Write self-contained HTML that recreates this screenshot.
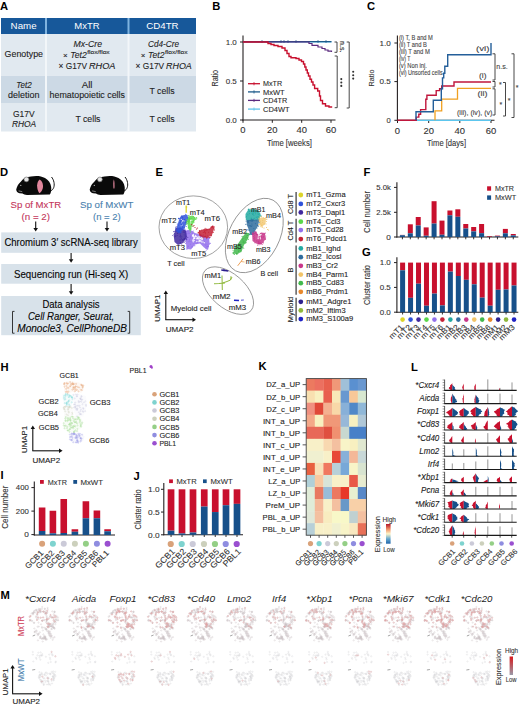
<!DOCTYPE html>
<html><head><meta charset="utf-8"><style>
html,body{margin:0;padding:0;background:#fff;}
body{width:520px;height:707px;overflow:hidden;}
svg{display:block;font-family:"Liberation Sans",sans-serif;}
</style></head><body>
<svg width="520" height="707" viewBox="0 0 520 707">
<text x="0.10" y="9.50" font-size="11.2" fill="#000" font-weight="bold">A</text>
<rect x="1.00" y="18.00" width="195.00" height="16.00" fill="#17589a"/>
<rect x="1.00" y="34.00" width="195.00" height="41.50" fill="#e1e9f0"/>
<rect x="1.00" y="75.60" width="195.00" height="28.00" fill="#ccd9e5"/>
<rect x="1.00" y="103.50" width="195.00" height="28.00" fill="#e1e9f0"/>
<rect x="45.00" y="18.00" width="2.00" height="16.00" fill="#7fb3df"/>
<rect x="127.50" y="18.00" width="2.00" height="16.00" fill="#7fb3df"/>
<rect x="45.00" y="34.00" width="2.00" height="97.50" fill="#f2f6f9"/>
<rect x="127.50" y="34.00" width="2.00" height="97.50" fill="#f2f6f9"/>
<text x="10.60" y="29.33" font-size="9.3" fill="#fff" textLength="26.00" lengthAdjust="spacingAndGlyphs">Name</text>
<text x="74.30" y="29.33" font-size="9.3" fill="#fff" textLength="25.30" lengthAdjust="spacingAndGlyphs">MxTR</text>
<text x="146.30" y="29.33" font-size="9.3" fill="#fff" textLength="32.30" lengthAdjust="spacingAndGlyphs">CD4TR</text>
<text x="4.60" y="57.37" font-size="8.3" fill="#222" textLength="38.40" lengthAdjust="spacingAndGlyphs" stroke="#222" stroke-width="0.1">Genotype</text>
<text x="73.50" y="46.77" font-size="8.3" fill="#222" font-style="italic" textLength="28.50" lengthAdjust="spacingAndGlyphs" stroke="#222" stroke-width="0.1">Mx-Cre</text>
<text x="63.00" y="57.86" font-size="8.0" fill="#222" stroke="#222" stroke-width="0.1">×</text>
<text x="70.20" y="57.97" font-size="8.3" fill="#222" font-style="italic" textLength="16.50" lengthAdjust="spacingAndGlyphs" stroke="#222" stroke-width="0.1">Tet2</text>
<text x="87.20" y="53.73" font-size="5.4" fill="#222" textLength="22.50" lengthAdjust="spacingAndGlyphs" stroke="#222" stroke-width="0.1">flox/flox</text>
<text x="140.80" y="57.86" font-size="8.0" fill="#222" stroke="#222" stroke-width="0.1">×</text>
<text x="148.00" y="57.97" font-size="8.3" fill="#222" font-style="italic" textLength="16.50" lengthAdjust="spacingAndGlyphs" stroke="#222" stroke-width="0.1">Tet2</text>
<text x="165.00" y="53.73" font-size="5.4" fill="#222" textLength="22.50" lengthAdjust="spacingAndGlyphs" stroke="#222" stroke-width="0.1">flox/flox</text>
<text x="58.50" y="68.77" font-size="8.3" fill="#222" textLength="28.50" lengthAdjust="spacingAndGlyphs" stroke="#222" stroke-width="0.1">× G17V</text>
<text x="89.00" y="68.77" font-size="8.3" fill="#222" font-style="italic" textLength="26.50" lengthAdjust="spacingAndGlyphs" stroke="#222" stroke-width="0.1">RHOA</text>
<text x="135.60" y="68.77" font-size="8.3" fill="#222" textLength="28.50" lengthAdjust="spacingAndGlyphs" stroke="#222" stroke-width="0.1">× G17V</text>
<text x="166.10" y="68.77" font-size="8.3" fill="#222" font-style="italic" textLength="25.70" lengthAdjust="spacingAndGlyphs" stroke="#222" stroke-width="0.1">RHOA</text>
<text x="148.00" y="46.77" font-size="8.3" fill="#222" font-style="italic" textLength="31.00" lengthAdjust="spacingAndGlyphs" stroke="#222" stroke-width="0.1">Cd4-Cre</text>
<text x="16.30" y="87.57" font-size="8.3" fill="#222" font-style="italic" textLength="15.40" lengthAdjust="spacingAndGlyphs" stroke="#222" stroke-width="0.1">Tet2</text>
<text x="8.00" y="98.17" font-size="8.3" fill="#222" textLength="31.40" lengthAdjust="spacingAndGlyphs" stroke="#222" stroke-width="0.1">deletion</text>
<text x="81.70" y="87.57" font-size="8.3" fill="#222" textLength="10.80" lengthAdjust="spacingAndGlyphs" stroke="#222" stroke-width="0.1">All</text>
<text x="49.60" y="98.17" font-size="8.3" fill="#222" textLength="75.40" lengthAdjust="spacingAndGlyphs" stroke="#222" stroke-width="0.1">hematopoietic cells</text>
<text x="149.50" y="93.57" font-size="8.3" fill="#222" textLength="25.10" lengthAdjust="spacingAndGlyphs" stroke="#222" stroke-width="0.1">T cells</text>
<text x="13.00" y="116.57" font-size="8.3" fill="#222" textLength="21.60" lengthAdjust="spacingAndGlyphs" stroke="#222" stroke-width="0.1">G17V</text>
<text x="12.00" y="126.77" font-size="8.3" fill="#222" font-style="italic" textLength="24.20" lengthAdjust="spacingAndGlyphs" stroke="#222" stroke-width="0.1">RHOA</text>
<text x="75.40" y="121.97" font-size="8.3" fill="#222" textLength="25.10" lengthAdjust="spacingAndGlyphs" stroke="#222" stroke-width="0.1">T cells</text>
<text x="149.50" y="121.97" font-size="8.3" fill="#222" textLength="25.10" lengthAdjust="spacingAndGlyphs" stroke="#222" stroke-width="0.1">T cells</text>
<text x="212.30" y="9.60" font-size="11.2" fill="#000" font-weight="bold">B</text>
<line x1="243.00" y1="35.50" x2="243.00" y2="120.50" stroke="#231f20" stroke-width="1.1"/>
<line x1="242.50" y1="120.00" x2="335.50" y2="120.00" stroke="#231f20" stroke-width="1.1"/>
<line x1="240.00" y1="42.00" x2="243.00" y2="42.00" stroke="#231f20" stroke-width="1"/>
<line x1="240.00" y1="81.00" x2="243.00" y2="81.00" stroke="#231f20" stroke-width="1"/>
<line x1="240.00" y1="120.00" x2="243.00" y2="120.00" stroke="#231f20" stroke-width="1"/>
<line x1="243.00" y1="120.00" x2="243.00" y2="122.80" stroke="#231f20" stroke-width="1"/>
<line x1="272.30" y1="120.00" x2="272.30" y2="122.80" stroke="#231f20" stroke-width="1"/>
<line x1="301.70" y1="120.00" x2="301.70" y2="122.80" stroke="#231f20" stroke-width="1"/>
<line x1="331.00" y1="120.00" x2="331.00" y2="122.80" stroke="#231f20" stroke-width="1"/>
<text x="236.80" y="44.86" font-size="8.0" text-anchor="end" fill="#333" textLength="11.10" lengthAdjust="spacingAndGlyphs" stroke="#333" stroke-width="0.1">1.0</text>
<text x="236.80" y="83.86" font-size="8.0" text-anchor="end" fill="#333" textLength="11.10" lengthAdjust="spacingAndGlyphs" stroke="#333" stroke-width="0.1">0.5</text>
<text x="236.80" y="122.86" font-size="8.0" text-anchor="end" fill="#333" textLength="11.10" lengthAdjust="spacingAndGlyphs" stroke="#333" stroke-width="0.1">0.0</text>
<text x="243.00" y="133.34" font-size="8.2" text-anchor="middle" fill="#333" textLength="5.24" lengthAdjust="spacingAndGlyphs" stroke="#333" stroke-width="0.1">0</text>
<text x="272.30" y="133.34" font-size="8.2" text-anchor="middle" fill="#333" textLength="10.49" lengthAdjust="spacingAndGlyphs" stroke="#333" stroke-width="0.1">20</text>
<text x="301.70" y="133.34" font-size="8.2" text-anchor="middle" fill="#333" textLength="10.49" lengthAdjust="spacingAndGlyphs" stroke="#333" stroke-width="0.1">40</text>
<text x="331.00" y="133.34" font-size="8.2" text-anchor="middle" fill="#333" textLength="10.49" lengthAdjust="spacingAndGlyphs" stroke="#333" stroke-width="0.1">60</text>
<text x="218.30" y="78.20" font-size="8.6" text-anchor="middle" fill="#333" textLength="16.50" lengthAdjust="spacingAndGlyphs" stroke="#333" stroke-width="0.1" transform="rotate(-90 218.30 78.20)">Ratio</text>
<text x="289.40" y="145.75" font-size="8.8" text-anchor="middle" fill="#333" textLength="45.00" lengthAdjust="spacingAndGlyphs" stroke="#333" stroke-width="0.1">Time [weeks]</text>
<line x1="243.00" y1="42.00" x2="331.50" y2="42.00" stroke="#5fc3ea" stroke-width="1.2"/>
<line x1="243.00" y1="41.60" x2="331.50" y2="41.60" stroke="#1d5a8a" stroke-width="1.1"/>
<line x1="262.00" y1="40.00" x2="262.00" y2="43.00" stroke="#1d5a8a" stroke-width="0.7"/>
<line x1="281.00" y1="40.00" x2="281.00" y2="43.00" stroke="#1d5a8a" stroke-width="0.7"/>
<line x1="284.00" y1="40.00" x2="284.00" y2="43.00" stroke="#1d5a8a" stroke-width="0.7"/>
<line x1="288.00" y1="40.00" x2="288.00" y2="43.00" stroke="#1d5a8a" stroke-width="0.7"/>
<line x1="296.00" y1="40.00" x2="296.00" y2="43.00" stroke="#1d5a8a" stroke-width="0.7"/>
<line x1="318.00" y1="40.00" x2="318.00" y2="43.00" stroke="#1d5a8a" stroke-width="0.7"/>
<line x1="326.00" y1="40.00" x2="326.00" y2="43.00" stroke="#1d5a8a" stroke-width="0.7"/>
<polyline points="243.00,42.00 309.00,42.00 309.00,43.50 312.00,43.50 312.00,45.40 318.00,45.40 318.00,47.00 322.00,47.00 322.00,48.50 325.00,48.50 325.00,50.00 328.00,50.00 328.00,51.20 331.50,51.20 331.50,52.00" fill="none" stroke="#5b2a7e" stroke-width="1.2"/>
<polyline points="243.00,42.00 268.00,42.00 268.00,43.50 271.00,43.50 271.00,44.50 274.00,44.50 274.00,45.50 278.00,45.50 278.00,46.50 282.00,46.50 282.00,48.00 285.00,48.00 285.00,50.50 287.00,50.50 287.00,53.50 289.00,53.50 289.00,56.50 291.00,56.50 291.00,57.70 296.00,57.70 296.00,58.50 299.00,58.50 299.00,60.00 301.50,60.00 301.50,61.50 303.50,61.50 303.50,64.00 304.80,64.00 304.80,67.00 306.00,67.00 306.00,70.00 307.30,70.00 307.30,73.00 308.50,73.00 308.50,76.00 310.00,76.00 310.00,79.20 311.50,79.20 311.50,82.00 313.00,82.00 313.00,85.00 314.60,85.00 314.60,88.50 317.70,88.50 317.70,91.00 319.50,91.00 319.50,96.00 320.50,96.00 320.50,100.50 322.50,100.50 322.50,103.80 325.50,103.80 325.50,106.00 329.00,106.00 329.00,107.00 331.50,107.00 331.50,107.80" fill="none" stroke="#c8102e" stroke-width="1.4"/>
<line x1="248.00" y1="83.70" x2="260.00" y2="83.70" stroke="#c8102e" stroke-width="1.3"/>
<line x1="254.00" y1="82.10" x2="254.00" y2="85.30" stroke="#c8102e" stroke-width="0.8"/>
<text x="263.00" y="86.35" font-size="7.4" fill="#2a2a2a" textLength="19.10" lengthAdjust="spacingAndGlyphs" stroke="#2a2a2a" stroke-width="0.1">MxTR</text>
<line x1="248.00" y1="91.90" x2="260.00" y2="91.90" stroke="#1d5a8a" stroke-width="1.3"/>
<line x1="254.00" y1="90.30" x2="254.00" y2="93.50" stroke="#1d5a8a" stroke-width="0.8"/>
<text x="263.00" y="94.55" font-size="7.4" fill="#2a2a2a" textLength="21.60" lengthAdjust="spacingAndGlyphs" stroke="#2a2a2a" stroke-width="0.1">MxWT</text>
<line x1="248.00" y1="100.40" x2="260.00" y2="100.40" stroke="#5b2a7e" stroke-width="1.3"/>
<line x1="254.00" y1="98.80" x2="254.00" y2="102.00" stroke="#5b2a7e" stroke-width="0.8"/>
<text x="263.00" y="103.05" font-size="7.4" fill="#2a2a2a" textLength="24.20" lengthAdjust="spacingAndGlyphs" stroke="#2a2a2a" stroke-width="0.1">CD4TR</text>
<line x1="248.00" y1="109.10" x2="260.00" y2="109.10" stroke="#5fc3ea" stroke-width="1.3"/>
<line x1="254.00" y1="107.50" x2="254.00" y2="110.70" stroke="#5fc3ea" stroke-width="0.8"/>
<text x="263.00" y="111.75" font-size="7.4" fill="#2a2a2a" textLength="26.50" lengthAdjust="spacingAndGlyphs" stroke="#2a2a2a" stroke-width="0.1">CD4WT</text>
<polyline points="334.50,42.00 337.00,42.00 337.00,52.30 334.50,52.30" fill="none" stroke="#333" stroke-width="0.9"/>
<polyline points="334.70,56.00 337.20,56.00 337.20,107.70 334.70,107.70" fill="none" stroke="#333" stroke-width="0.9"/>
<polyline points="346.70,42.00 349.20,42.00 349.20,108.00 346.70,108.00" fill="none" stroke="#333" stroke-width="0.9"/>
<text x="339.60" y="46.80" font-size="7.2" text-anchor="middle" fill="#222" textLength="11.50" lengthAdjust="spacingAndGlyphs" stroke="#222" stroke-width="0.1" transform="rotate(90 339.60 46.80)">n.s.</text>
<circle cx="341.30" cy="79.10" r="1.05" fill="#333"/>
<circle cx="341.30" cy="82.50" r="1.05" fill="#333"/>
<circle cx="341.30" cy="85.90" r="1.05" fill="#333"/>
<circle cx="353.20" cy="71.80" r="1.05" fill="#333"/>
<circle cx="353.20" cy="75.20" r="1.05" fill="#333"/>
<circle cx="353.20" cy="78.60" r="1.05" fill="#333"/>
<text x="367.00" y="9.80" font-size="11.2" fill="#000" font-weight="bold">C</text>
<line x1="397.40" y1="35.50" x2="397.40" y2="120.50" stroke="#231f20" stroke-width="1.1"/>
<line x1="396.90" y1="120.30" x2="494.50" y2="120.30" stroke="#231f20" stroke-width="1.1"/>
<line x1="394.40" y1="43.00" x2="397.40" y2="43.00" stroke="#231f20" stroke-width="1"/>
<line x1="394.40" y1="81.60" x2="397.40" y2="81.60" stroke="#231f20" stroke-width="1"/>
<line x1="394.40" y1="120.30" x2="397.40" y2="120.30" stroke="#231f20" stroke-width="1"/>
<line x1="397.50" y1="120.30" x2="397.50" y2="123.00" stroke="#231f20" stroke-width="1"/>
<line x1="428.70" y1="120.30" x2="428.70" y2="123.00" stroke="#231f20" stroke-width="1"/>
<line x1="459.80" y1="120.30" x2="459.80" y2="123.00" stroke="#231f20" stroke-width="1"/>
<line x1="491.00" y1="120.30" x2="491.00" y2="123.00" stroke="#231f20" stroke-width="1"/>
<text x="390.80" y="45.72" font-size="7.6" text-anchor="end" fill="#333" textLength="11.30" lengthAdjust="spacingAndGlyphs" stroke="#333" stroke-width="0.1">1.0</text>
<text x="390.80" y="84.32" font-size="7.6" text-anchor="end" fill="#333" textLength="11.30" lengthAdjust="spacingAndGlyphs" stroke="#333" stroke-width="0.1">0.5</text>
<text x="390.80" y="123.02" font-size="7.6" text-anchor="end" fill="#333" stroke="#333" stroke-width="0.1">0</text>
<text x="397.50" y="133.54" font-size="8.2" text-anchor="middle" fill="#333" textLength="5.24" lengthAdjust="spacingAndGlyphs" stroke="#333" stroke-width="0.1">0</text>
<text x="428.70" y="133.54" font-size="8.2" text-anchor="middle" fill="#333" textLength="10.49" lengthAdjust="spacingAndGlyphs" stroke="#333" stroke-width="0.1">20</text>
<text x="459.80" y="133.54" font-size="8.2" text-anchor="middle" fill="#333" textLength="10.49" lengthAdjust="spacingAndGlyphs" stroke="#333" stroke-width="0.1">40</text>
<text x="491.00" y="133.54" font-size="8.2" text-anchor="middle" fill="#333" textLength="10.49" lengthAdjust="spacingAndGlyphs" stroke="#333" stroke-width="0.1">60</text>
<text x="373.50" y="78.00" font-size="7.8" text-anchor="middle" fill="#333" textLength="17.00" lengthAdjust="spacingAndGlyphs" stroke="#333" stroke-width="0.1" transform="rotate(-90 373.50 78.00)">Ratio</text>
<text x="446.50" y="146.15" font-size="8.8" text-anchor="middle" fill="#333" textLength="39.00" lengthAdjust="spacingAndGlyphs" stroke="#333" stroke-width="0.1">Time [days]</text>
<text x="398.90" y="39.73" font-size="6.8" fill="#444" textLength="34.00" lengthAdjust="spacingAndGlyphs" stroke="#444" stroke-width="0.1">(i) T, B and M</text>
<text x="398.90" y="46.73" font-size="6.8" fill="#444" textLength="28.00" lengthAdjust="spacingAndGlyphs" stroke="#444" stroke-width="0.1">(ii) T and B</text>
<text x="398.90" y="54.03" font-size="6.8" fill="#444" textLength="31.00" lengthAdjust="spacingAndGlyphs" stroke="#444" stroke-width="0.1">(iii) T and M</text>
<text x="398.90" y="60.63" font-size="6.8" fill="#444" textLength="11.50" lengthAdjust="spacingAndGlyphs" stroke="#444" stroke-width="0.1">(iv) T</text>
<text x="398.90" y="68.03" font-size="6.8" fill="#444" textLength="28.00" lengthAdjust="spacingAndGlyphs" stroke="#444" stroke-width="0.1">(v) Non inj.</text>
<text x="398.90" y="75.33" font-size="6.8" fill="#444" textLength="43.80" lengthAdjust="spacingAndGlyphs" stroke="#444" stroke-width="0.1">(vi) Unsorted cells</text>
<line x1="416.50" y1="120.30" x2="491.00" y2="120.30" stroke="#5cc6ee" stroke-width="1.3"/>
<polyline points="435.00,120.30 435.00,110.80 441.70,110.80 441.70,99.20 457.50,99.20 457.50,88.30 491.00,88.30" fill="none" stroke="#f0a020" stroke-width="1.3"/>
<polyline points="397.50,120.30 416.30,120.30 416.30,117.10 418.80,117.10 418.80,114.20 420.60,114.20 420.60,109.60 425.80,109.60 425.80,99.20 426.90,99.20 426.90,95.20 436.20,95.20 436.20,90.60 439.60,90.60 439.60,88.80 441.70,88.80 441.70,86.00 454.00,86.00 454.00,82.00 491.00,82.00" fill="none" stroke="#c0163c" stroke-width="1.4"/>
<polyline points="416.00,120.30 416.00,111.70 433.30,111.70 433.30,100.20 441.30,100.20 441.30,88.80 442.50,88.80 442.50,77.90 443.70,77.90 443.70,73.30 444.80,73.30 444.80,66.30 447.70,66.30 447.70,54.80 491.00,54.80 491.00,43.00" fill="none" stroke="#245f9a" stroke-width="1.4"/>
<text x="476.00" y="51.31" font-size="7.0" fill="#444" textLength="13.50" lengthAdjust="spacingAndGlyphs" stroke="#444" stroke-width="0.1">(vi)</text>
<text x="479.00" y="77.71" font-size="7.0" fill="#444" textLength="7.50" lengthAdjust="spacingAndGlyphs" stroke="#444" stroke-width="0.1">(i)</text>
<text x="477.50" y="96.31" font-size="7.0" fill="#444" textLength="10.00" lengthAdjust="spacingAndGlyphs" stroke="#444" stroke-width="0.1">(ii)</text>
<text x="457.00" y="115.01" font-size="7.0" fill="#444" textLength="35.50" lengthAdjust="spacingAndGlyphs" stroke="#444" stroke-width="0.1">(iii), (iv), (v)</text>
<polyline points="492.50,53.80 495.00,53.80 495.00,80.00 492.50,80.00" fill="none" stroke="#333" stroke-width="0.9"/>
<text x="496.20" y="68.51" font-size="7.0" fill="#444" textLength="11.50" lengthAdjust="spacingAndGlyphs" stroke="#444" stroke-width="0.1">n.s.</text>
<polyline points="492.50,81.50 495.00,81.50 495.00,87.00 492.50,87.00" fill="none" stroke="#333" stroke-width="0.9"/>
<text x="499.00" y="87.31" font-size="7" fill="#444" stroke="#444" stroke-width="0.1">*</text>
<polyline points="492.50,88.80 495.00,88.80 495.00,115.00 492.50,115.00" fill="none" stroke="#333" stroke-width="0.9"/>
<text x="499.50" y="107.01" font-size="7" fill="#444" stroke="#444" stroke-width="0.1">*</text>
<polyline points="503.00,82.50 505.50,82.50 505.50,116.00 503.00,116.00" fill="none" stroke="#333" stroke-width="0.9"/>
<text x="507.80" y="103.31" font-size="7" fill="#444" stroke="#444" stroke-width="0.1">*</text>
<polyline points="511.50,53.80 514.00,53.80 514.00,117.50 511.50,117.50" fill="none" stroke="#333" stroke-width="0.9"/>
<text x="515.80" y="89.51" font-size="7" fill="#444" stroke="#444" stroke-width="0.1">*</text>
<text x="0.00" y="175.80" font-size="11.2" fill="#000" font-weight="bold">D</text>
<g transform="translate(0,0)">
<path d="M16.2,189.4 C17,186.5 18.5,183.5 21,181.5 C22.5,180 23.5,178.5 25,177.8 C27,177 29,177.2 31,176.6 C35,175.4 41,175.6 45,178 C48.5,180 50.8,183 51.2,187 C51.5,190.5 51,193 49.8,194.6 L27,194.9 C25,194.9 23.5,194.3 22.5,193.6 L19.5,193.3 C17.6,192.8 16.4,191.4 16.2,189.4 Z" fill="#0a0a0a"/>
<path d="M50.6,191 C53.8,189.5 54.6,186 54,182.5 C53.6,180.2 52.6,178.3 51.5,177" fill="none" stroke="#111" stroke-width="1.0"/>
<circle cx="26.4" cy="179.4" r="2.4" fill="#e6e6e6" stroke="#777" stroke-width="0.6"/>
<circle cx="20.8" cy="185.4" r="0.6" fill="#bbb"/>
<path d="M18.6,190.9 L22.2,191.6" stroke="#eee" stroke-width="0.5"/>
<path d="M39.7,179.4 C42.5,181 43.2,184.5 43,187 C42.7,190 41.3,192.2 39.3,193.2 C37.6,191 37,187.5 37.1,185.3 C37.3,182.6 38.2,180.5 39.7,179.4 Z" fill="#e2879d"/>
</g>
<g transform="translate(73.5,0)">
<path d="M16.2,189.4 C17,186.5 18.5,183.5 21,181.5 C22.5,180 23.5,178.5 25,177.8 C27,177 29,177.2 31,176.6 C35,175.4 41,175.6 45,178 C48.5,180 50.8,183 51.2,187 C51.5,190.5 51,193 49.8,194.6 L27,194.9 C25,194.9 23.5,194.3 22.5,193.6 L19.5,193.3 C17.6,192.8 16.4,191.4 16.2,189.4 Z" fill="#0a0a0a"/>
<path d="M50.6,191 C53.8,189.5 54.6,186 54,182.5 C53.6,180.2 52.6,178.3 51.5,177" fill="none" stroke="#111" stroke-width="1.0"/>
<circle cx="26.4" cy="179.4" r="2.4" fill="#e6e6e6" stroke="#777" stroke-width="0.6"/>
<circle cx="20.8" cy="185.4" r="0.6" fill="#bbb"/>
<path d="M18.6,190.9 L22.2,191.6" stroke="#eee" stroke-width="0.5"/>
<path d="M40.3,179.2 C41.1,181 41.2,185 40.9,188.6 L40.0,188.6 C39.6,185 39.7,181.5 40.3,179.2 Z" fill="#e2879d"/>
</g>
<text x="10.50" y="207.89" font-size="9.2" fill="#c4365a" textLength="50.70" lengthAdjust="spacingAndGlyphs" stroke="#c4365a" stroke-width="0.1">Sp of MxTR</text>
<text x="21.50" y="219.89" font-size="9.2" fill="#c4365a" textLength="28.50" lengthAdjust="spacingAndGlyphs" stroke="#c4365a" stroke-width="0.1">(n = 2)</text>
<text x="80.00" y="207.89" font-size="9.2" fill="#4a7fae" textLength="53.40" lengthAdjust="spacingAndGlyphs" stroke="#4a7fae" stroke-width="0.1">Sp of MxWT</text>
<text x="93.00" y="219.89" font-size="9.2" fill="#4a7fae" textLength="27.80" lengthAdjust="spacingAndGlyphs" stroke="#4a7fae" stroke-width="0.1">(n = 2)</text>
<line x1="35.70" y1="221.60" x2="35.70" y2="228.60" stroke="#111" stroke-width="1.1"/>
<polygon points="33.40,228.10 38.00,228.10 35.70,231.60" fill="#111"/>
<line x1="107.00" y1="221.60" x2="107.00" y2="228.60" stroke="#111" stroke-width="1.1"/>
<polygon points="104.70,228.10 109.30,228.10 107.00,231.60" fill="#111"/>
<rect x="1.20" y="232.40" width="139.60" height="20.40" fill="#d8e2ea"/>
<text x="4.40" y="246.35" font-size="10.2" textLength="133.40" lengthAdjust="spacingAndGlyphs" stroke="#231f20" stroke-width="0.1">Chromium 3′ scRNA-seq library</text>
<line x1="71.10" y1="253.00" x2="71.10" y2="259.80" stroke="#111" stroke-width="1.1"/>
<polygon points="68.80,259.30 73.40,259.30 71.10,262.80" fill="#111"/>
<rect x="1.20" y="264.00" width="139.60" height="19.70" fill="#d8e2ea"/>
<text x="14.00" y="277.55" font-size="10.2" textLength="114.30" lengthAdjust="spacingAndGlyphs" stroke="#231f20" stroke-width="0.1">Sequencing run (Hi-seq X)</text>
<line x1="71.10" y1="284.00" x2="71.10" y2="291.80" stroke="#111" stroke-width="1.1"/>
<polygon points="68.80,291.30 73.40,291.30 71.10,294.80" fill="#111"/>
<rect x="1.20" y="296.00" width="139.60" height="39.20" fill="#d8e2ea"/>
<text x="42.40" y="308.25" font-size="10.2" textLength="57.20" lengthAdjust="spacingAndGlyphs" stroke="#231f20" stroke-width="0.1">Data analysis</text>
<text x="27.90" y="320.25" font-size="10.2" font-style="italic" textLength="86.40" lengthAdjust="spacingAndGlyphs" stroke="#231f20" stroke-width="0.1">Cell Ranger, Seurat,</text>
<text x="17.30" y="331.95" font-size="10.2" font-style="italic" textLength="109.60" lengthAdjust="spacingAndGlyphs" stroke="#231f20" stroke-width="0.1">Monocle3, CellPhoneDB</text>
<polyline points="14.50,311.40 12.50,311.40 12.50,333.20 14.50,333.20" fill="none" stroke="#222" stroke-width="0.9"/>
<polyline points="127.70,311.40 129.70,311.40 129.70,333.20 127.70,333.20" fill="none" stroke="#222" stroke-width="0.9"/>
<text x="155.60" y="175.70" font-size="11.2" fill="#000" font-weight="bold">E</text>
<ellipse cx="193.3" cy="227.2" rx="34.3" ry="31.3" fill="none" stroke="#8a8a8a" stroke-width="0.8"/>
<ellipse cx="0" cy="0" rx="25" ry="40" transform="translate(254.3 235.5) rotate(28)" fill="none" stroke="#8a8a8a" stroke-width="0.8"/>
<ellipse cx="0" cy="0" rx="30.5" ry="17" transform="translate(228 290.6) rotate(41)" fill="none" stroke="#8a8a8a" stroke-width="0.8"/>
<polygon points="185.00,231.00 190.00,229.50 195.00,233.00 200.00,234.50 205.00,236.00 209.00,237.00 209.50,243.00 208.00,250.00 204.00,247.50 200.00,243.50 195.00,244.50 191.00,249.50 186.50,249.00 186.00,242.00 184.50,236.00" fill="#9370ec" fill-opacity="0.85"/>
<circle cx="192.17" cy="231.75" r="0.55" fill="#9370ec" fill-opacity="0.9"/>
<circle cx="197.98" cy="236.67" r="0.55" fill="#9370ec" fill-opacity="0.9"/>
<circle cx="184.89" cy="239.92" r="0.55" fill="#9370ec" fill-opacity="0.9"/>
<circle cx="184.33" cy="238.23" r="0.55" fill="#9370ec" fill-opacity="0.9"/>
<circle cx="185.21" cy="230.38" r="0.55" fill="#9370ec" fill-opacity="0.9"/>
<circle cx="186.69" cy="233.41" r="0.55" fill="#9370ec" fill-opacity="0.9"/>
<circle cx="199.11" cy="237.38" r="0.55" fill="#9370ec" fill-opacity="0.9"/>
<circle cx="187.25" cy="231.00" r="0.55" fill="#9370ec" fill-opacity="0.9"/>
<circle cx="191.75" cy="246.99" r="0.55" fill="#9370ec" fill-opacity="0.9"/>
<circle cx="188.25" cy="241.62" r="0.55" fill="#9370ec" fill-opacity="0.9"/>
<circle cx="200.81" cy="236.83" r="0.55" fill="#9370ec" fill-opacity="0.9"/>
<circle cx="184.93" cy="233.02" r="0.55" fill="#9370ec" fill-opacity="0.9"/>
<circle cx="201.94" cy="238.09" r="0.55" fill="#9370ec" fill-opacity="0.9"/>
<circle cx="191.91" cy="241.71" r="0.55" fill="#9370ec" fill-opacity="0.9"/>
<circle cx="195.72" cy="235.16" r="0.55" fill="#9370ec" fill-opacity="0.9"/>
<circle cx="205.07" cy="244.31" r="0.55" fill="#9370ec" fill-opacity="0.9"/>
<circle cx="189.99" cy="241.45" r="0.55" fill="#9370ec" fill-opacity="0.9"/>
<circle cx="203.29" cy="234.89" r="0.55" fill="#9370ec" fill-opacity="0.9"/>
<circle cx="194.76" cy="245.64" r="0.55" fill="#9370ec" fill-opacity="0.9"/>
<circle cx="187.46" cy="239.50" r="0.55" fill="#9370ec" fill-opacity="0.9"/>
<circle cx="204.25" cy="241.42" r="0.55" fill="#9370ec" fill-opacity="0.9"/>
<circle cx="207.29" cy="235.48" r="0.55" fill="#9370ec" fill-opacity="0.9"/>
<circle cx="202.35" cy="241.91" r="0.55" fill="#9370ec" fill-opacity="0.9"/>
<circle cx="199.19" cy="238.75" r="0.55" fill="#9370ec" fill-opacity="0.9"/>
<circle cx="206.32" cy="249.93" r="0.55" fill="#9370ec" fill-opacity="0.9"/>
<circle cx="196.29" cy="243.51" r="0.55" fill="#9370ec" fill-opacity="0.9"/>
<circle cx="193.87" cy="243.61" r="0.55" fill="#9370ec" fill-opacity="0.9"/>
<circle cx="187.90" cy="230.98" r="0.55" fill="#9370ec" fill-opacity="0.9"/>
<circle cx="186.84" cy="233.97" r="0.55" fill="#9370ec" fill-opacity="0.9"/>
<circle cx="185.51" cy="238.59" r="0.55" fill="#9370ec" fill-opacity="0.9"/>
<circle cx="205.75" cy="248.09" r="0.55" fill="#9370ec" fill-opacity="0.9"/>
<circle cx="190.93" cy="237.81" r="0.55" fill="#9370ec" fill-opacity="0.9"/>
<circle cx="188.13" cy="233.61" r="0.55" fill="#9370ec" fill-opacity="0.9"/>
<circle cx="189.69" cy="239.41" r="0.55" fill="#9370ec" fill-opacity="0.9"/>
<circle cx="199.44" cy="234.32" r="0.55" fill="#9370ec" fill-opacity="0.9"/>
<circle cx="193.42" cy="241.27" r="0.55" fill="#9370ec" fill-opacity="0.9"/>
<circle cx="209.41" cy="244.11" r="0.55" fill="#9370ec" fill-opacity="0.9"/>
<circle cx="197.42" cy="242.44" r="0.55" fill="#9370ec" fill-opacity="0.9"/>
<circle cx="207.95" cy="246.16" r="0.55" fill="#9370ec" fill-opacity="0.9"/>
<circle cx="207.26" cy="246.57" r="0.55" fill="#9370ec" fill-opacity="0.9"/>
<circle cx="194.05" cy="237.44" r="0.55" fill="#9370ec" fill-opacity="0.9"/>
<circle cx="186.14" cy="242.83" r="0.55" fill="#9370ec" fill-opacity="0.9"/>
<circle cx="185.01" cy="229.84" r="0.55" fill="#9370ec" fill-opacity="0.9"/>
<circle cx="189.02" cy="232.02" r="0.55" fill="#9370ec" fill-opacity="0.9"/>
<circle cx="186.08" cy="236.63" r="0.55" fill="#9370ec" fill-opacity="0.9"/>
<circle cx="190.21" cy="236.26" r="0.55" fill="#9370ec" fill-opacity="0.9"/>
<circle cx="193.28" cy="231.11" r="0.55" fill="#9370ec" fill-opacity="0.9"/>
<circle cx="196.07" cy="239.38" r="0.55" fill="#9370ec" fill-opacity="0.9"/>
<circle cx="185.65" cy="230.64" r="0.55" fill="#9370ec" fill-opacity="0.9"/>
<circle cx="192.69" cy="234.36" r="0.55" fill="#9370ec" fill-opacity="0.9"/>
<circle cx="206.96" cy="244.24" r="0.55" fill="#9370ec" fill-opacity="0.9"/>
<circle cx="190.45" cy="236.70" r="0.55" fill="#9370ec" fill-opacity="0.9"/>
<circle cx="187.88" cy="245.98" r="0.55" fill="#9370ec" fill-opacity="0.9"/>
<circle cx="192.33" cy="233.41" r="0.55" fill="#9370ec" fill-opacity="0.9"/>
<circle cx="206.66" cy="246.76" r="0.55" fill="#9370ec" fill-opacity="0.9"/>
<circle cx="205.72" cy="245.24" r="0.55" fill="#9370ec" fill-opacity="0.9"/>
<circle cx="189.51" cy="240.15" r="0.55" fill="#9370ec" fill-opacity="0.9"/>
<circle cx="184.07" cy="234.70" r="0.55" fill="#9370ec" fill-opacity="0.9"/>
<circle cx="190.40" cy="244.16" r="0.55" fill="#9370ec" fill-opacity="0.9"/>
<circle cx="209.51" cy="238.54" r="0.55" fill="#9370ec" fill-opacity="0.9"/>
<circle cx="189.34" cy="233.49" r="0.55" fill="#9370ec" fill-opacity="0.9"/>
<circle cx="188.69" cy="232.98" r="0.55" fill="#9370ec" fill-opacity="0.9"/>
<circle cx="206.33" cy="239.28" r="0.55" fill="#9370ec" fill-opacity="0.9"/>
<circle cx="185.62" cy="243.43" r="0.55" fill="#9370ec" fill-opacity="0.9"/>
<circle cx="208.23" cy="246.21" r="0.55" fill="#9370ec" fill-opacity="0.9"/>
<circle cx="203.85" cy="239.25" r="0.55" fill="#9370ec" fill-opacity="0.9"/>
<circle cx="188.19" cy="246.37" r="0.55" fill="#9370ec" fill-opacity="0.9"/>
<circle cx="192.41" cy="246.64" r="0.55" fill="#9370ec" fill-opacity="0.9"/>
<circle cx="209.92" cy="237.36" r="0.55" fill="#9370ec" fill-opacity="0.9"/>
<circle cx="186.78" cy="231.76" r="0.55" fill="#9370ec" fill-opacity="0.9"/>
<circle cx="208.09" cy="246.77" r="0.55" fill="#9370ec" fill-opacity="0.9"/>
<circle cx="187.31" cy="247.23" r="0.55" fill="#9370ec" fill-opacity="0.9"/>
<circle cx="210.16" cy="243.35" r="0.55" fill="#9370ec" fill-opacity="0.9"/>
<circle cx="192.90" cy="240.86" r="0.55" fill="#9370ec" fill-opacity="0.9"/>
<circle cx="209.90" cy="243.18" r="0.55" fill="#9370ec" fill-opacity="0.9"/>
<circle cx="190.20" cy="235.01" r="0.55" fill="#9370ec" fill-opacity="0.9"/>
<circle cx="189.89" cy="241.73" r="0.55" fill="#9370ec" fill-opacity="0.9"/>
<circle cx="190.41" cy="237.90" r="0.55" fill="#9370ec" fill-opacity="0.9"/>
<circle cx="186.89" cy="249.14" r="0.55" fill="#9370ec" fill-opacity="0.9"/>
<circle cx="192.99" cy="238.79" r="0.55" fill="#9370ec" fill-opacity="0.9"/>
<circle cx="199.02" cy="238.79" r="0.75" fill="#fff" fill-opacity="0.8"/>
<circle cx="194.41" cy="238.26" r="0.75" fill="#fff" fill-opacity="0.8"/>
<circle cx="202.15" cy="239.01" r="0.75" fill="#fff" fill-opacity="0.8"/>
<circle cx="196.56" cy="238.67" r="0.75" fill="#fff" fill-opacity="0.8"/>
<circle cx="199.78" cy="241.06" r="0.75" fill="#fff" fill-opacity="0.8"/>
<circle cx="193.49" cy="239.04" r="0.75" fill="#fff" fill-opacity="0.8"/>
<circle cx="195.48" cy="236.49" r="0.75" fill="#fff" fill-opacity="0.8"/>
<circle cx="202.81" cy="238.57" r="0.75" fill="#fff" fill-opacity="0.8"/>
<circle cx="199.86" cy="240.84" r="0.75" fill="#fff" fill-opacity="0.8"/>
<circle cx="200.58" cy="238.55" r="0.75" fill="#fff" fill-opacity="0.8"/>
<circle cx="199.17" cy="240.23" r="0.75" fill="#fff" fill-opacity="0.8"/>
<circle cx="198.33" cy="238.80" r="0.75" fill="#fff" fill-opacity="0.8"/>
<circle cx="201.79" cy="241.89" r="0.75" fill="#fff" fill-opacity="0.8"/>
<circle cx="193.70" cy="237.98" r="0.75" fill="#fff" fill-opacity="0.8"/>
<circle cx="193.02" cy="236.17" r="0.75" fill="#fff" fill-opacity="0.8"/>
<circle cx="193.02" cy="240.03" r="0.75" fill="#fff" fill-opacity="0.8"/>
<circle cx="202.98" cy="242.07" r="0.75" fill="#fff" fill-opacity="0.8"/>
<circle cx="194.16" cy="240.45" r="0.75" fill="#fff" fill-opacity="0.8"/>
<circle cx="204.36" cy="242.71" r="0.75" fill="#fff" fill-opacity="0.8"/>
<circle cx="197.58" cy="238.39" r="0.75" fill="#fff" fill-opacity="0.8"/>
<circle cx="194.26" cy="237.88" r="0.75" fill="#fff" fill-opacity="0.8"/>
<circle cx="199.22" cy="237.05" r="0.75" fill="#fff" fill-opacity="0.8"/>
<circle cx="194.74" cy="236.87" r="0.75" fill="#fff" fill-opacity="0.8"/>
<circle cx="199.76" cy="237.96" r="0.75" fill="#fff" fill-opacity="0.8"/>
<circle cx="200.73" cy="238.61" r="0.75" fill="#fff" fill-opacity="0.8"/>
<circle cx="193.47" cy="236.39" r="0.75" fill="#fff" fill-opacity="0.8"/>
<circle cx="199.99" cy="240.30" r="0.75" fill="#fff" fill-opacity="0.8"/>
<circle cx="193.25" cy="234.52" r="0.75" fill="#fff" fill-opacity="0.8"/>
<circle cx="201.63" cy="237.83" r="0.75" fill="#fff" fill-opacity="0.8"/>
<circle cx="200.88" cy="241.21" r="0.75" fill="#fff" fill-opacity="0.8"/>
<circle cx="193.17" cy="241.71" r="0.75" fill="#fff" fill-opacity="0.8"/>
<circle cx="198.35" cy="237.05" r="0.75" fill="#fff" fill-opacity="0.8"/>
<circle cx="193.53" cy="235.45" r="0.75" fill="#fff" fill-opacity="0.8"/>
<circle cx="192.71" cy="235.82" r="0.75" fill="#fff" fill-opacity="0.8"/>
<circle cx="196.37" cy="236.75" r="0.75" fill="#fff" fill-opacity="0.8"/>
<circle cx="202.26" cy="238.96" r="0.75" fill="#fff" fill-opacity="0.8"/>
<circle cx="194.65" cy="238.27" r="0.75" fill="#fff" fill-opacity="0.8"/>
<circle cx="198.93" cy="241.51" r="0.75" fill="#fff" fill-opacity="0.8"/>
<circle cx="197.50" cy="238.56" r="0.75" fill="#fff" fill-opacity="0.8"/>
<circle cx="196.80" cy="241.49" r="0.75" fill="#fff" fill-opacity="0.8"/>
<circle cx="201.89" cy="239.72" r="0.75" fill="#fff" fill-opacity="0.8"/>
<circle cx="197.67" cy="237.13" r="0.75" fill="#fff" fill-opacity="0.8"/>
<circle cx="192.76" cy="235.17" r="0.75" fill="#fff" fill-opacity="0.8"/>
<circle cx="192.99" cy="240.67" r="0.75" fill="#fff" fill-opacity="0.8"/>
<circle cx="195.58" cy="235.47" r="0.75" fill="#fff" fill-opacity="0.8"/>
<polygon points="175.50,228.00 181.00,227.50 186.00,231.00 187.00,237.00 183.00,243.00 178.00,245.00 174.50,242.00 173.80,236.50" fill="#40289e" fill-opacity="0.85"/>
<circle cx="186.18" cy="239.64" r="0.55" fill="#40289e" fill-opacity="0.9"/>
<circle cx="177.00" cy="231.12" r="0.55" fill="#40289e" fill-opacity="0.9"/>
<circle cx="177.17" cy="235.44" r="0.55" fill="#40289e" fill-opacity="0.9"/>
<circle cx="175.06" cy="235.17" r="0.55" fill="#40289e" fill-opacity="0.9"/>
<circle cx="187.77" cy="237.19" r="0.55" fill="#40289e" fill-opacity="0.9"/>
<circle cx="177.43" cy="233.40" r="0.55" fill="#40289e" fill-opacity="0.9"/>
<circle cx="180.00" cy="236.31" r="0.55" fill="#40289e" fill-opacity="0.9"/>
<circle cx="175.74" cy="236.34" r="0.55" fill="#40289e" fill-opacity="0.9"/>
<circle cx="174.00" cy="234.25" r="0.55" fill="#40289e" fill-opacity="0.9"/>
<circle cx="177.35" cy="230.93" r="0.55" fill="#40289e" fill-opacity="0.9"/>
<circle cx="181.74" cy="236.83" r="0.55" fill="#40289e" fill-opacity="0.9"/>
<circle cx="184.31" cy="239.39" r="0.55" fill="#40289e" fill-opacity="0.9"/>
<circle cx="178.68" cy="232.79" r="0.55" fill="#40289e" fill-opacity="0.9"/>
<circle cx="183.90" cy="239.10" r="0.55" fill="#40289e" fill-opacity="0.9"/>
<circle cx="186.51" cy="238.78" r="0.55" fill="#40289e" fill-opacity="0.9"/>
<circle cx="184.05" cy="242.46" r="0.55" fill="#40289e" fill-opacity="0.9"/>
<circle cx="174.77" cy="236.72" r="0.55" fill="#40289e" fill-opacity="0.9"/>
<circle cx="180.47" cy="242.92" r="0.55" fill="#40289e" fill-opacity="0.9"/>
<circle cx="181.71" cy="244.07" r="0.55" fill="#40289e" fill-opacity="0.9"/>
<circle cx="183.25" cy="240.10" r="0.55" fill="#40289e" fill-opacity="0.9"/>
<circle cx="176.19" cy="226.92" r="0.55" fill="#40289e" fill-opacity="0.9"/>
<circle cx="174.68" cy="233.48" r="0.55" fill="#40289e" fill-opacity="0.9"/>
<circle cx="181.31" cy="238.79" r="0.55" fill="#40289e" fill-opacity="0.9"/>
<circle cx="182.37" cy="239.85" r="0.55" fill="#40289e" fill-opacity="0.9"/>
<circle cx="185.04" cy="241.19" r="0.55" fill="#40289e" fill-opacity="0.9"/>
<circle cx="180.45" cy="236.95" r="0.55" fill="#40289e" fill-opacity="0.9"/>
<circle cx="184.09" cy="231.32" r="0.55" fill="#40289e" fill-opacity="0.9"/>
<circle cx="173.76" cy="231.58" r="0.55" fill="#40289e" fill-opacity="0.9"/>
<circle cx="183.98" cy="230.38" r="0.55" fill="#40289e" fill-opacity="0.9"/>
<circle cx="180.31" cy="233.91" r="0.55" fill="#40289e" fill-opacity="0.9"/>
<circle cx="180.07" cy="239.91" r="0.55" fill="#40289e" fill-opacity="0.9"/>
<circle cx="184.56" cy="238.58" r="0.55" fill="#40289e" fill-opacity="0.9"/>
<circle cx="182.63" cy="227.84" r="0.55" fill="#40289e" fill-opacity="0.9"/>
<circle cx="174.90" cy="231.35" r="0.55" fill="#40289e" fill-opacity="0.9"/>
<circle cx="184.19" cy="232.36" r="0.55" fill="#40289e" fill-opacity="0.9"/>
<circle cx="183.08" cy="240.07" r="0.55" fill="#40289e" fill-opacity="0.9"/>
<circle cx="183.14" cy="232.09" r="0.55" fill="#40289e" fill-opacity="0.9"/>
<circle cx="180.66" cy="235.55" r="0.55" fill="#40289e" fill-opacity="0.9"/>
<circle cx="179.87" cy="228.66" r="0.55" fill="#40289e" fill-opacity="0.9"/>
<circle cx="172.87" cy="235.43" r="0.55" fill="#40289e" fill-opacity="0.9"/>
<polygon points="181.00,215.80 186.50,214.50 188.50,218.00 186.50,223.50 184.00,229.00 180.00,232.50 176.50,232.00 177.00,226.50 179.00,220.00" fill="#2f52da" fill-opacity="0.85"/>
<circle cx="181.77" cy="218.78" r="0.55" fill="#2f52da" fill-opacity="0.9"/>
<circle cx="178.32" cy="232.59" r="0.55" fill="#2f52da" fill-opacity="0.9"/>
<circle cx="178.33" cy="225.16" r="0.55" fill="#2f52da" fill-opacity="0.9"/>
<circle cx="177.34" cy="223.99" r="0.55" fill="#2f52da" fill-opacity="0.9"/>
<circle cx="187.11" cy="223.68" r="0.55" fill="#2f52da" fill-opacity="0.9"/>
<circle cx="178.63" cy="231.61" r="0.55" fill="#2f52da" fill-opacity="0.9"/>
<circle cx="181.79" cy="219.46" r="0.55" fill="#2f52da" fill-opacity="0.9"/>
<circle cx="179.85" cy="230.44" r="0.55" fill="#2f52da" fill-opacity="0.9"/>
<circle cx="187.38" cy="215.75" r="0.55" fill="#2f52da" fill-opacity="0.9"/>
<circle cx="188.28" cy="219.21" r="0.55" fill="#2f52da" fill-opacity="0.9"/>
<circle cx="180.66" cy="221.32" r="0.55" fill="#2f52da" fill-opacity="0.9"/>
<circle cx="180.49" cy="222.03" r="0.55" fill="#2f52da" fill-opacity="0.9"/>
<circle cx="176.76" cy="230.33" r="0.55" fill="#2f52da" fill-opacity="0.9"/>
<circle cx="179.41" cy="232.39" r="0.55" fill="#2f52da" fill-opacity="0.9"/>
<circle cx="178.89" cy="218.72" r="0.55" fill="#2f52da" fill-opacity="0.9"/>
<circle cx="182.66" cy="217.17" r="0.55" fill="#2f52da" fill-opacity="0.9"/>
<circle cx="180.68" cy="232.81" r="0.55" fill="#2f52da" fill-opacity="0.9"/>
<circle cx="185.66" cy="214.31" r="0.55" fill="#2f52da" fill-opacity="0.9"/>
<circle cx="185.85" cy="222.50" r="0.55" fill="#2f52da" fill-opacity="0.9"/>
<circle cx="186.14" cy="226.45" r="0.55" fill="#2f52da" fill-opacity="0.9"/>
<circle cx="182.10" cy="220.31" r="0.55" fill="#2f52da" fill-opacity="0.9"/>
<circle cx="179.59" cy="228.38" r="0.55" fill="#2f52da" fill-opacity="0.9"/>
<circle cx="189.36" cy="218.61" r="0.55" fill="#2f52da" fill-opacity="0.9"/>
<circle cx="184.75" cy="219.44" r="0.55" fill="#2f52da" fill-opacity="0.9"/>
<circle cx="183.33" cy="221.35" r="0.55" fill="#2f52da" fill-opacity="0.9"/>
<circle cx="178.29" cy="231.78" r="0.55" fill="#2f52da" fill-opacity="0.9"/>
<circle cx="182.46" cy="217.79" r="0.55" fill="#2f52da" fill-opacity="0.9"/>
<circle cx="181.78" cy="216.15" r="0.55" fill="#2f52da" fill-opacity="0.9"/>
<circle cx="178.74" cy="218.57" r="0.55" fill="#2f52da" fill-opacity="0.9"/>
<circle cx="186.10" cy="221.72" r="0.55" fill="#2f52da" fill-opacity="0.9"/>
<circle cx="181.26" cy="223.99" r="0.55" fill="#2f52da" fill-opacity="0.9"/>
<circle cx="180.73" cy="220.20" r="0.55" fill="#2f52da" fill-opacity="0.9"/>
<circle cx="182.55" cy="226.14" r="0.55" fill="#2f52da" fill-opacity="0.9"/>
<circle cx="187.73" cy="217.71" r="0.55" fill="#2f52da" fill-opacity="0.9"/>
<circle cx="179.20" cy="218.37" r="0.55" fill="#2f52da" fill-opacity="0.9"/>
<circle cx="181.06" cy="222.40" r="0.55" fill="#2f52da" fill-opacity="0.9"/>
<circle cx="175.76" cy="227.77" r="0.55" fill="#2f52da" fill-opacity="0.9"/>
<circle cx="180.94" cy="232.21" r="0.55" fill="#2f52da" fill-opacity="0.9"/>
<circle cx="189.30" cy="218.37" r="0.55" fill="#2f52da" fill-opacity="0.9"/>
<circle cx="182.82" cy="227.21" r="0.55" fill="#2f52da" fill-opacity="0.9"/>
<circle cx="184.62" cy="228.90" r="0.55" fill="#2f52da" fill-opacity="0.9"/>
<circle cx="181.89" cy="224.55" r="0.55" fill="#2f52da" fill-opacity="0.9"/>
<circle cx="175.87" cy="229.26" r="0.55" fill="#2f52da" fill-opacity="0.9"/>
<circle cx="178.65" cy="232.07" r="0.55" fill="#2f52da" fill-opacity="0.9"/>
<circle cx="184.60" cy="219.50" r="0.55" fill="#2f52da" fill-opacity="0.9"/>
<circle cx="184.46" cy="227.55" r="0.55" fill="#2f52da" fill-opacity="0.9"/>
<circle cx="182.85" cy="225.19" r="0.55" fill="#2f52da" fill-opacity="0.9"/>
<circle cx="180.89" cy="217.86" r="0.55" fill="#2f52da" fill-opacity="0.9"/>
<circle cx="179.64" cy="222.70" r="0.55" fill="#2f52da" fill-opacity="0.9"/>
<circle cx="178.68" cy="218.34" r="0.55" fill="#2f52da" fill-opacity="0.9"/>
<circle cx="181.54" cy="219.20" r="0.50" fill="#fff" fill-opacity="0.8"/>
<circle cx="182.49" cy="225.07" r="0.50" fill="#fff" fill-opacity="0.8"/>
<circle cx="182.10" cy="221.32" r="0.50" fill="#fff" fill-opacity="0.8"/>
<circle cx="181.13" cy="219.31" r="0.50" fill="#fff" fill-opacity="0.8"/>
<circle cx="181.69" cy="222.79" r="0.50" fill="#fff" fill-opacity="0.8"/>
<circle cx="183.41" cy="220.78" r="0.50" fill="#fff" fill-opacity="0.8"/>
<circle cx="182.52" cy="220.85" r="0.50" fill="#fff" fill-opacity="0.8"/>
<circle cx="184.10" cy="221.08" r="0.50" fill="#fff" fill-opacity="0.8"/>
<circle cx="181.11" cy="225.84" r="0.50" fill="#fff" fill-opacity="0.8"/>
<circle cx="182.48" cy="220.69" r="0.50" fill="#fff" fill-opacity="0.8"/>
<polygon points="188.00,216.50 192.50,215.50 196.00,218.00 194.00,222.00 192.00,226.00 190.50,231.00 188.30,229.00 187.20,222.00" fill="#5ad84a" fill-opacity="0.85"/>
<circle cx="188.50" cy="221.76" r="0.55" fill="#5ad84a" fill-opacity="0.9"/>
<circle cx="187.64" cy="221.34" r="0.55" fill="#5ad84a" fill-opacity="0.9"/>
<circle cx="186.67" cy="221.34" r="0.55" fill="#5ad84a" fill-opacity="0.9"/>
<circle cx="193.44" cy="221.08" r="0.55" fill="#5ad84a" fill-opacity="0.9"/>
<circle cx="190.19" cy="220.24" r="0.55" fill="#5ad84a" fill-opacity="0.9"/>
<circle cx="189.13" cy="220.59" r="0.55" fill="#5ad84a" fill-opacity="0.9"/>
<circle cx="196.80" cy="218.01" r="0.55" fill="#5ad84a" fill-opacity="0.9"/>
<circle cx="189.99" cy="229.01" r="0.55" fill="#5ad84a" fill-opacity="0.9"/>
<circle cx="186.55" cy="222.78" r="0.55" fill="#5ad84a" fill-opacity="0.9"/>
<circle cx="190.17" cy="230.76" r="0.55" fill="#5ad84a" fill-opacity="0.9"/>
<circle cx="188.16" cy="220.82" r="0.55" fill="#5ad84a" fill-opacity="0.9"/>
<circle cx="190.60" cy="228.83" r="0.55" fill="#5ad84a" fill-opacity="0.9"/>
<circle cx="196.30" cy="218.90" r="0.55" fill="#5ad84a" fill-opacity="0.9"/>
<circle cx="189.80" cy="219.17" r="0.55" fill="#5ad84a" fill-opacity="0.9"/>
<circle cx="188.94" cy="227.13" r="0.55" fill="#5ad84a" fill-opacity="0.9"/>
<circle cx="189.54" cy="219.23" r="0.55" fill="#5ad84a" fill-opacity="0.9"/>
<circle cx="188.62" cy="222.81" r="0.55" fill="#5ad84a" fill-opacity="0.9"/>
<circle cx="190.33" cy="218.79" r="0.55" fill="#5ad84a" fill-opacity="0.9"/>
<circle cx="190.82" cy="223.13" r="0.55" fill="#5ad84a" fill-opacity="0.9"/>
<circle cx="196.39" cy="217.57" r="0.55" fill="#5ad84a" fill-opacity="0.9"/>
<circle cx="192.80" cy="220.17" r="0.55" fill="#5ad84a" fill-opacity="0.9"/>
<circle cx="189.58" cy="220.78" r="0.55" fill="#5ad84a" fill-opacity="0.9"/>
<circle cx="188.21" cy="227.78" r="0.55" fill="#5ad84a" fill-opacity="0.9"/>
<circle cx="188.77" cy="215.46" r="0.55" fill="#5ad84a" fill-opacity="0.9"/>
<circle cx="186.38" cy="224.19" r="0.55" fill="#5ad84a" fill-opacity="0.9"/>
<circle cx="188.97" cy="215.81" r="0.55" fill="#5ad84a" fill-opacity="0.9"/>
<circle cx="187.08" cy="223.22" r="0.55" fill="#5ad84a" fill-opacity="0.9"/>
<circle cx="193.95" cy="222.30" r="0.55" fill="#5ad84a" fill-opacity="0.9"/>
<circle cx="188.62" cy="221.76" r="0.55" fill="#5ad84a" fill-opacity="0.9"/>
<circle cx="192.95" cy="226.37" r="0.55" fill="#5ad84a" fill-opacity="0.9"/>
<circle cx="193.44" cy="216.47" r="0.55" fill="#5ad84a" fill-opacity="0.9"/>
<circle cx="195.42" cy="219.56" r="0.55" fill="#5ad84a" fill-opacity="0.9"/>
<circle cx="192.35" cy="220.98" r="0.55" fill="#5ad84a" fill-opacity="0.9"/>
<circle cx="194.27" cy="217.87" r="0.55" fill="#5ad84a" fill-opacity="0.9"/>
<circle cx="188.77" cy="218.69" r="0.55" fill="#5ad84a" fill-opacity="0.9"/>
<circle cx="192.48" cy="220.14" r="0.55" fill="#5ad84a" fill-opacity="0.9"/>
<circle cx="190.44" cy="232.06" r="0.55" fill="#5ad84a" fill-opacity="0.9"/>
<circle cx="191.68" cy="218.44" r="0.55" fill="#5ad84a" fill-opacity="0.9"/>
<circle cx="191.32" cy="228.96" r="0.55" fill="#5ad84a" fill-opacity="0.9"/>
<circle cx="186.45" cy="219.56" r="0.55" fill="#5ad84a" fill-opacity="0.9"/>
<circle cx="190.36" cy="220.14" r="0.50" fill="#fff" fill-opacity="0.8"/>
<circle cx="190.78" cy="223.67" r="0.50" fill="#fff" fill-opacity="0.8"/>
<circle cx="190.65" cy="221.21" r="0.50" fill="#fff" fill-opacity="0.8"/>
<circle cx="190.42" cy="220.22" r="0.50" fill="#fff" fill-opacity="0.8"/>
<circle cx="190.76" cy="222.60" r="0.50" fill="#fff" fill-opacity="0.8"/>
<circle cx="191.95" cy="220.22" r="0.50" fill="#fff" fill-opacity="0.8"/>
<circle cx="192.03" cy="220.11" r="0.50" fill="#fff" fill-opacity="0.8"/>
<circle cx="190.94" cy="220.22" r="0.50" fill="#fff" fill-opacity="0.8"/>
<polygon points="199.00,231.00 204.00,229.00 209.00,229.00 213.00,225.50 214.50,227.50 212.00,235.00 208.00,237.30 203.00,237.50 199.00,235.50" fill="#c42236" fill-opacity="0.85"/>
<circle cx="212.04" cy="232.19" r="0.55" fill="#c42236" fill-opacity="0.9"/>
<circle cx="204.88" cy="232.22" r="0.55" fill="#c42236" fill-opacity="0.9"/>
<circle cx="200.73" cy="234.31" r="0.55" fill="#c42236" fill-opacity="0.9"/>
<circle cx="205.14" cy="228.38" r="0.55" fill="#c42236" fill-opacity="0.9"/>
<circle cx="203.31" cy="238.03" r="0.55" fill="#c42236" fill-opacity="0.9"/>
<circle cx="203.39" cy="232.46" r="0.55" fill="#c42236" fill-opacity="0.9"/>
<circle cx="204.19" cy="230.30" r="0.55" fill="#c42236" fill-opacity="0.9"/>
<circle cx="210.83" cy="227.23" r="0.55" fill="#c42236" fill-opacity="0.9"/>
<circle cx="205.39" cy="236.11" r="0.55" fill="#c42236" fill-opacity="0.9"/>
<circle cx="205.07" cy="237.01" r="0.55" fill="#c42236" fill-opacity="0.9"/>
<circle cx="198.07" cy="232.24" r="0.55" fill="#c42236" fill-opacity="0.9"/>
<circle cx="209.27" cy="237.40" r="0.55" fill="#c42236" fill-opacity="0.9"/>
<circle cx="199.39" cy="233.26" r="0.55" fill="#c42236" fill-opacity="0.9"/>
<circle cx="204.44" cy="231.56" r="0.55" fill="#c42236" fill-opacity="0.9"/>
<circle cx="207.13" cy="237.63" r="0.55" fill="#c42236" fill-opacity="0.9"/>
<circle cx="199.75" cy="231.36" r="0.55" fill="#c42236" fill-opacity="0.9"/>
<circle cx="214.38" cy="229.89" r="0.55" fill="#c42236" fill-opacity="0.9"/>
<circle cx="212.56" cy="226.61" r="0.55" fill="#c42236" fill-opacity="0.9"/>
<circle cx="211.87" cy="227.50" r="0.55" fill="#c42236" fill-opacity="0.9"/>
<circle cx="205.04" cy="236.49" r="0.55" fill="#c42236" fill-opacity="0.9"/>
<circle cx="212.64" cy="226.93" r="0.55" fill="#c42236" fill-opacity="0.9"/>
<circle cx="201.70" cy="230.06" r="0.55" fill="#c42236" fill-opacity="0.9"/>
<circle cx="207.07" cy="229.82" r="0.55" fill="#c42236" fill-opacity="0.9"/>
<circle cx="198.54" cy="232.40" r="0.55" fill="#c42236" fill-opacity="0.9"/>
<circle cx="212.80" cy="226.00" r="0.55" fill="#c42236" fill-opacity="0.9"/>
<circle cx="208.53" cy="232.22" r="0.55" fill="#c42236" fill-opacity="0.9"/>
<circle cx="209.02" cy="228.71" r="0.55" fill="#c42236" fill-opacity="0.9"/>
<circle cx="205.32" cy="232.69" r="0.55" fill="#c42236" fill-opacity="0.9"/>
<circle cx="205.42" cy="233.79" r="0.55" fill="#c42236" fill-opacity="0.9"/>
<circle cx="205.80" cy="230.61" r="0.55" fill="#c42236" fill-opacity="0.9"/>
<circle cx="198.22" cy="233.21" r="0.55" fill="#c42236" fill-opacity="0.9"/>
<circle cx="211.47" cy="235.53" r="0.55" fill="#c42236" fill-opacity="0.9"/>
<circle cx="200.10" cy="230.50" r="0.55" fill="#c42236" fill-opacity="0.9"/>
<circle cx="199.44" cy="230.66" r="0.55" fill="#c42236" fill-opacity="0.9"/>
<circle cx="210.93" cy="235.50" r="0.55" fill="#c42236" fill-opacity="0.9"/>
<circle cx="206.82" cy="229.74" r="0.55" fill="#c42236" fill-opacity="0.9"/>
<circle cx="210.90" cy="236.04" r="0.55" fill="#c42236" fill-opacity="0.9"/>
<circle cx="206.60" cy="238.08" r="0.55" fill="#c42236" fill-opacity="0.9"/>
<circle cx="214.20" cy="226.68" r="0.55" fill="#c42236" fill-opacity="0.9"/>
<circle cx="211.34" cy="226.59" r="0.55" fill="#c42236" fill-opacity="0.9"/>
<circle cx="213.85" cy="228.26" r="0.55" fill="#c42236" fill-opacity="0.9"/>
<circle cx="212.40" cy="226.37" r="0.55" fill="#c42236" fill-opacity="0.9"/>
<circle cx="206.79" cy="237.55" r="0.55" fill="#c42236" fill-opacity="0.9"/>
<circle cx="206.86" cy="228.89" r="0.55" fill="#c42236" fill-opacity="0.9"/>
<circle cx="209.97" cy="237.19" r="0.55" fill="#c42236" fill-opacity="0.9"/>
<circle cx="200.82" cy="235.60" r="0.55" fill="#c42236" fill-opacity="0.9"/>
<circle cx="199.86" cy="231.94" r="0.55" fill="#c42236" fill-opacity="0.9"/>
<circle cx="209.19" cy="229.48" r="0.55" fill="#c42236" fill-opacity="0.9"/>
<circle cx="213.43" cy="232.29" r="0.55" fill="#c42236" fill-opacity="0.9"/>
<circle cx="208.18" cy="237.01" r="0.55" fill="#c42236" fill-opacity="0.9"/>
<circle cx="191.50" cy="224.60" r="0.60" fill="#c42236"/>
<circle cx="193.00" cy="226.00" r="0.60" fill="#c42236"/>
<circle cx="195.00" cy="227.50" r="0.60" fill="#c42236"/>
<circle cx="196.50" cy="229.00" r="0.60" fill="#c42236"/>
<circle cx="194.00" cy="225.50" r="0.60" fill="#c42236"/>
<circle cx="197.50" cy="228.00" r="0.60" fill="#c42236"/>
<line x1="186.20" y1="205.40" x2="186.20" y2="212.80" stroke="#dcd42a" stroke-width="1.3"/>
<circle cx="186.50" cy="207.00" r="0.80" fill="#dcd42a"/>
<polygon points="246.00,232.50 249.50,233.50 248.00,239.00 244.00,245.00 241.50,251.50 237.00,254.50 233.20,253.00 234.50,248.00 238.50,243.00 242.50,237.00" fill="#42b84c" fill-opacity="0.85"/>
<circle cx="243.78" cy="240.92" r="0.55" fill="#42b84c" fill-opacity="0.9"/>
<circle cx="246.92" cy="237.76" r="0.55" fill="#42b84c" fill-opacity="0.9"/>
<circle cx="238.74" cy="249.96" r="0.55" fill="#42b84c" fill-opacity="0.9"/>
<circle cx="245.91" cy="232.48" r="0.55" fill="#42b84c" fill-opacity="0.9"/>
<circle cx="247.33" cy="237.49" r="0.55" fill="#42b84c" fill-opacity="0.9"/>
<circle cx="242.96" cy="247.49" r="0.55" fill="#42b84c" fill-opacity="0.9"/>
<circle cx="243.52" cy="241.85" r="0.55" fill="#42b84c" fill-opacity="0.9"/>
<circle cx="236.19" cy="245.54" r="0.55" fill="#42b84c" fill-opacity="0.9"/>
<circle cx="243.02" cy="236.28" r="0.55" fill="#42b84c" fill-opacity="0.9"/>
<circle cx="243.67" cy="242.89" r="0.55" fill="#42b84c" fill-opacity="0.9"/>
<circle cx="234.52" cy="254.15" r="0.55" fill="#42b84c" fill-opacity="0.9"/>
<circle cx="242.52" cy="239.85" r="0.55" fill="#42b84c" fill-opacity="0.9"/>
<circle cx="244.07" cy="242.13" r="0.55" fill="#42b84c" fill-opacity="0.9"/>
<circle cx="236.65" cy="253.35" r="0.55" fill="#42b84c" fill-opacity="0.9"/>
<circle cx="233.09" cy="250.30" r="0.55" fill="#42b84c" fill-opacity="0.9"/>
<circle cx="249.60" cy="234.77" r="0.55" fill="#42b84c" fill-opacity="0.9"/>
<circle cx="235.73" cy="246.14" r="0.55" fill="#42b84c" fill-opacity="0.9"/>
<circle cx="241.48" cy="246.95" r="0.55" fill="#42b84c" fill-opacity="0.9"/>
<circle cx="247.21" cy="235.56" r="0.55" fill="#42b84c" fill-opacity="0.9"/>
<circle cx="232.91" cy="253.00" r="0.55" fill="#42b84c" fill-opacity="0.9"/>
<circle cx="245.94" cy="242.65" r="0.55" fill="#42b84c" fill-opacity="0.9"/>
<circle cx="245.87" cy="242.34" r="0.55" fill="#42b84c" fill-opacity="0.9"/>
<circle cx="238.27" cy="249.59" r="0.55" fill="#42b84c" fill-opacity="0.9"/>
<circle cx="245.31" cy="237.79" r="0.55" fill="#42b84c" fill-opacity="0.9"/>
<circle cx="242.36" cy="241.94" r="0.55" fill="#42b84c" fill-opacity="0.9"/>
<circle cx="236.96" cy="246.96" r="0.55" fill="#42b84c" fill-opacity="0.9"/>
<circle cx="245.95" cy="239.28" r="0.55" fill="#42b84c" fill-opacity="0.9"/>
<circle cx="248.46" cy="239.32" r="0.55" fill="#42b84c" fill-opacity="0.9"/>
<circle cx="236.47" cy="253.44" r="0.55" fill="#42b84c" fill-opacity="0.9"/>
<circle cx="243.79" cy="248.21" r="0.55" fill="#42b84c" fill-opacity="0.9"/>
<circle cx="240.78" cy="251.79" r="0.55" fill="#42b84c" fill-opacity="0.9"/>
<circle cx="240.18" cy="248.98" r="0.55" fill="#42b84c" fill-opacity="0.9"/>
<circle cx="242.67" cy="238.81" r="0.55" fill="#42b84c" fill-opacity="0.9"/>
<circle cx="235.96" cy="246.49" r="0.55" fill="#42b84c" fill-opacity="0.9"/>
<circle cx="233.45" cy="253.52" r="0.55" fill="#42b84c" fill-opacity="0.9"/>
<circle cx="233.99" cy="253.97" r="0.55" fill="#42b84c" fill-opacity="0.9"/>
<circle cx="238.80" cy="251.25" r="0.55" fill="#42b84c" fill-opacity="0.9"/>
<circle cx="233.23" cy="252.47" r="0.55" fill="#42b84c" fill-opacity="0.9"/>
<circle cx="243.81" cy="238.31" r="0.55" fill="#42b84c" fill-opacity="0.9"/>
<circle cx="246.16" cy="236.30" r="0.55" fill="#42b84c" fill-opacity="0.9"/>
<circle cx="237.28" cy="248.76" r="0.55" fill="#42b84c" fill-opacity="0.9"/>
<circle cx="240.16" cy="250.16" r="0.55" fill="#42b84c" fill-opacity="0.9"/>
<circle cx="238.48" cy="248.49" r="0.55" fill="#42b84c" fill-opacity="0.9"/>
<circle cx="242.06" cy="236.58" r="0.55" fill="#42b84c" fill-opacity="0.9"/>
<circle cx="248.12" cy="233.52" r="0.55" fill="#42b84c" fill-opacity="0.9"/>
<circle cx="247.33" cy="235.46" r="0.55" fill="#42b84c" fill-opacity="0.9"/>
<circle cx="241.19" cy="250.74" r="0.55" fill="#42b84c" fill-opacity="0.9"/>
<circle cx="238.49" cy="251.60" r="0.55" fill="#42b84c" fill-opacity="0.9"/>
<circle cx="236.87" cy="254.33" r="0.55" fill="#42b84c" fill-opacity="0.9"/>
<circle cx="245.08" cy="243.46" r="0.55" fill="#42b84c" fill-opacity="0.9"/>
<polygon points="245.50,214.00 248.00,210.00 253.50,208.80 258.50,210.50 260.50,214.50 259.50,220.00 247.50,221.50 245.50,218.00" fill="#23aaa2" fill-opacity="0.85"/>
<circle cx="252.72" cy="214.40" r="0.55" fill="#23aaa2" fill-opacity="0.9"/>
<circle cx="258.92" cy="216.96" r="0.55" fill="#23aaa2" fill-opacity="0.9"/>
<circle cx="253.87" cy="215.37" r="0.55" fill="#23aaa2" fill-opacity="0.9"/>
<circle cx="259.80" cy="212.93" r="0.55" fill="#23aaa2" fill-opacity="0.9"/>
<circle cx="248.54" cy="209.05" r="0.55" fill="#23aaa2" fill-opacity="0.9"/>
<circle cx="261.29" cy="215.98" r="0.55" fill="#23aaa2" fill-opacity="0.9"/>
<circle cx="258.18" cy="214.46" r="0.55" fill="#23aaa2" fill-opacity="0.9"/>
<circle cx="253.37" cy="211.00" r="0.55" fill="#23aaa2" fill-opacity="0.9"/>
<circle cx="259.80" cy="213.95" r="0.55" fill="#23aaa2" fill-opacity="0.9"/>
<circle cx="251.36" cy="218.81" r="0.55" fill="#23aaa2" fill-opacity="0.9"/>
<circle cx="252.67" cy="214.00" r="0.55" fill="#23aaa2" fill-opacity="0.9"/>
<circle cx="258.67" cy="214.02" r="0.55" fill="#23aaa2" fill-opacity="0.9"/>
<circle cx="247.82" cy="214.82" r="0.55" fill="#23aaa2" fill-opacity="0.9"/>
<circle cx="249.62" cy="211.49" r="0.55" fill="#23aaa2" fill-opacity="0.9"/>
<circle cx="257.74" cy="212.87" r="0.55" fill="#23aaa2" fill-opacity="0.9"/>
<circle cx="255.18" cy="212.17" r="0.55" fill="#23aaa2" fill-opacity="0.9"/>
<circle cx="246.29" cy="219.39" r="0.55" fill="#23aaa2" fill-opacity="0.9"/>
<circle cx="257.78" cy="218.24" r="0.55" fill="#23aaa2" fill-opacity="0.9"/>
<circle cx="254.91" cy="210.23" r="0.55" fill="#23aaa2" fill-opacity="0.9"/>
<circle cx="253.03" cy="220.18" r="0.55" fill="#23aaa2" fill-opacity="0.9"/>
<circle cx="257.95" cy="216.52" r="0.55" fill="#23aaa2" fill-opacity="0.9"/>
<circle cx="255.28" cy="210.18" r="0.55" fill="#23aaa2" fill-opacity="0.9"/>
<circle cx="251.26" cy="218.17" r="0.55" fill="#23aaa2" fill-opacity="0.9"/>
<circle cx="256.43" cy="220.69" r="0.55" fill="#23aaa2" fill-opacity="0.9"/>
<circle cx="248.63" cy="209.45" r="0.55" fill="#23aaa2" fill-opacity="0.9"/>
<circle cx="250.04" cy="209.15" r="0.55" fill="#23aaa2" fill-opacity="0.9"/>
<circle cx="261.02" cy="216.28" r="0.55" fill="#23aaa2" fill-opacity="0.9"/>
<circle cx="252.84" cy="208.47" r="0.55" fill="#23aaa2" fill-opacity="0.9"/>
<circle cx="257.69" cy="210.69" r="0.55" fill="#23aaa2" fill-opacity="0.9"/>
<circle cx="249.01" cy="209.67" r="0.55" fill="#23aaa2" fill-opacity="0.9"/>
<circle cx="253.61" cy="211.89" r="0.55" fill="#23aaa2" fill-opacity="0.9"/>
<circle cx="254.25" cy="218.40" r="0.55" fill="#23aaa2" fill-opacity="0.9"/>
<circle cx="248.23" cy="209.59" r="0.55" fill="#23aaa2" fill-opacity="0.9"/>
<circle cx="253.27" cy="213.64" r="0.55" fill="#23aaa2" fill-opacity="0.9"/>
<circle cx="252.07" cy="213.16" r="0.55" fill="#23aaa2" fill-opacity="0.9"/>
<circle cx="256.95" cy="217.18" r="0.55" fill="#23aaa2" fill-opacity="0.9"/>
<circle cx="256.27" cy="217.24" r="0.55" fill="#23aaa2" fill-opacity="0.9"/>
<circle cx="253.23" cy="210.57" r="0.55" fill="#23aaa2" fill-opacity="0.9"/>
<circle cx="260.20" cy="215.64" r="0.55" fill="#23aaa2" fill-opacity="0.9"/>
<circle cx="252.27" cy="211.54" r="0.55" fill="#23aaa2" fill-opacity="0.9"/>
<circle cx="251.37" cy="219.74" r="0.55" fill="#23aaa2" fill-opacity="0.9"/>
<circle cx="246.46" cy="216.65" r="0.55" fill="#23aaa2" fill-opacity="0.9"/>
<circle cx="249.03" cy="211.13" r="0.55" fill="#23aaa2" fill-opacity="0.9"/>
<circle cx="249.58" cy="213.59" r="0.55" fill="#23aaa2" fill-opacity="0.9"/>
<circle cx="255.50" cy="213.75" r="0.55" fill="#23aaa2" fill-opacity="0.9"/>
<polygon points="246.50,220.00 259.50,219.50 258.00,226.00 255.00,231.00 253.50,235.00 250.40,235.00 248.50,229.00 246.80,225.00" fill="#2f6c9e" fill-opacity="0.85"/>
<circle cx="258.56" cy="221.07" r="0.55" fill="#2f6c9e" fill-opacity="0.9"/>
<circle cx="258.47" cy="226.12" r="0.55" fill="#2f6c9e" fill-opacity="0.9"/>
<circle cx="257.50" cy="225.37" r="0.55" fill="#2f6c9e" fill-opacity="0.9"/>
<circle cx="249.26" cy="234.31" r="0.55" fill="#2f6c9e" fill-opacity="0.9"/>
<circle cx="255.10" cy="231.23" r="0.55" fill="#2f6c9e" fill-opacity="0.9"/>
<circle cx="253.35" cy="231.02" r="0.55" fill="#2f6c9e" fill-opacity="0.9"/>
<circle cx="249.89" cy="234.11" r="0.55" fill="#2f6c9e" fill-opacity="0.9"/>
<circle cx="252.01" cy="225.70" r="0.55" fill="#2f6c9e" fill-opacity="0.9"/>
<circle cx="259.89" cy="221.93" r="0.55" fill="#2f6c9e" fill-opacity="0.9"/>
<circle cx="247.86" cy="221.38" r="0.55" fill="#2f6c9e" fill-opacity="0.9"/>
<circle cx="249.96" cy="225.78" r="0.55" fill="#2f6c9e" fill-opacity="0.9"/>
<circle cx="251.20" cy="226.54" r="0.55" fill="#2f6c9e" fill-opacity="0.9"/>
<circle cx="245.84" cy="224.42" r="0.55" fill="#2f6c9e" fill-opacity="0.9"/>
<circle cx="253.13" cy="219.27" r="0.55" fill="#2f6c9e" fill-opacity="0.9"/>
<circle cx="252.71" cy="234.50" r="0.55" fill="#2f6c9e" fill-opacity="0.9"/>
<circle cx="254.17" cy="233.38" r="0.55" fill="#2f6c9e" fill-opacity="0.9"/>
<circle cx="250.41" cy="220.66" r="0.55" fill="#2f6c9e" fill-opacity="0.9"/>
<circle cx="256.99" cy="227.95" r="0.55" fill="#2f6c9e" fill-opacity="0.9"/>
<circle cx="252.51" cy="220.59" r="0.55" fill="#2f6c9e" fill-opacity="0.9"/>
<circle cx="253.83" cy="228.57" r="0.55" fill="#2f6c9e" fill-opacity="0.9"/>
<circle cx="250.25" cy="225.74" r="0.55" fill="#2f6c9e" fill-opacity="0.9"/>
<circle cx="250.60" cy="232.75" r="0.55" fill="#2f6c9e" fill-opacity="0.9"/>
<circle cx="252.09" cy="219.58" r="0.55" fill="#2f6c9e" fill-opacity="0.9"/>
<circle cx="252.60" cy="220.95" r="0.55" fill="#2f6c9e" fill-opacity="0.9"/>
<circle cx="251.16" cy="226.37" r="0.55" fill="#2f6c9e" fill-opacity="0.9"/>
<circle cx="251.26" cy="219.20" r="0.55" fill="#2f6c9e" fill-opacity="0.9"/>
<circle cx="255.50" cy="223.62" r="0.55" fill="#2f6c9e" fill-opacity="0.9"/>
<circle cx="247.81" cy="229.76" r="0.55" fill="#2f6c9e" fill-opacity="0.9"/>
<circle cx="259.62" cy="222.75" r="0.55" fill="#2f6c9e" fill-opacity="0.9"/>
<circle cx="248.50" cy="221.56" r="0.55" fill="#2f6c9e" fill-opacity="0.9"/>
<circle cx="248.43" cy="222.56" r="0.55" fill="#2f6c9e" fill-opacity="0.9"/>
<circle cx="247.50" cy="222.03" r="0.55" fill="#2f6c9e" fill-opacity="0.9"/>
<circle cx="248.77" cy="225.77" r="0.55" fill="#2f6c9e" fill-opacity="0.9"/>
<circle cx="248.96" cy="230.17" r="0.55" fill="#2f6c9e" fill-opacity="0.9"/>
<circle cx="248.99" cy="223.07" r="0.55" fill="#2f6c9e" fill-opacity="0.9"/>
<circle cx="251.75" cy="221.33" r="0.55" fill="#2f6c9e" fill-opacity="0.9"/>
<circle cx="250.02" cy="225.50" r="0.55" fill="#2f6c9e" fill-opacity="0.9"/>
<circle cx="251.88" cy="224.05" r="0.55" fill="#2f6c9e" fill-opacity="0.9"/>
<circle cx="246.13" cy="221.10" r="0.55" fill="#2f6c9e" fill-opacity="0.9"/>
<circle cx="247.50" cy="222.02" r="0.55" fill="#2f6c9e" fill-opacity="0.9"/>
<polygon points="252.00,233.00 256.00,232.00 258.50,235.00 261.00,232.50 265.00,233.00 265.40,239.00 263.00,243.00 260.00,244.50 256.00,243.50 252.50,241.00" fill="#c8368a" fill-opacity="0.85"/>
<circle cx="256.03" cy="232.33" r="0.55" fill="#c8368a" fill-opacity="0.9"/>
<circle cx="260.53" cy="233.78" r="0.55" fill="#c8368a" fill-opacity="0.9"/>
<circle cx="258.86" cy="241.13" r="0.55" fill="#c8368a" fill-opacity="0.9"/>
<circle cx="258.66" cy="241.84" r="0.55" fill="#c8368a" fill-opacity="0.9"/>
<circle cx="263.13" cy="237.47" r="0.55" fill="#c8368a" fill-opacity="0.9"/>
<circle cx="254.15" cy="231.43" r="0.55" fill="#c8368a" fill-opacity="0.9"/>
<circle cx="261.75" cy="236.28" r="0.55" fill="#c8368a" fill-opacity="0.9"/>
<circle cx="255.40" cy="232.05" r="0.55" fill="#c8368a" fill-opacity="0.9"/>
<circle cx="258.26" cy="243.42" r="0.55" fill="#c8368a" fill-opacity="0.9"/>
<circle cx="264.14" cy="234.50" r="0.55" fill="#c8368a" fill-opacity="0.9"/>
<circle cx="254.54" cy="239.72" r="0.55" fill="#c8368a" fill-opacity="0.9"/>
<circle cx="265.60" cy="237.74" r="0.55" fill="#c8368a" fill-opacity="0.9"/>
<circle cx="257.51" cy="245.07" r="0.55" fill="#c8368a" fill-opacity="0.9"/>
<circle cx="261.97" cy="234.14" r="0.55" fill="#c8368a" fill-opacity="0.9"/>
<circle cx="265.39" cy="238.89" r="0.55" fill="#c8368a" fill-opacity="0.9"/>
<circle cx="255.13" cy="233.47" r="0.55" fill="#c8368a" fill-opacity="0.9"/>
<circle cx="265.65" cy="236.05" r="0.55" fill="#c8368a" fill-opacity="0.9"/>
<circle cx="258.42" cy="243.07" r="0.55" fill="#c8368a" fill-opacity="0.9"/>
<circle cx="256.52" cy="234.26" r="0.55" fill="#c8368a" fill-opacity="0.9"/>
<circle cx="258.90" cy="244.72" r="0.55" fill="#c8368a" fill-opacity="0.9"/>
<circle cx="260.49" cy="243.79" r="0.55" fill="#c8368a" fill-opacity="0.9"/>
<circle cx="253.90" cy="238.36" r="0.55" fill="#c8368a" fill-opacity="0.9"/>
<circle cx="265.29" cy="239.30" r="0.55" fill="#c8368a" fill-opacity="0.9"/>
<circle cx="263.34" cy="242.83" r="0.55" fill="#c8368a" fill-opacity="0.9"/>
<circle cx="257.79" cy="241.07" r="0.55" fill="#c8368a" fill-opacity="0.9"/>
<circle cx="261.73" cy="237.35" r="0.55" fill="#c8368a" fill-opacity="0.9"/>
<circle cx="259.02" cy="242.87" r="0.55" fill="#c8368a" fill-opacity="0.9"/>
<circle cx="256.61" cy="240.87" r="0.55" fill="#c8368a" fill-opacity="0.9"/>
<circle cx="259.50" cy="243.49" r="0.55" fill="#c8368a" fill-opacity="0.9"/>
<circle cx="254.60" cy="237.76" r="0.55" fill="#c8368a" fill-opacity="0.9"/>
<circle cx="254.85" cy="242.77" r="0.55" fill="#c8368a" fill-opacity="0.9"/>
<circle cx="252.51" cy="232.91" r="0.55" fill="#c8368a" fill-opacity="0.9"/>
<circle cx="260.14" cy="242.35" r="0.55" fill="#c8368a" fill-opacity="0.9"/>
<circle cx="256.23" cy="231.98" r="0.55" fill="#c8368a" fill-opacity="0.9"/>
<circle cx="260.05" cy="239.95" r="0.55" fill="#c8368a" fill-opacity="0.9"/>
<circle cx="257.60" cy="234.83" r="0.55" fill="#c8368a" fill-opacity="0.9"/>
<circle cx="256.28" cy="234.26" r="0.55" fill="#c8368a" fill-opacity="0.9"/>
<circle cx="263.64" cy="236.49" r="0.55" fill="#c8368a" fill-opacity="0.9"/>
<circle cx="262.07" cy="238.98" r="0.55" fill="#c8368a" fill-opacity="0.9"/>
<circle cx="254.42" cy="234.97" r="0.55" fill="#c8368a" fill-opacity="0.9"/>
<circle cx="261.39" cy="243.66" r="0.55" fill="#c8368a" fill-opacity="0.9"/>
<circle cx="265.30" cy="233.09" r="0.55" fill="#c8368a" fill-opacity="0.9"/>
<circle cx="254.90" cy="232.28" r="0.55" fill="#c8368a" fill-opacity="0.9"/>
<circle cx="253.79" cy="236.56" r="0.55" fill="#c8368a" fill-opacity="0.9"/>
<circle cx="262.15" cy="244.45" r="0.55" fill="#c8368a" fill-opacity="0.9"/>
<circle cx="260.04" cy="235.15" r="0.70" fill="#fff" fill-opacity="0.8"/>
<circle cx="258.76" cy="235.15" r="0.70" fill="#fff" fill-opacity="0.8"/>
<circle cx="258.18" cy="237.09" r="0.70" fill="#fff" fill-opacity="0.8"/>
<circle cx="259.51" cy="235.27" r="0.70" fill="#fff" fill-opacity="0.8"/>
<circle cx="258.16" cy="238.53" r="0.70" fill="#fff" fill-opacity="0.8"/>
<circle cx="260.28" cy="237.21" r="0.70" fill="#fff" fill-opacity="0.8"/>
<circle cx="258.43" cy="235.85" r="0.70" fill="#fff" fill-opacity="0.8"/>
<circle cx="261.07" cy="234.57" r="0.70" fill="#fff" fill-opacity="0.8"/>
<circle cx="260.42" cy="238.80" r="0.70" fill="#fff" fill-opacity="0.8"/>
<circle cx="260.31" cy="234.72" r="0.70" fill="#fff" fill-opacity="0.8"/>
<polygon points="259.60,218.00 263.50,217.20 266.00,219.00 265.50,224.00 262.00,226.50 259.80,225.00" fill="#f2c468" fill-opacity="0.75"/>
<circle cx="260.03" cy="220.94" r="0.55" fill="#f2c468" fill-opacity="0.9"/>
<circle cx="264.13" cy="223.90" r="0.55" fill="#f2c468" fill-opacity="0.9"/>
<circle cx="260.93" cy="223.98" r="0.55" fill="#f2c468" fill-opacity="0.9"/>
<circle cx="266.44" cy="221.48" r="0.55" fill="#f2c468" fill-opacity="0.9"/>
<circle cx="261.89" cy="224.02" r="0.55" fill="#f2c468" fill-opacity="0.9"/>
<circle cx="266.08" cy="224.04" r="0.55" fill="#f2c468" fill-opacity="0.9"/>
<circle cx="266.82" cy="218.93" r="0.55" fill="#f2c468" fill-opacity="0.9"/>
<circle cx="264.32" cy="218.45" r="0.55" fill="#f2c468" fill-opacity="0.9"/>
<circle cx="259.43" cy="220.00" r="0.55" fill="#f2c468" fill-opacity="0.9"/>
<circle cx="266.72" cy="219.45" r="0.55" fill="#f2c468" fill-opacity="0.9"/>
<circle cx="261.12" cy="226.84" r="0.55" fill="#f2c468" fill-opacity="0.9"/>
<circle cx="261.50" cy="225.63" r="0.55" fill="#f2c468" fill-opacity="0.9"/>
<circle cx="258.96" cy="219.92" r="0.55" fill="#f2c468" fill-opacity="0.9"/>
<circle cx="260.52" cy="226.05" r="0.55" fill="#f2c468" fill-opacity="0.9"/>
<circle cx="262.33" cy="225.96" r="0.55" fill="#f2c468" fill-opacity="0.9"/>
<circle cx="262.69" cy="220.36" r="0.55" fill="#f2c468" fill-opacity="0.9"/>
<circle cx="261.39" cy="216.56" r="0.55" fill="#f2c468" fill-opacity="0.9"/>
<circle cx="262.40" cy="227.13" r="0.55" fill="#f2c468" fill-opacity="0.9"/>
<circle cx="259.26" cy="221.17" r="0.55" fill="#f2c468" fill-opacity="0.9"/>
<circle cx="265.74" cy="217.80" r="0.55" fill="#f2c468" fill-opacity="0.9"/>
<circle cx="258.97" cy="218.41" r="0.55" fill="#f2c468" fill-opacity="0.9"/>
<circle cx="259.14" cy="224.66" r="0.55" fill="#f2c468" fill-opacity="0.9"/>
<circle cx="258.84" cy="224.22" r="0.55" fill="#f2c468" fill-opacity="0.9"/>
<circle cx="265.38" cy="218.09" r="0.55" fill="#f2c468" fill-opacity="0.9"/>
<circle cx="260.05" cy="223.71" r="0.55" fill="#f2c468" fill-opacity="0.9"/>
<circle cx="259.90" cy="221.10" r="0.55" fill="#f2c468" fill-opacity="0.9"/>
<circle cx="259.72" cy="217.07" r="0.55" fill="#f2c468" fill-opacity="0.9"/>
<circle cx="262.66" cy="222.35" r="0.55" fill="#f2c468" fill-opacity="0.9"/>
<circle cx="261.52" cy="216.84" r="0.55" fill="#f2c468" fill-opacity="0.9"/>
<circle cx="263.26" cy="217.93" r="0.55" fill="#f2c468" fill-opacity="0.9"/>
<circle cx="266.50" cy="227.50" r="0.55" fill="#f2c468"/>
<circle cx="267.50" cy="229.50" r="0.55" fill="#f2c468"/>
<circle cx="268.50" cy="230.00" r="0.55" fill="#f2c468"/>
<circle cx="264.00" cy="228.00" r="0.55" fill="#f2c468"/>
<polyline points="243.00,258.80 241.00,261.50 237.70,265.80" fill="none" stroke="#e8882c" stroke-width="0.8"/>
<line x1="241.00" y1="261.50" x2="244.50" y2="262.00" stroke="#e8882c" stroke-width="0.6"/>
<line x1="221.30" y1="270.00" x2="228.30" y2="271.00" stroke="#2c1f8e" stroke-width="1.4"/>
<circle cx="224.00" cy="270.20" r="1.00" fill="#2c1f8e"/>
<polyline points="214.00,283.80 219.00,283.50 225.00,283.00" fill="none" stroke="#8fb83a" stroke-width="1.1"/>
<line x1="222.00" y1="275.50" x2="222.30" y2="290.00" stroke="#8fb83a" stroke-width="1.0"/>
<polyline points="222.50,283.00 227.00,281.50 230.50,280.00 232.00,277.00" fill="none" stroke="#8fb83a" stroke-width="1.0"/>
<line x1="230.50" y1="280.00" x2="231.00" y2="276.00" stroke="#8fb83a" stroke-width="0.8"/>
<line x1="234.00" y1="300.20" x2="239.00" y2="300.60" stroke="#1f22c4" stroke-width="1.5"/>
<line x1="241.00" y1="300.20" x2="243.80" y2="300.00" stroke="#1f22c4" stroke-width="0.8"/>
<text x="176.00" y="204.88" font-size="7.2" fill="#222" textLength="14.30" lengthAdjust="spacingAndGlyphs" stroke="#222" stroke-width="0.1">mT1</text>
<text x="189.70" y="215.18" font-size="7.2" fill="#222" textLength="14.90" lengthAdjust="spacingAndGlyphs" stroke="#222" stroke-width="0.1">mT4</text>
<text x="204.60" y="221.08" font-size="7.2" fill="#222" textLength="15.40" lengthAdjust="spacingAndGlyphs" stroke="#222" stroke-width="0.1">mT6</text>
<text x="161.50" y="223.38" font-size="7.2" fill="#222" textLength="15.00" lengthAdjust="spacingAndGlyphs" stroke="#222" stroke-width="0.1">mT2</text>
<text x="169.70" y="249.58" font-size="7.2" fill="#222" textLength="15.30" lengthAdjust="spacingAndGlyphs" stroke="#222" stroke-width="0.1">mT3</text>
<text x="191.20" y="256.38" font-size="7.2" fill="#222" textLength="15.00" lengthAdjust="spacingAndGlyphs" stroke="#222" stroke-width="0.1">mT5</text>
<text x="251.00" y="212.38" font-size="7.2" fill="#222" textLength="14.40" lengthAdjust="spacingAndGlyphs" stroke="#222" stroke-width="0.1">mB1</text>
<text x="266.00" y="217.58" font-size="7.2" fill="#222" textLength="15.00" lengthAdjust="spacingAndGlyphs" stroke="#222" stroke-width="0.1">mB4</text>
<text x="232.20" y="233.58" font-size="7.2" fill="#222" textLength="14.80" lengthAdjust="spacingAndGlyphs" stroke="#222" stroke-width="0.1">mB2</text>
<text x="227.00" y="248.78" font-size="7.2" fill="#222" textLength="14.70" lengthAdjust="spacingAndGlyphs" stroke="#222" stroke-width="0.1">mB5</text>
<text x="255.90" y="251.58" font-size="7.2" fill="#222" textLength="14.70" lengthAdjust="spacingAndGlyphs" stroke="#222" stroke-width="0.1">mB3</text>
<text x="245.80" y="264.28" font-size="7.2" fill="#222" textLength="14.70" lengthAdjust="spacingAndGlyphs" stroke="#222" stroke-width="0.1">mB6</text>
<text x="204.60" y="278.38" font-size="7.2" fill="#222" textLength="16.70" lengthAdjust="spacingAndGlyphs" stroke="#222" stroke-width="0.1">mM1</text>
<text x="212.70" y="298.58" font-size="7.2" fill="#222" textLength="17.90" lengthAdjust="spacingAndGlyphs" stroke="#222" stroke-width="0.1">mM2</text>
<text x="228.80" y="310.18" font-size="7.2" fill="#222" textLength="17.40" lengthAdjust="spacingAndGlyphs" stroke="#222" stroke-width="0.1">mM3</text>
<text x="167.20" y="266.08" font-size="7.2" fill="#222" textLength="17.40" lengthAdjust="spacingAndGlyphs" stroke="#222" stroke-width="0.1">T cell</text>
<text x="260.50" y="275.78" font-size="7.2" fill="#222" textLength="17.50" lengthAdjust="spacingAndGlyphs" stroke="#222" stroke-width="0.1">B cell</text>
<text x="170.80" y="311.08" font-size="7.2" fill="#222" textLength="40.70" lengthAdjust="spacingAndGlyphs" stroke="#222" stroke-width="0.1">Myeloid cell</text>
<line x1="165.80" y1="293.50" x2="165.80" y2="319.70" stroke="#111" stroke-width="1.1"/>
<line x1="165.30" y1="319.70" x2="193.00" y2="319.70" stroke="#111" stroke-width="1.1"/>
<polygon points="163.60,294.00 168.00,294.00 165.80,290.60" fill="#111"/>
<polygon points="192.50,317.50 192.50,321.90 196.00,319.70" fill="#111"/>
<text x="160.40" y="308.20" font-size="7.8" text-anchor="middle" fill="#222" textLength="27.20" lengthAdjust="spacingAndGlyphs" stroke="#222" stroke-width="0.1" transform="rotate(-90 160.40 308.20)">UMAP1</text>
<text x="165.80" y="331.58" font-size="7.2" fill="#222" textLength="27.70" lengthAdjust="spacingAndGlyphs" stroke="#222" stroke-width="0.1">UMAP2</text>
<circle cx="300.80" cy="195.00" r="2.40" fill="#dcd42a"/>
<text x="306.20" y="197.25" font-size="7.4" fill="#222" textLength="39.42" lengthAdjust="spacingAndGlyphs" stroke="#222" stroke-width="0.1">mT1_Gzma</text>
<circle cx="300.80" cy="203.90" r="2.40" fill="#2f52da"/>
<text x="306.20" y="206.15" font-size="7.4" fill="#222" textLength="39.00" lengthAdjust="spacingAndGlyphs" stroke="#222" stroke-width="0.1">mT2_Cxcr3</text>
<circle cx="300.80" cy="212.40" r="2.40" fill="#40289e"/>
<text x="306.20" y="214.65" font-size="7.4" fill="#222" textLength="39.01" lengthAdjust="spacingAndGlyphs" stroke="#222" stroke-width="0.1">mT3_Dapl1</text>
<circle cx="300.80" cy="221.70" r="2.40" fill="#5ad84a"/>
<text x="306.20" y="223.95" font-size="7.4" fill="#222" textLength="34.39" lengthAdjust="spacingAndGlyphs" stroke="#222" stroke-width="0.1">mT4_Ccl3</text>
<circle cx="300.80" cy="230.10" r="2.40" fill="#9370ec"/>
<text x="306.20" y="232.35" font-size="7.4" fill="#222" textLength="37.34" lengthAdjust="spacingAndGlyphs" stroke="#222" stroke-width="0.1">mT5_Cd28</text>
<circle cx="300.80" cy="239.10" r="2.40" fill="#c42236"/>
<text x="306.20" y="241.35" font-size="7.4" fill="#222" textLength="40.69" lengthAdjust="spacingAndGlyphs" stroke="#222" stroke-width="0.1">mT6_Pdcd1</text>
<circle cx="300.80" cy="248.40" r="2.40" fill="#23aaa2"/>
<text x="306.20" y="250.65" font-size="7.4" fill="#222" textLength="34.41" lengthAdjust="spacingAndGlyphs" stroke="#222" stroke-width="0.1">mB1_Ighd</text>
<circle cx="300.80" cy="257.20" r="2.40" fill="#2f6c9e"/>
<text x="306.20" y="259.45" font-size="7.4" fill="#222" textLength="35.24" lengthAdjust="spacingAndGlyphs" stroke="#222" stroke-width="0.1">mB2_Icosl</text>
<circle cx="300.80" cy="265.80" r="2.40" fill="#c8368a"/>
<text x="306.20" y="268.05" font-size="7.4" fill="#222" textLength="31.88" lengthAdjust="spacingAndGlyphs" stroke="#222" stroke-width="0.1">mB3_Cr2</text>
<circle cx="300.80" cy="274.60" r="2.40" fill="#f2c468"/>
<text x="306.20" y="276.85" font-size="7.4" fill="#222" textLength="41.95" lengthAdjust="spacingAndGlyphs" stroke="#222" stroke-width="0.1">mB4_Parm1</text>
<circle cx="300.80" cy="283.20" r="2.40" fill="#42b84c"/>
<text x="306.20" y="285.45" font-size="7.4" fill="#222" textLength="37.76" lengthAdjust="spacingAndGlyphs" stroke="#222" stroke-width="0.1">mB5_Cd83</text>
<circle cx="300.80" cy="291.80" r="2.40" fill="#e8882c"/>
<text x="306.20" y="294.05" font-size="7.4" fill="#222" textLength="41.95" lengthAdjust="spacingAndGlyphs" stroke="#222" stroke-width="0.1">mB6_Prdm1</text>
<circle cx="300.80" cy="301.80" r="2.40" fill="#2c1f8e"/>
<text x="306.20" y="304.05" font-size="7.4" fill="#222" textLength="45.31" lengthAdjust="spacingAndGlyphs" stroke="#222" stroke-width="0.1">mM1_Adgre1</text>
<circle cx="300.80" cy="310.40" r="2.40" fill="#8fb83a"/>
<text x="306.20" y="312.65" font-size="7.4" fill="#222" textLength="39.42" lengthAdjust="spacingAndGlyphs" stroke="#222" stroke-width="0.1">mM2_Iftim3</text>
<circle cx="300.80" cy="319.10" r="2.40" fill="#1f22c4"/>
<text x="306.20" y="321.35" font-size="7.4" fill="#222" textLength="46.99" lengthAdjust="spacingAndGlyphs" stroke="#222" stroke-width="0.1">mM3_S100a9</text>
<line x1="296.10" y1="192.00" x2="296.10" y2="215.70" stroke="#444" stroke-width="1.3"/>
<text x="293.40" y="204.00" font-size="7.4" text-anchor="middle" fill="#222" stroke="#222" stroke-width="0.1" transform="rotate(-90 293.40 204.00)">Cd8 T</text>
<line x1="296.10" y1="218.80" x2="296.10" y2="242.40" stroke="#444" stroke-width="1.3"/>
<text x="293.40" y="230.60" font-size="7.4" text-anchor="middle" fill="#222" stroke="#222" stroke-width="0.1" transform="rotate(-90 293.40 230.60)">Cd4 T</text>
<line x1="296.10" y1="245.50" x2="296.10" y2="294.70" stroke="#444" stroke-width="1.3"/>
<text x="293.40" y="270.00" font-size="7.4" text-anchor="middle" fill="#222" stroke="#222" stroke-width="0.1" transform="rotate(-90 293.40 270.00)">B</text>
<line x1="296.10" y1="297.70" x2="296.10" y2="321.30" stroke="#444" stroke-width="1.3"/>
<text x="293.40" y="309.50" font-size="7.4" text-anchor="middle" fill="#222" stroke="#222" stroke-width="0.1" transform="rotate(-90 293.40 309.50)">Myeloid</text>
<text x="363.40" y="176.20" font-size="11.2" fill="#000" font-weight="bold">F</text>
<line x1="396.90" y1="182.30" x2="396.90" y2="237.50" stroke="#231f20" stroke-width="1.1"/>
<line x1="396.40" y1="237.00" x2="518.30" y2="237.00" stroke="#231f20" stroke-width="1.1"/>
<line x1="394.00" y1="187.40" x2="396.90" y2="187.40" stroke="#231f20" stroke-width="1"/>
<text x="390.80" y="190.12" font-size="7.6" text-anchor="end" fill="#333" textLength="14.60" lengthAdjust="spacingAndGlyphs" stroke="#333" stroke-width="0.1">5.0k</text>
<line x1="394.00" y1="212.30" x2="396.90" y2="212.30" stroke="#231f20" stroke-width="1"/>
<text x="390.80" y="215.02" font-size="7.6" text-anchor="end" fill="#333" textLength="14.60" lengthAdjust="spacingAndGlyphs" stroke="#333" stroke-width="0.1">2.5k</text>
<line x1="394.00" y1="237.00" x2="396.90" y2="237.00" stroke="#231f20" stroke-width="1"/>
<text x="390.80" y="239.72" font-size="7.6" text-anchor="end" fill="#333" textLength="4.60" lengthAdjust="spacingAndGlyphs" stroke="#333" stroke-width="0.1">0</text>
<text x="369.50" y="212.00" font-size="9.4" text-anchor="middle" fill="#333" textLength="42.00" lengthAdjust="spacingAndGlyphs" stroke="#333" stroke-width="0.1" transform="rotate(-90 369.50 212.00)">Cell number</text>
<rect x="399.90" y="234.90" width="5.00" height="0.33" fill="#c8102e"/>
<rect x="399.90" y="235.23" width="5.00" height="1.77" fill="#17508a"/>
<line x1="402.40" y1="237.00" x2="402.40" y2="239.30" stroke="#231f20" stroke-width="0.9"/>
<rect x="407.82" y="224.30" width="5.00" height="9.02" fill="#c8102e"/>
<rect x="407.82" y="233.32" width="5.00" height="3.68" fill="#17508a"/>
<line x1="410.32" y1="237.00" x2="410.32" y2="239.30" stroke="#231f20" stroke-width="0.9"/>
<rect x="415.74" y="217.00" width="5.00" height="8.50" fill="#c8102e"/>
<rect x="415.74" y="225.50" width="5.00" height="11.50" fill="#17508a"/>
<line x1="418.24" y1="237.00" x2="418.24" y2="239.30" stroke="#231f20" stroke-width="0.9"/>
<rect x="423.66" y="227.40" width="5.00" height="8.35" fill="#c8102e"/>
<rect x="423.66" y="235.75" width="5.00" height="1.25" fill="#17508a"/>
<line x1="426.16" y1="237.00" x2="426.16" y2="239.30" stroke="#231f20" stroke-width="0.9"/>
<rect x="431.58" y="201.20" width="5.00" height="22.38" fill="#c8102e"/>
<rect x="431.58" y="223.57" width="5.00" height="13.42" fill="#17508a"/>
<line x1="434.08" y1="237.00" x2="434.08" y2="239.30" stroke="#231f20" stroke-width="0.9"/>
<rect x="439.50" y="220.60" width="5.00" height="14.15" fill="#c8102e"/>
<rect x="439.50" y="234.75" width="5.00" height="2.25" fill="#17508a"/>
<line x1="442.00" y1="237.00" x2="442.00" y2="239.30" stroke="#231f20" stroke-width="0.9"/>
<rect x="447.42" y="210.50" width="5.00" height="4.82" fill="#c8102e"/>
<rect x="447.42" y="215.32" width="5.00" height="21.68" fill="#17508a"/>
<line x1="449.92" y1="237.00" x2="449.92" y2="239.30" stroke="#231f20" stroke-width="0.9"/>
<rect x="455.34" y="209.30" width="5.00" height="7.48" fill="#c8102e"/>
<rect x="455.34" y="216.78" width="5.00" height="20.22" fill="#17508a"/>
<line x1="457.84" y1="237.00" x2="457.84" y2="239.30" stroke="#231f20" stroke-width="0.9"/>
<rect x="463.26" y="224.00" width="5.00" height="4.51" fill="#c8102e"/>
<rect x="463.26" y="228.51" width="5.00" height="8.49" fill="#17508a"/>
<line x1="465.76" y1="237.00" x2="465.76" y2="239.30" stroke="#231f20" stroke-width="0.9"/>
<rect x="471.18" y="227.00" width="5.00" height="4.38" fill="#c8102e"/>
<rect x="471.18" y="231.38" width="5.00" height="5.62" fill="#17508a"/>
<line x1="473.68" y1="237.00" x2="473.68" y2="239.30" stroke="#231f20" stroke-width="0.9"/>
<rect x="479.10" y="224.00" width="5.00" height="9.18" fill="#c8102e"/>
<rect x="479.10" y="233.18" width="5.00" height="3.82" fill="#17508a"/>
<line x1="481.60" y1="237.00" x2="481.60" y2="239.30" stroke="#231f20" stroke-width="0.9"/>
<rect x="487.02" y="236.20" width="5.00" height="0.70" fill="#c8102e"/>
<rect x="487.02" y="236.90" width="5.00" height="0.10" fill="#17508a"/>
<line x1="489.52" y1="237.00" x2="489.52" y2="239.30" stroke="#231f20" stroke-width="0.9"/>
<rect x="494.94" y="235.60" width="5.00" height="0.77" fill="#c8102e"/>
<rect x="494.94" y="236.37" width="5.00" height="0.63" fill="#17508a"/>
<line x1="497.44" y1="237.00" x2="497.44" y2="239.30" stroke="#231f20" stroke-width="0.9"/>
<rect x="502.86" y="228.90" width="5.00" height="4.39" fill="#c8102e"/>
<rect x="502.86" y="233.29" width="5.00" height="3.71" fill="#17508a"/>
<line x1="505.36" y1="237.00" x2="505.36" y2="239.30" stroke="#231f20" stroke-width="0.9"/>
<rect x="510.78" y="234.00" width="5.00" height="1.39" fill="#c8102e"/>
<rect x="510.78" y="235.39" width="5.00" height="1.61" fill="#17508a"/>
<line x1="513.28" y1="237.00" x2="513.28" y2="239.30" stroke="#231f20" stroke-width="0.9"/>
<rect x="487.10" y="186.30" width="4.00" height="4.40" fill="#c8102e"/>
<rect x="487.10" y="195.40" width="4.00" height="4.40" fill="#17508a"/>
<text x="495.00" y="191.22" font-size="7.6" fill="#333" textLength="19.00" lengthAdjust="spacingAndGlyphs" stroke="#333" stroke-width="0.1">MxTR</text>
<text x="495.00" y="200.12" font-size="7.6" fill="#333" textLength="21.20" lengthAdjust="spacingAndGlyphs" stroke="#333" stroke-width="0.1">MxWT</text>
<text x="362.00" y="256.30" font-size="11.2" fill="#000" font-weight="bold">G</text>
<line x1="396.90" y1="257.30" x2="396.90" y2="312.70" stroke="#231f20" stroke-width="1.1"/>
<line x1="396.40" y1="312.20" x2="518.30" y2="312.20" stroke="#231f20" stroke-width="1.1"/>
<line x1="394.00" y1="262.60" x2="396.90" y2="262.60" stroke="#231f20" stroke-width="1"/>
<text x="390.80" y="265.32" font-size="7.6" text-anchor="end" fill="#333" textLength="11.10" lengthAdjust="spacingAndGlyphs" stroke="#333" stroke-width="0.1">1.0</text>
<line x1="394.00" y1="287.40" x2="396.90" y2="287.40" stroke="#231f20" stroke-width="1"/>
<text x="390.80" y="290.12" font-size="7.6" text-anchor="end" fill="#333" textLength="11.10" lengthAdjust="spacingAndGlyphs" stroke="#333" stroke-width="0.1">0.5</text>
<line x1="394.00" y1="312.20" x2="396.90" y2="312.20" stroke="#231f20" stroke-width="1"/>
<text x="390.80" y="314.92" font-size="7.6" text-anchor="end" fill="#333" textLength="11.10" lengthAdjust="spacingAndGlyphs" stroke="#333" stroke-width="0.1">0.0</text>
<text x="370.30" y="285.00" font-size="9.4" text-anchor="middle" fill="#333" textLength="40.00" lengthAdjust="spacingAndGlyphs" stroke="#333" stroke-width="0.1" transform="rotate(-90 370.30 285.00)">Cluster ratio</text>
<rect x="400.10" y="262.60" width="5.00" height="7.69" fill="#c8102e"/>
<rect x="400.10" y="270.29" width="5.00" height="41.91" fill="#17508a"/>
<line x1="402.60" y1="312.20" x2="402.60" y2="314.50" stroke="#231f20" stroke-width="0.9"/>
<circle cx="402.60" cy="319.60" r="2.30" fill="#dcd42a"/>
<text x="403.80" y="327.60" font-size="7.6" text-anchor="end" fill="#333" textLength="16.72" lengthAdjust="spacingAndGlyphs" stroke="#333" stroke-width="0.1" transform="rotate(-45 403.80 327.60)">mT1</text>
<rect x="408.06" y="262.60" width="5.00" height="35.22" fill="#c8102e"/>
<rect x="408.06" y="297.82" width="5.00" height="14.38" fill="#17508a"/>
<line x1="410.56" y1="312.20" x2="410.56" y2="314.50" stroke="#231f20" stroke-width="0.9"/>
<circle cx="410.56" cy="319.60" r="2.30" fill="#2f52da"/>
<text x="411.76" y="327.60" font-size="7.6" text-anchor="end" fill="#333" textLength="16.72" lengthAdjust="spacingAndGlyphs" stroke="#333" stroke-width="0.1" transform="rotate(-45 411.76 327.60)">mT2</text>
<rect x="416.02" y="262.60" width="5.00" height="21.08" fill="#c8102e"/>
<rect x="416.02" y="283.68" width="5.00" height="28.52" fill="#17508a"/>
<line x1="418.52" y1="312.20" x2="418.52" y2="314.50" stroke="#231f20" stroke-width="0.9"/>
<circle cx="418.52" cy="319.60" r="2.30" fill="#40289e"/>
<text x="419.72" y="327.60" font-size="7.6" text-anchor="end" fill="#333" textLength="16.72" lengthAdjust="spacingAndGlyphs" stroke="#333" stroke-width="0.1" transform="rotate(-45 419.72 327.60)">mT3</text>
<rect x="423.98" y="262.60" width="5.00" height="43.15" fill="#c8102e"/>
<rect x="423.98" y="305.75" width="5.00" height="6.45" fill="#17508a"/>
<line x1="426.48" y1="312.20" x2="426.48" y2="314.50" stroke="#231f20" stroke-width="0.9"/>
<circle cx="426.48" cy="319.60" r="2.30" fill="#5ad84a"/>
<text x="427.68" y="327.60" font-size="7.6" text-anchor="end" fill="#333" textLength="16.72" lengthAdjust="spacingAndGlyphs" stroke="#333" stroke-width="0.1" transform="rotate(-45 427.68 327.60)">mT4</text>
<rect x="431.94" y="262.60" width="5.00" height="31.00" fill="#c8102e"/>
<rect x="431.94" y="293.60" width="5.00" height="18.60" fill="#17508a"/>
<line x1="434.44" y1="312.20" x2="434.44" y2="314.50" stroke="#231f20" stroke-width="0.9"/>
<circle cx="434.44" cy="319.60" r="2.30" fill="#9370ec"/>
<text x="435.64" y="327.60" font-size="7.6" text-anchor="end" fill="#333" textLength="16.72" lengthAdjust="spacingAndGlyphs" stroke="#333" stroke-width="0.1" transform="rotate(-45 435.64 327.60)">mT5</text>
<rect x="439.90" y="262.60" width="5.00" height="42.80" fill="#c8102e"/>
<rect x="439.90" y="305.40" width="5.00" height="6.80" fill="#17508a"/>
<line x1="442.40" y1="312.20" x2="442.40" y2="314.50" stroke="#231f20" stroke-width="0.9"/>
<circle cx="442.40" cy="319.60" r="2.30" fill="#c42236"/>
<text x="443.60" y="327.60" font-size="7.6" text-anchor="end" fill="#333" textLength="16.72" lengthAdjust="spacingAndGlyphs" stroke="#333" stroke-width="0.1" transform="rotate(-45 443.60 327.60)">mT6</text>
<rect x="447.86" y="262.60" width="5.00" height="9.03" fill="#c8102e"/>
<rect x="447.86" y="271.63" width="5.00" height="40.57" fill="#17508a"/>
<line x1="450.36" y1="312.20" x2="450.36" y2="314.50" stroke="#231f20" stroke-width="0.9"/>
<circle cx="450.36" cy="319.60" r="2.30" fill="#23aaa2"/>
<text x="451.56" y="327.60" font-size="7.6" text-anchor="end" fill="#333" textLength="17.19" lengthAdjust="spacingAndGlyphs" stroke="#333" stroke-width="0.1" transform="rotate(-45 451.56 327.60)">mB1</text>
<rect x="455.82" y="262.60" width="5.00" height="13.39" fill="#c8102e"/>
<rect x="455.82" y="275.99" width="5.00" height="36.21" fill="#17508a"/>
<line x1="458.32" y1="312.20" x2="458.32" y2="314.50" stroke="#231f20" stroke-width="0.9"/>
<circle cx="458.32" cy="319.60" r="2.30" fill="#2f6c9e"/>
<text x="459.52" y="327.60" font-size="7.6" text-anchor="end" fill="#333" textLength="17.19" lengthAdjust="spacingAndGlyphs" stroke="#333" stroke-width="0.1" transform="rotate(-45 459.52 327.60)">mB2</text>
<rect x="463.78" y="262.60" width="5.00" height="17.21" fill="#c8102e"/>
<rect x="463.78" y="279.81" width="5.00" height="32.39" fill="#17508a"/>
<line x1="466.28" y1="312.20" x2="466.28" y2="314.50" stroke="#231f20" stroke-width="0.9"/>
<circle cx="466.28" cy="319.60" r="2.30" fill="#c8368a"/>
<text x="467.48" y="327.60" font-size="7.6" text-anchor="end" fill="#333" textLength="17.19" lengthAdjust="spacingAndGlyphs" stroke="#333" stroke-width="0.1" transform="rotate(-45 467.48 327.60)">mB3</text>
<rect x="471.74" y="262.60" width="5.00" height="21.72" fill="#c8102e"/>
<rect x="471.74" y="284.32" width="5.00" height="27.88" fill="#17508a"/>
<line x1="474.24" y1="312.20" x2="474.24" y2="314.50" stroke="#231f20" stroke-width="0.9"/>
<circle cx="474.24" cy="319.60" r="2.30" fill="#f2c468"/>
<text x="475.44" y="327.60" font-size="7.6" text-anchor="end" fill="#333" textLength="17.19" lengthAdjust="spacingAndGlyphs" stroke="#333" stroke-width="0.1" transform="rotate(-45 475.44 327.60)">mB4</text>
<rect x="479.70" y="262.60" width="5.00" height="35.02" fill="#c8102e"/>
<rect x="479.70" y="297.62" width="5.00" height="14.58" fill="#17508a"/>
<line x1="482.20" y1="312.20" x2="482.20" y2="314.50" stroke="#231f20" stroke-width="0.9"/>
<circle cx="482.20" cy="319.60" r="2.30" fill="#42b84c"/>
<text x="483.40" y="327.60" font-size="7.6" text-anchor="end" fill="#333" textLength="17.19" lengthAdjust="spacingAndGlyphs" stroke="#333" stroke-width="0.1" transform="rotate(-45 483.40 327.60)">mB5</text>
<rect x="487.66" y="262.60" width="5.00" height="43.15" fill="#c8102e"/>
<rect x="487.66" y="305.75" width="5.00" height="6.45" fill="#17508a"/>
<line x1="490.16" y1="312.20" x2="490.16" y2="314.50" stroke="#231f20" stroke-width="0.9"/>
<circle cx="490.16" cy="319.60" r="2.30" fill="#e8882c"/>
<text x="491.36" y="327.60" font-size="7.6" text-anchor="end" fill="#333" textLength="17.19" lengthAdjust="spacingAndGlyphs" stroke="#333" stroke-width="0.1" transform="rotate(-45 491.36 327.60)">mB6</text>
<rect x="495.62" y="262.60" width="5.00" height="27.18" fill="#c8102e"/>
<rect x="495.62" y="289.78" width="5.00" height="22.42" fill="#17508a"/>
<line x1="498.12" y1="312.20" x2="498.12" y2="314.50" stroke="#231f20" stroke-width="0.9"/>
<circle cx="498.12" cy="319.60" r="2.30" fill="#2c1f8e"/>
<text x="499.32" y="327.60" font-size="7.6" text-anchor="end" fill="#333" textLength="18.58" lengthAdjust="spacingAndGlyphs" stroke="#333" stroke-width="0.1" transform="rotate(-45 499.32 327.60)">mM1</text>
<rect x="503.58" y="262.60" width="5.00" height="26.88" fill="#c8102e"/>
<rect x="503.58" y="289.48" width="5.00" height="22.72" fill="#17508a"/>
<line x1="506.08" y1="312.20" x2="506.08" y2="314.50" stroke="#231f20" stroke-width="0.9"/>
<circle cx="506.08" cy="319.60" r="2.30" fill="#8fb83a"/>
<text x="507.28" y="327.60" font-size="7.6" text-anchor="end" fill="#333" textLength="18.58" lengthAdjust="spacingAndGlyphs" stroke="#333" stroke-width="0.1" transform="rotate(-45 507.28 327.60)">mM2</text>
<rect x="511.54" y="262.60" width="5.00" height="22.92" fill="#c8102e"/>
<rect x="511.54" y="285.52" width="5.00" height="26.68" fill="#17508a"/>
<line x1="514.04" y1="312.20" x2="514.04" y2="314.50" stroke="#231f20" stroke-width="0.9"/>
<circle cx="514.04" cy="319.60" r="2.30" fill="#1f22c4"/>
<text x="515.24" y="327.60" font-size="7.6" text-anchor="end" fill="#333" textLength="18.58" lengthAdjust="spacingAndGlyphs" stroke="#333" stroke-width="0.1" transform="rotate(-45 515.24 327.60)">mM3</text>
<text x="0.40" y="370.60" font-size="11.2" fill="#000" font-weight="bold">H</text>
<polygon points="64.00,383.00 67.00,381.30 72.00,381.50 77.00,382.00 81.00,383.00 84.00,385.50 83.60,390.00 81.00,393.00 77.00,391.00 72.00,392.00 68.00,394.00 64.00,391.50" fill="#e49a66" fill-opacity="0.07"/>
<circle cx="77.0" cy="389.8" r="0.6" fill="none" stroke="#e49a66" stroke-width="0.3"/>
<circle cx="76.1" cy="383.9" r="0.6" fill="none" stroke="#e49a66" stroke-width="0.3"/>
<circle cx="65.8" cy="392.0" r="0.6" fill="none" stroke="#e49a66" stroke-width="0.3"/>
<circle cx="70.9" cy="383.9" r="0.6" fill="none" stroke="#e49a66" stroke-width="0.3"/>
<circle cx="67.3" cy="383.8" r="0.6" fill="none" stroke="#e49a66" stroke-width="0.3"/>
<circle cx="74.0" cy="383.9" r="0.6" fill="none" stroke="#e49a66" stroke-width="0.3"/>
<circle cx="64.5" cy="386.7" r="0.6" fill="none" stroke="#e49a66" stroke-width="0.3"/>
<circle cx="68.0" cy="383.4" r="0.6" fill="none" stroke="#e49a66" stroke-width="0.3"/>
<circle cx="73.4" cy="388.4" r="0.6" fill="none" stroke="#e49a66" stroke-width="0.3"/>
<circle cx="83.3" cy="385.5" r="0.6" fill="none" stroke="#e49a66" stroke-width="0.3"/>
<circle cx="67.5" cy="392.9" r="0.6" fill="none" stroke="#e49a66" stroke-width="0.3"/>
<circle cx="66.9" cy="391.3" r="0.6" fill="none" stroke="#e49a66" stroke-width="0.3"/>
<circle cx="66.4" cy="383.0" r="0.6" fill="none" stroke="#e49a66" stroke-width="0.3"/>
<circle cx="66.4" cy="385.9" r="0.6" fill="none" stroke="#e49a66" stroke-width="0.3"/>
<circle cx="72.3" cy="389.7" r="0.6" fill="none" stroke="#e49a66" stroke-width="0.3"/>
<circle cx="82.8" cy="386.8" r="0.6" fill="none" stroke="#e49a66" stroke-width="0.3"/>
<circle cx="75.6" cy="386.5" r="0.6" fill="none" stroke="#e49a66" stroke-width="0.3"/>
<circle cx="71.7" cy="384.7" r="0.6" fill="none" stroke="#e49a66" stroke-width="0.3"/>
<circle cx="64.1" cy="384.5" r="0.6" fill="none" stroke="#e49a66" stroke-width="0.3"/>
<circle cx="78.5" cy="391.4" r="0.6" fill="none" stroke="#e49a66" stroke-width="0.3"/>
<circle cx="77.7" cy="386.9" r="0.6" fill="none" stroke="#e49a66" stroke-width="0.3"/>
<circle cx="72.2" cy="383.7" r="0.6" fill="none" stroke="#e49a66" stroke-width="0.3"/>
<circle cx="75.8" cy="386.4" r="0.6" fill="none" stroke="#e49a66" stroke-width="0.3"/>
<circle cx="74.7" cy="387.6" r="0.6" fill="none" stroke="#e49a66" stroke-width="0.3"/>
<circle cx="69.9" cy="386.6" r="0.6" fill="none" stroke="#e49a66" stroke-width="0.3"/>
<circle cx="81.8" cy="385.0" r="0.6" fill="none" stroke="#e49a66" stroke-width="0.3"/>
<circle cx="73.1" cy="384.1" r="0.6" fill="none" stroke="#e49a66" stroke-width="0.3"/>
<circle cx="73.2" cy="387.1" r="0.6" fill="none" stroke="#e49a66" stroke-width="0.3"/>
<circle cx="64.3" cy="383.2" r="0.6" fill="none" stroke="#e49a66" stroke-width="0.3"/>
<circle cx="74.0" cy="387.3" r="0.6" fill="none" stroke="#e49a66" stroke-width="0.3"/>
<circle cx="70.1" cy="382.0" r="0.6" fill="none" stroke="#e49a66" stroke-width="0.3"/>
<circle cx="70.5" cy="385.7" r="0.6" fill="none" stroke="#e49a66" stroke-width="0.3"/>
<circle cx="66.1" cy="388.9" r="0.6" fill="none" stroke="#e49a66" stroke-width="0.3"/>
<circle cx="68.4" cy="388.1" r="0.6" fill="none" stroke="#e49a66" stroke-width="0.3"/>
<circle cx="74.0" cy="389.4" r="0.6" fill="none" stroke="#e49a66" stroke-width="0.3"/>
<circle cx="81.9" cy="390.1" r="0.6" fill="none" stroke="#e49a66" stroke-width="0.3"/>
<circle cx="80.8" cy="389.7" r="0.6" fill="none" stroke="#e49a66" stroke-width="0.3"/>
<circle cx="68.5" cy="391.6" r="0.6" fill="none" stroke="#e49a66" stroke-width="0.3"/>
<circle cx="79.1" cy="387.5" r="0.6" fill="none" stroke="#e49a66" stroke-width="0.3"/>
<circle cx="82.2" cy="385.8" r="0.6" fill="none" stroke="#e49a66" stroke-width="0.3"/>
<circle cx="74.8" cy="391.4" r="0.6" fill="none" stroke="#e49a66" stroke-width="0.3"/>
<circle cx="67.3" cy="387.6" r="0.6" fill="none" stroke="#e49a66" stroke-width="0.3"/>
<circle cx="72.5" cy="382.8" r="0.6" fill="none" stroke="#e49a66" stroke-width="0.3"/>
<circle cx="82.6" cy="387.7" r="0.6" fill="none" stroke="#e49a66" stroke-width="0.3"/>
<circle cx="81.1" cy="384.8" r="0.6" fill="none" stroke="#e49a66" stroke-width="0.3"/>
<circle cx="73.3" cy="384.4" r="0.6" fill="none" stroke="#e49a66" stroke-width="0.3"/>
<circle cx="75.8" cy="390.3" r="0.6" fill="none" stroke="#e49a66" stroke-width="0.3"/>
<circle cx="75.5" cy="388.7" r="0.6" fill="none" stroke="#e49a66" stroke-width="0.3"/>
<circle cx="64.4" cy="383.4" r="0.6" fill="none" stroke="#e49a66" stroke-width="0.3"/>
<polygon points="62.40,394.00 67.00,393.50 72.00,395.00 73.00,400.00 71.50,405.80 66.00,405.80 63.00,401.00" fill="#84d8d8" fill-opacity="0.07"/>
<circle cx="69.5" cy="405.5" r="0.6" fill="none" stroke="#84d8d8" stroke-width="0.3"/>
<circle cx="71.4" cy="396.5" r="0.6" fill="none" stroke="#84d8d8" stroke-width="0.3"/>
<circle cx="72.4" cy="399.1" r="0.6" fill="none" stroke="#84d8d8" stroke-width="0.3"/>
<circle cx="68.5" cy="401.5" r="0.6" fill="none" stroke="#84d8d8" stroke-width="0.3"/>
<circle cx="68.9" cy="404.3" r="0.6" fill="none" stroke="#84d8d8" stroke-width="0.3"/>
<circle cx="71.9" cy="397.4" r="0.6" fill="none" stroke="#84d8d8" stroke-width="0.3"/>
<circle cx="71.9" cy="397.4" r="0.6" fill="none" stroke="#84d8d8" stroke-width="0.3"/>
<circle cx="69.6" cy="395.4" r="0.6" fill="none" stroke="#84d8d8" stroke-width="0.3"/>
<circle cx="69.2" cy="397.2" r="0.6" fill="none" stroke="#84d8d8" stroke-width="0.3"/>
<circle cx="66.5" cy="405.3" r="0.6" fill="none" stroke="#84d8d8" stroke-width="0.3"/>
<circle cx="67.3" cy="394.9" r="0.6" fill="none" stroke="#84d8d8" stroke-width="0.3"/>
<circle cx="69.1" cy="400.2" r="0.6" fill="none" stroke="#84d8d8" stroke-width="0.3"/>
<circle cx="68.5" cy="401.1" r="0.6" fill="none" stroke="#84d8d8" stroke-width="0.3"/>
<circle cx="65.2" cy="395.4" r="0.6" fill="none" stroke="#84d8d8" stroke-width="0.3"/>
<circle cx="65.9" cy="393.9" r="0.6" fill="none" stroke="#84d8d8" stroke-width="0.3"/>
<circle cx="64.5" cy="399.6" r="0.6" fill="none" stroke="#84d8d8" stroke-width="0.3"/>
<circle cx="66.5" cy="402.9" r="0.6" fill="none" stroke="#84d8d8" stroke-width="0.3"/>
<circle cx="63.9" cy="396.0" r="0.6" fill="none" stroke="#84d8d8" stroke-width="0.3"/>
<circle cx="67.9" cy="402.0" r="0.6" fill="none" stroke="#84d8d8" stroke-width="0.3"/>
<circle cx="65.7" cy="396.0" r="0.6" fill="none" stroke="#84d8d8" stroke-width="0.3"/>
<circle cx="63.7" cy="398.0" r="0.6" fill="none" stroke="#84d8d8" stroke-width="0.3"/>
<circle cx="66.4" cy="403.3" r="0.6" fill="none" stroke="#84d8d8" stroke-width="0.3"/>
<circle cx="64.9" cy="397.7" r="0.6" fill="none" stroke="#84d8d8" stroke-width="0.3"/>
<circle cx="70.3" cy="396.0" r="0.6" fill="none" stroke="#84d8d8" stroke-width="0.3"/>
<circle cx="72.1" cy="397.4" r="0.6" fill="none" stroke="#84d8d8" stroke-width="0.3"/>
<circle cx="65.4" cy="399.2" r="0.6" fill="none" stroke="#84d8d8" stroke-width="0.3"/>
<circle cx="64.6" cy="403.2" r="0.6" fill="none" stroke="#84d8d8" stroke-width="0.3"/>
<circle cx="71.8" cy="402.3" r="0.6" fill="none" stroke="#84d8d8" stroke-width="0.3"/>
<circle cx="66.6" cy="403.8" r="0.6" fill="none" stroke="#84d8d8" stroke-width="0.3"/>
<circle cx="69.5" cy="395.6" r="0.6" fill="none" stroke="#84d8d8" stroke-width="0.3"/>
<circle cx="66.7" cy="402.6" r="0.6" fill="none" stroke="#84d8d8" stroke-width="0.3"/>
<circle cx="65.5" cy="394.3" r="0.6" fill="none" stroke="#84d8d8" stroke-width="0.3"/>
<circle cx="67.8" cy="394.4" r="0.6" fill="none" stroke="#84d8d8" stroke-width="0.3"/>
<circle cx="67.2" cy="404.0" r="0.6" fill="none" stroke="#84d8d8" stroke-width="0.3"/>
<circle cx="68.5" cy="396.8" r="0.6" fill="none" stroke="#84d8d8" stroke-width="0.3"/>
<polygon points="72.50,394.50 79.00,393.80 86.00,396.00 86.80,404.00 85.50,411.00 83.00,416.40 76.00,416.40 73.00,410.00 73.50,402.00" fill="#c4c4dc" fill-opacity="0.07"/>
<circle cx="75.5" cy="406.4" r="0.6" fill="none" stroke="#c4c4dc" stroke-width="0.3"/>
<circle cx="79.8" cy="414.2" r="0.6" fill="none" stroke="#c4c4dc" stroke-width="0.3"/>
<circle cx="75.0" cy="404.3" r="0.6" fill="none" stroke="#c4c4dc" stroke-width="0.3"/>
<circle cx="78.9" cy="402.3" r="0.6" fill="none" stroke="#c4c4dc" stroke-width="0.3"/>
<circle cx="75.2" cy="402.5" r="0.6" fill="none" stroke="#c4c4dc" stroke-width="0.3"/>
<circle cx="80.3" cy="398.2" r="0.6" fill="none" stroke="#c4c4dc" stroke-width="0.3"/>
<circle cx="77.1" cy="405.7" r="0.6" fill="none" stroke="#c4c4dc" stroke-width="0.3"/>
<circle cx="85.9" cy="404.7" r="0.6" fill="none" stroke="#c4c4dc" stroke-width="0.3"/>
<circle cx="77.5" cy="394.6" r="0.6" fill="none" stroke="#c4c4dc" stroke-width="0.3"/>
<circle cx="79.9" cy="401.6" r="0.6" fill="none" stroke="#c4c4dc" stroke-width="0.3"/>
<circle cx="74.2" cy="404.5" r="0.6" fill="none" stroke="#c4c4dc" stroke-width="0.3"/>
<circle cx="81.3" cy="401.7" r="0.6" fill="none" stroke="#c4c4dc" stroke-width="0.3"/>
<circle cx="83.0" cy="408.1" r="0.6" fill="none" stroke="#c4c4dc" stroke-width="0.3"/>
<circle cx="73.4" cy="394.9" r="0.6" fill="none" stroke="#c4c4dc" stroke-width="0.3"/>
<circle cx="80.0" cy="407.5" r="0.6" fill="none" stroke="#c4c4dc" stroke-width="0.3"/>
<circle cx="80.5" cy="399.0" r="0.6" fill="none" stroke="#c4c4dc" stroke-width="0.3"/>
<circle cx="77.4" cy="410.0" r="0.6" fill="none" stroke="#c4c4dc" stroke-width="0.3"/>
<circle cx="78.2" cy="405.8" r="0.6" fill="none" stroke="#c4c4dc" stroke-width="0.3"/>
<circle cx="75.8" cy="408.0" r="0.6" fill="none" stroke="#c4c4dc" stroke-width="0.3"/>
<circle cx="83.3" cy="411.9" r="0.6" fill="none" stroke="#c4c4dc" stroke-width="0.3"/>
<circle cx="82.5" cy="404.3" r="0.6" fill="none" stroke="#c4c4dc" stroke-width="0.3"/>
<circle cx="76.3" cy="409.7" r="0.6" fill="none" stroke="#c4c4dc" stroke-width="0.3"/>
<circle cx="78.5" cy="401.1" r="0.6" fill="none" stroke="#c4c4dc" stroke-width="0.3"/>
<circle cx="74.2" cy="407.5" r="0.6" fill="none" stroke="#c4c4dc" stroke-width="0.3"/>
<circle cx="82.7" cy="411.2" r="0.6" fill="none" stroke="#c4c4dc" stroke-width="0.3"/>
<circle cx="74.7" cy="398.4" r="0.6" fill="none" stroke="#c4c4dc" stroke-width="0.3"/>
<circle cx="81.6" cy="396.7" r="0.6" fill="none" stroke="#c4c4dc" stroke-width="0.3"/>
<circle cx="81.5" cy="399.7" r="0.6" fill="none" stroke="#c4c4dc" stroke-width="0.3"/>
<circle cx="80.5" cy="411.1" r="0.6" fill="none" stroke="#c4c4dc" stroke-width="0.3"/>
<circle cx="77.4" cy="408.5" r="0.6" fill="none" stroke="#c4c4dc" stroke-width="0.3"/>
<circle cx="81.1" cy="414.3" r="0.6" fill="none" stroke="#c4c4dc" stroke-width="0.3"/>
<circle cx="83.6" cy="408.9" r="0.6" fill="none" stroke="#c4c4dc" stroke-width="0.3"/>
<circle cx="80.3" cy="413.9" r="0.6" fill="none" stroke="#c4c4dc" stroke-width="0.3"/>
<circle cx="81.1" cy="409.4" r="0.6" fill="none" stroke="#c4c4dc" stroke-width="0.3"/>
<circle cx="76.9" cy="396.2" r="0.6" fill="none" stroke="#c4c4dc" stroke-width="0.3"/>
<circle cx="80.5" cy="398.8" r="0.6" fill="none" stroke="#c4c4dc" stroke-width="0.3"/>
<circle cx="85.3" cy="401.3" r="0.6" fill="none" stroke="#c4c4dc" stroke-width="0.3"/>
<circle cx="75.2" cy="406.8" r="0.6" fill="none" stroke="#c4c4dc" stroke-width="0.3"/>
<circle cx="77.1" cy="416.3" r="0.6" fill="none" stroke="#c4c4dc" stroke-width="0.3"/>
<circle cx="81.3" cy="396.1" r="0.6" fill="none" stroke="#c4c4dc" stroke-width="0.3"/>
<circle cx="76.9" cy="396.3" r="0.6" fill="none" stroke="#c4c4dc" stroke-width="0.3"/>
<circle cx="79.6" cy="405.7" r="0.6" fill="none" stroke="#c4c4dc" stroke-width="0.3"/>
<circle cx="77.0" cy="409.0" r="0.6" fill="none" stroke="#c4c4dc" stroke-width="0.3"/>
<circle cx="78.9" cy="412.3" r="0.6" fill="none" stroke="#c4c4dc" stroke-width="0.3"/>
<circle cx="82.2" cy="399.6" r="0.6" fill="none" stroke="#c4c4dc" stroke-width="0.3"/>
<circle cx="75.9" cy="394.4" r="0.6" fill="none" stroke="#c4c4dc" stroke-width="0.3"/>
<circle cx="86.1" cy="405.9" r="0.6" fill="none" stroke="#c4c4dc" stroke-width="0.3"/>
<circle cx="83.8" cy="402.5" r="0.6" fill="none" stroke="#c4c4dc" stroke-width="0.3"/>
<circle cx="85.2" cy="411.1" r="0.6" fill="none" stroke="#c4c4dc" stroke-width="0.3"/>
<polygon points="63.50,406.00 72.00,405.80 73.00,411.00 72.00,416.40 64.00,416.40" fill="#c8ccb8" fill-opacity="0.07"/>
<circle cx="68.2" cy="408.8" r="0.6" fill="none" stroke="#c8ccb8" stroke-width="0.3"/>
<circle cx="65.0" cy="406.6" r="0.6" fill="none" stroke="#c8ccb8" stroke-width="0.3"/>
<circle cx="68.6" cy="411.4" r="0.6" fill="none" stroke="#c8ccb8" stroke-width="0.3"/>
<circle cx="65.3" cy="411.4" r="0.6" fill="none" stroke="#c8ccb8" stroke-width="0.3"/>
<circle cx="64.3" cy="409.0" r="0.6" fill="none" stroke="#c8ccb8" stroke-width="0.3"/>
<circle cx="69.9" cy="407.4" r="0.6" fill="none" stroke="#c8ccb8" stroke-width="0.3"/>
<circle cx="68.5" cy="407.2" r="0.6" fill="none" stroke="#c8ccb8" stroke-width="0.3"/>
<circle cx="71.9" cy="408.0" r="0.6" fill="none" stroke="#c8ccb8" stroke-width="0.3"/>
<circle cx="70.0" cy="406.5" r="0.6" fill="none" stroke="#c8ccb8" stroke-width="0.3"/>
<circle cx="63.9" cy="407.3" r="0.6" fill="none" stroke="#c8ccb8" stroke-width="0.3"/>
<circle cx="64.5" cy="409.5" r="0.6" fill="none" stroke="#c8ccb8" stroke-width="0.3"/>
<circle cx="72.4" cy="414.2" r="0.6" fill="none" stroke="#c8ccb8" stroke-width="0.3"/>
<circle cx="66.6" cy="414.4" r="0.6" fill="none" stroke="#c8ccb8" stroke-width="0.3"/>
<circle cx="67.2" cy="406.6" r="0.6" fill="none" stroke="#c8ccb8" stroke-width="0.3"/>
<circle cx="72.2" cy="412.8" r="0.6" fill="none" stroke="#c8ccb8" stroke-width="0.3"/>
<circle cx="69.4" cy="407.2" r="0.6" fill="none" stroke="#c8ccb8" stroke-width="0.3"/>
<circle cx="68.0" cy="415.3" r="0.6" fill="none" stroke="#c8ccb8" stroke-width="0.3"/>
<circle cx="68.8" cy="412.6" r="0.6" fill="none" stroke="#c8ccb8" stroke-width="0.3"/>
<circle cx="67.9" cy="409.6" r="0.6" fill="none" stroke="#c8ccb8" stroke-width="0.3"/>
<circle cx="63.6" cy="408.1" r="0.6" fill="none" stroke="#c8ccb8" stroke-width="0.3"/>
<circle cx="65.3" cy="406.8" r="0.6" fill="none" stroke="#c8ccb8" stroke-width="0.3"/>
<polygon points="64.50,416.40 72.00,416.00 80.00,416.40 82.60,421.00 81.00,428.00 76.00,432.30 68.00,432.30 63.50,428.00 63.80,421.00" fill="#9cd88c" fill-opacity="0.07"/>
<circle cx="64.5" cy="428.3" r="0.6" fill="none" stroke="#9cd88c" stroke-width="0.3"/>
<circle cx="79.4" cy="419.4" r="0.6" fill="none" stroke="#9cd88c" stroke-width="0.3"/>
<circle cx="79.7" cy="422.2" r="0.6" fill="none" stroke="#9cd88c" stroke-width="0.3"/>
<circle cx="79.8" cy="419.9" r="0.6" fill="none" stroke="#9cd88c" stroke-width="0.3"/>
<circle cx="69.2" cy="424.6" r="0.6" fill="none" stroke="#9cd88c" stroke-width="0.3"/>
<circle cx="67.8" cy="420.2" r="0.6" fill="none" stroke="#9cd88c" stroke-width="0.3"/>
<circle cx="77.4" cy="428.9" r="0.6" fill="none" stroke="#9cd88c" stroke-width="0.3"/>
<circle cx="70.2" cy="423.6" r="0.6" fill="none" stroke="#9cd88c" stroke-width="0.3"/>
<circle cx="74.7" cy="425.7" r="0.6" fill="none" stroke="#9cd88c" stroke-width="0.3"/>
<circle cx="81.0" cy="425.2" r="0.6" fill="none" stroke="#9cd88c" stroke-width="0.3"/>
<circle cx="81.9" cy="423.8" r="0.6" fill="none" stroke="#9cd88c" stroke-width="0.3"/>
<circle cx="72.0" cy="416.5" r="0.6" fill="none" stroke="#9cd88c" stroke-width="0.3"/>
<circle cx="69.7" cy="423.9" r="0.6" fill="none" stroke="#9cd88c" stroke-width="0.3"/>
<circle cx="63.7" cy="423.2" r="0.6" fill="none" stroke="#9cd88c" stroke-width="0.3"/>
<circle cx="65.7" cy="420.4" r="0.6" fill="none" stroke="#9cd88c" stroke-width="0.3"/>
<circle cx="65.7" cy="425.6" r="0.6" fill="none" stroke="#9cd88c" stroke-width="0.3"/>
<circle cx="72.8" cy="416.9" r="0.6" fill="none" stroke="#9cd88c" stroke-width="0.3"/>
<circle cx="69.2" cy="424.7" r="0.6" fill="none" stroke="#9cd88c" stroke-width="0.3"/>
<circle cx="71.6" cy="425.3" r="0.6" fill="none" stroke="#9cd88c" stroke-width="0.3"/>
<circle cx="64.8" cy="426.0" r="0.6" fill="none" stroke="#9cd88c" stroke-width="0.3"/>
<circle cx="75.2" cy="419.1" r="0.6" fill="none" stroke="#9cd88c" stroke-width="0.3"/>
<circle cx="74.3" cy="431.2" r="0.6" fill="none" stroke="#9cd88c" stroke-width="0.3"/>
<circle cx="80.5" cy="426.1" r="0.6" fill="none" stroke="#9cd88c" stroke-width="0.3"/>
<circle cx="73.4" cy="428.2" r="0.6" fill="none" stroke="#9cd88c" stroke-width="0.3"/>
<circle cx="72.2" cy="427.5" r="0.6" fill="none" stroke="#9cd88c" stroke-width="0.3"/>
<circle cx="70.6" cy="425.0" r="0.6" fill="none" stroke="#9cd88c" stroke-width="0.3"/>
<circle cx="77.5" cy="425.5" r="0.6" fill="none" stroke="#9cd88c" stroke-width="0.3"/>
<circle cx="75.0" cy="422.3" r="0.6" fill="none" stroke="#9cd88c" stroke-width="0.3"/>
<circle cx="70.2" cy="426.7" r="0.6" fill="none" stroke="#9cd88c" stroke-width="0.3"/>
<circle cx="72.0" cy="423.2" r="0.6" fill="none" stroke="#9cd88c" stroke-width="0.3"/>
<circle cx="70.7" cy="420.7" r="0.6" fill="none" stroke="#9cd88c" stroke-width="0.3"/>
<circle cx="75.5" cy="430.3" r="0.6" fill="none" stroke="#9cd88c" stroke-width="0.3"/>
<circle cx="67.2" cy="426.6" r="0.6" fill="none" stroke="#9cd88c" stroke-width="0.3"/>
<circle cx="73.6" cy="426.4" r="0.6" fill="none" stroke="#9cd88c" stroke-width="0.3"/>
<circle cx="76.2" cy="422.5" r="0.6" fill="none" stroke="#9cd88c" stroke-width="0.3"/>
<circle cx="73.5" cy="426.3" r="0.6" fill="none" stroke="#9cd88c" stroke-width="0.3"/>
<circle cx="81.2" cy="426.7" r="0.6" fill="none" stroke="#9cd88c" stroke-width="0.3"/>
<circle cx="76.0" cy="421.7" r="0.6" fill="none" stroke="#9cd88c" stroke-width="0.3"/>
<circle cx="78.7" cy="418.1" r="0.6" fill="none" stroke="#9cd88c" stroke-width="0.3"/>
<circle cx="80.4" cy="424.0" r="0.6" fill="none" stroke="#9cd88c" stroke-width="0.3"/>
<circle cx="72.2" cy="427.3" r="0.6" fill="none" stroke="#9cd88c" stroke-width="0.3"/>
<circle cx="73.9" cy="432.2" r="0.6" fill="none" stroke="#9cd88c" stroke-width="0.3"/>
<circle cx="65.8" cy="417.0" r="0.6" fill="none" stroke="#9cd88c" stroke-width="0.3"/>
<circle cx="74.9" cy="419.7" r="0.6" fill="none" stroke="#9cd88c" stroke-width="0.3"/>
<circle cx="73.6" cy="420.8" r="0.6" fill="none" stroke="#9cd88c" stroke-width="0.3"/>
<circle cx="70.5" cy="419.7" r="0.6" fill="none" stroke="#9cd88c" stroke-width="0.3"/>
<circle cx="68.3" cy="418.2" r="0.6" fill="none" stroke="#9cd88c" stroke-width="0.3"/>
<circle cx="70.4" cy="417.8" r="0.6" fill="none" stroke="#9cd88c" stroke-width="0.3"/>
<circle cx="74.0" cy="432.1" r="0.6" fill="none" stroke="#9cd88c" stroke-width="0.3"/>
<circle cx="71.9" cy="423.1" r="0.6" fill="none" stroke="#9cd88c" stroke-width="0.3"/>
<circle cx="63.7" cy="425.4" r="0.6" fill="none" stroke="#9cd88c" stroke-width="0.3"/>
<circle cx="68.1" cy="430.4" r="0.6" fill="none" stroke="#9cd88c" stroke-width="0.3"/>
<circle cx="67.8" cy="430.4" r="0.6" fill="none" stroke="#9cd88c" stroke-width="0.3"/>
<circle cx="69.9" cy="429.1" r="0.6" fill="none" stroke="#9cd88c" stroke-width="0.3"/>
<circle cx="77.1" cy="431.2" r="0.6" fill="none" stroke="#9cd88c" stroke-width="0.3"/>
<circle cx="74.5" cy="421.9" r="0.6" fill="none" stroke="#9cd88c" stroke-width="0.3"/>
<circle cx="68.5" cy="419.8" r="0.6" fill="none" stroke="#9cd88c" stroke-width="0.3"/>
<circle cx="65.5" cy="420.9" r="0.6" fill="none" stroke="#9cd88c" stroke-width="0.3"/>
<circle cx="69.6" cy="429.4" r="0.6" fill="none" stroke="#9cd88c" stroke-width="0.3"/>
<circle cx="73.2" cy="418.6" r="0.6" fill="none" stroke="#9cd88c" stroke-width="0.3"/>
<circle cx="76.7" cy="419.4" r="0.6" fill="none" stroke="#9cd88c" stroke-width="0.3"/>
<circle cx="77.7" cy="418.8" r="0.6" fill="none" stroke="#9cd88c" stroke-width="0.3"/>
<circle cx="80.3" cy="421.1" r="0.6" fill="none" stroke="#9cd88c" stroke-width="0.3"/>
<circle cx="65.3" cy="418.5" r="0.6" fill="none" stroke="#9cd88c" stroke-width="0.3"/>
<circle cx="67.4" cy="418.2" r="0.6" fill="none" stroke="#9cd88c" stroke-width="0.3"/>
<circle cx="69.5" cy="431.8" r="0.6" fill="none" stroke="#9cd88c" stroke-width="0.3"/>
<circle cx="70.7" cy="422.4" r="0.6" fill="none" stroke="#9cd88c" stroke-width="0.3"/>
<circle cx="77.9" cy="417.2" r="0.6" fill="none" stroke="#9cd88c" stroke-width="0.3"/>
<circle cx="69.7" cy="418.8" r="0.6" fill="none" stroke="#9cd88c" stroke-width="0.3"/>
<circle cx="67.0" cy="428.1" r="0.6" fill="none" stroke="#9cd88c" stroke-width="0.3"/>
<circle cx="82.2" cy="422.5" r="0.6" fill="none" stroke="#9cd88c" stroke-width="0.3"/>
<circle cx="77.1" cy="423.5" r="0.6" fill="none" stroke="#9cd88c" stroke-width="0.3"/>
<circle cx="67.4" cy="421.1" r="0.6" fill="none" stroke="#9cd88c" stroke-width="0.3"/>
<circle cx="70.0" cy="420.1" r="0.6" fill="none" stroke="#9cd88c" stroke-width="0.3"/>
<circle cx="78.7" cy="417.5" r="0.6" fill="none" stroke="#9cd88c" stroke-width="0.3"/>
<circle cx="70.9" cy="428.0" r="0.6" fill="none" stroke="#9cd88c" stroke-width="0.3"/>
<circle cx="75.2" cy="426.6" r="0.6" fill="none" stroke="#9cd88c" stroke-width="0.3"/>
<polygon points="70.00,433.50 75.00,432.80 81.00,433.00 84.70,436.50 83.00,441.00 78.00,442.90 73.00,442.50 69.00,439.00" fill="#9494e4" fill-opacity="0.07"/>
<circle cx="72.0" cy="434.9" r="0.6" fill="none" stroke="#9494e4" stroke-width="0.3"/>
<circle cx="72.1" cy="433.6" r="0.6" fill="none" stroke="#9494e4" stroke-width="0.3"/>
<circle cx="78.4" cy="433.8" r="0.6" fill="none" stroke="#9494e4" stroke-width="0.3"/>
<circle cx="73.5" cy="434.3" r="0.6" fill="none" stroke="#9494e4" stroke-width="0.3"/>
<circle cx="77.1" cy="440.4" r="0.6" fill="none" stroke="#9494e4" stroke-width="0.3"/>
<circle cx="70.9" cy="436.6" r="0.6" fill="none" stroke="#9494e4" stroke-width="0.3"/>
<circle cx="71.6" cy="433.6" r="0.6" fill="none" stroke="#9494e4" stroke-width="0.3"/>
<circle cx="77.4" cy="435.8" r="0.6" fill="none" stroke="#9494e4" stroke-width="0.3"/>
<circle cx="80.4" cy="438.0" r="0.6" fill="none" stroke="#9494e4" stroke-width="0.3"/>
<circle cx="79.2" cy="436.2" r="0.6" fill="none" stroke="#9494e4" stroke-width="0.3"/>
<circle cx="76.4" cy="438.3" r="0.6" fill="none" stroke="#9494e4" stroke-width="0.3"/>
<circle cx="75.6" cy="437.3" r="0.6" fill="none" stroke="#9494e4" stroke-width="0.3"/>
<circle cx="80.6" cy="441.5" r="0.6" fill="none" stroke="#9494e4" stroke-width="0.3"/>
<circle cx="73.8" cy="433.6" r="0.6" fill="none" stroke="#9494e4" stroke-width="0.3"/>
<circle cx="72.5" cy="437.8" r="0.6" fill="none" stroke="#9494e4" stroke-width="0.3"/>
<circle cx="81.0" cy="440.2" r="0.6" fill="none" stroke="#9494e4" stroke-width="0.3"/>
<circle cx="73.7" cy="433.4" r="0.6" fill="none" stroke="#9494e4" stroke-width="0.3"/>
<circle cx="76.6" cy="436.1" r="0.6" fill="none" stroke="#9494e4" stroke-width="0.3"/>
<circle cx="77.4" cy="440.6" r="0.6" fill="none" stroke="#9494e4" stroke-width="0.3"/>
<circle cx="80.4" cy="438.0" r="0.6" fill="none" stroke="#9494e4" stroke-width="0.3"/>
<circle cx="75.9" cy="442.4" r="0.6" fill="none" stroke="#9494e4" stroke-width="0.3"/>
<circle cx="81.5" cy="438.6" r="0.6" fill="none" stroke="#9494e4" stroke-width="0.3"/>
<circle cx="81.1" cy="438.4" r="0.6" fill="none" stroke="#9494e4" stroke-width="0.3"/>
<circle cx="74.0" cy="434.1" r="0.6" fill="none" stroke="#9494e4" stroke-width="0.3"/>
<circle cx="78.1" cy="441.6" r="0.6" fill="none" stroke="#9494e4" stroke-width="0.3"/>
<circle cx="77.7" cy="437.7" r="0.6" fill="none" stroke="#9494e4" stroke-width="0.3"/>
<circle cx="74.3" cy="434.0" r="0.6" fill="none" stroke="#9494e4" stroke-width="0.3"/>
<circle cx="73.2" cy="442.3" r="0.6" fill="none" stroke="#9494e4" stroke-width="0.3"/>
<circle cx="76.8" cy="437.8" r="0.6" fill="none" stroke="#9494e4" stroke-width="0.3"/>
<circle cx="70.0" cy="437.1" r="0.6" fill="none" stroke="#9494e4" stroke-width="0.3"/>
<circle cx="78.1" cy="442.8" r="0.6" fill="none" stroke="#9494e4" stroke-width="0.3"/>
<circle cx="70.0" cy="439.4" r="0.6" fill="none" stroke="#9494e4" stroke-width="0.3"/>
<circle cx="72.2" cy="439.8" r="0.6" fill="none" stroke="#9494e4" stroke-width="0.3"/>
<circle cx="79.0" cy="434.9" r="0.6" fill="none" stroke="#9494e4" stroke-width="0.3"/>
<circle cx="76.3" cy="437.1" r="0.6" fill="none" stroke="#9494e4" stroke-width="0.3"/>
<circle cx="71.8" cy="436.8" r="0.6" fill="none" stroke="#9494e4" stroke-width="0.3"/>
<circle cx="75.3" cy="438.0" r="0.6" fill="none" stroke="#9494e4" stroke-width="0.3"/>
<circle cx="71.3" cy="440.3" r="0.6" fill="none" stroke="#9494e4" stroke-width="0.3"/>
<circle cx="79.9" cy="433.8" r="0.6" fill="none" stroke="#9494e4" stroke-width="0.3"/>
<circle cx="74.9" cy="434.0" r="0.6" fill="none" stroke="#9494e4" stroke-width="0.3"/>
<circle cx="82.1" cy="434.7" r="0.6" fill="none" stroke="#9494e4" stroke-width="0.3"/>
<circle cx="77.3" cy="440.0" r="0.6" fill="none" stroke="#9494e4" stroke-width="0.3"/>
<circle cx="71.4" cy="440.0" r="0.6" fill="none" stroke="#9494e4" stroke-width="0.3"/>
<circle cx="75.8" cy="434.5" r="0.6" fill="none" stroke="#9494e4" stroke-width="0.3"/>
<circle cx="76.3" cy="442.3" r="0.6" fill="none" stroke="#9494e4" stroke-width="0.3"/>
<circle cx="77.5" cy="441.7" r="0.6" fill="none" stroke="#9494e4" stroke-width="0.3"/>
<circle cx="76.5" cy="435.3" r="0.6" fill="none" stroke="#9494e4" stroke-width="0.3"/>
<circle cx="79.8" cy="435.8" r="0.6" fill="none" stroke="#9494e4" stroke-width="0.3"/>
<circle cx="69.8" cy="434.5" r="0.6" fill="none" stroke="#9494e4" stroke-width="0.3"/>
<circle cx="151.00" cy="366.40" r="1.50" fill="#a040c8"/>
<circle cx="151.90" cy="367.80" r="1.00" fill="#a040c8"/>
<text x="59.60" y="377.65" font-size="7.4" fill="#222" textLength="19.20" lengthAdjust="spacingAndGlyphs" stroke="#222" stroke-width="0.1">GCB1</text>
<text x="38.50" y="403.85" font-size="7.4" fill="#222" textLength="20.20" lengthAdjust="spacingAndGlyphs" stroke="#222" stroke-width="0.1">GCB2</text>
<text x="38.00" y="415.65" font-size="7.4" fill="#222" textLength="19.70" lengthAdjust="spacingAndGlyphs" stroke="#222" stroke-width="0.1">GCB4</text>
<text x="38.80" y="429.95" font-size="7.4" fill="#222" textLength="20.20" lengthAdjust="spacingAndGlyphs" stroke="#222" stroke-width="0.1">GCB5</text>
<text x="89.70" y="404.65" font-size="7.4" fill="#222" textLength="20.80" lengthAdjust="spacingAndGlyphs" stroke="#222" stroke-width="0.1">GCB3</text>
<text x="89.20" y="442.65" font-size="7.4" fill="#222" textLength="20.30" lengthAdjust="spacingAndGlyphs" stroke="#222" stroke-width="0.1">GCB6</text>
<text x="129.60" y="373.45" font-size="7.4" fill="#222" textLength="16.90" lengthAdjust="spacingAndGlyphs" stroke="#222" stroke-width="0.1">PBL1</text>
<line x1="32.80" y1="428.50" x2="32.80" y2="450.80" stroke="#111" stroke-width="1.1"/>
<line x1="32.30" y1="450.80" x2="59.50" y2="450.80" stroke="#111" stroke-width="1.1"/>
<polygon points="30.60,429.00 35.00,429.00 32.80,425.60" fill="#111"/>
<polygon points="59.00,448.60 59.00,453.00 62.60,450.80" fill="#111"/>
<text x="26.50" y="439.50" font-size="7.3" text-anchor="middle" fill="#222" textLength="27.00" lengthAdjust="spacingAndGlyphs" stroke="#222" stroke-width="0.1" transform="rotate(-90 26.50 439.50)">UMAP1</text>
<text x="32.50" y="462.61" font-size="7.3" fill="#222" textLength="27.70" lengthAdjust="spacingAndGlyphs" stroke="#222" stroke-width="0.1">UMAP2</text>
<circle cx="154.50" cy="394.20" r="2.30" fill="#d9a27a"/>
<text x="159.40" y="396.85" font-size="7.4" fill="#222" textLength="20.00" lengthAdjust="spacingAndGlyphs" stroke="#222" stroke-width="0.1">GCB1</text>
<circle cx="154.50" cy="402.38" r="2.30" fill="#7ed3cf"/>
<text x="159.40" y="405.03" font-size="7.4" fill="#222" textLength="20.00" lengthAdjust="spacingAndGlyphs" stroke="#222" stroke-width="0.1">GCB2</text>
<circle cx="154.50" cy="410.56" r="2.30" fill="#cbcad8"/>
<text x="159.40" y="413.21" font-size="7.4" fill="#222" textLength="20.00" lengthAdjust="spacingAndGlyphs" stroke="#222" stroke-width="0.1">GCB3</text>
<circle cx="154.50" cy="418.74" r="2.30" fill="#ccd0bc"/>
<text x="159.40" y="421.39" font-size="7.4" fill="#222" textLength="20.00" lengthAdjust="spacingAndGlyphs" stroke="#222" stroke-width="0.1">GCB4</text>
<circle cx="154.50" cy="426.92" r="2.30" fill="#94cf86"/>
<text x="159.40" y="429.57" font-size="7.4" fill="#222" textLength="20.00" lengthAdjust="spacingAndGlyphs" stroke="#222" stroke-width="0.1">GCB5</text>
<circle cx="154.50" cy="435.10" r="2.30" fill="#8f8de0"/>
<text x="159.40" y="437.75" font-size="7.4" fill="#222" textLength="20.00" lengthAdjust="spacingAndGlyphs" stroke="#222" stroke-width="0.1">GCB6</text>
<circle cx="154.50" cy="443.28" r="2.30" fill="#9a4fd0"/>
<text x="159.40" y="445.93" font-size="7.4" fill="#222" textLength="16.80" lengthAdjust="spacingAndGlyphs" stroke="#222" stroke-width="0.1">PBL1</text>
<text x="0.40" y="478.60" font-size="11.2" fill="#000" font-weight="bold">I</text>
<line x1="34.30" y1="481.50" x2="34.30" y2="535.50" stroke="#231f20" stroke-width="1.1"/>
<line x1="33.80" y1="535.00" x2="115.00" y2="535.00" stroke="#231f20" stroke-width="1.1"/>
<line x1="31.40" y1="487.60" x2="34.30" y2="487.60" stroke="#231f20" stroke-width="1"/>
<text x="28.80" y="490.46" font-size="8.0" text-anchor="end" fill="#333" textLength="13.00" lengthAdjust="spacingAndGlyphs" stroke="#333" stroke-width="0.1">400</text>
<line x1="31.40" y1="511.10" x2="34.30" y2="511.10" stroke="#231f20" stroke-width="1"/>
<text x="28.80" y="513.96" font-size="8.0" text-anchor="end" fill="#333" textLength="13.00" lengthAdjust="spacingAndGlyphs" stroke="#333" stroke-width="0.1">200</text>
<line x1="31.40" y1="534.60" x2="34.30" y2="534.60" stroke="#231f20" stroke-width="1"/>
<text x="28.80" y="537.46" font-size="8.0" text-anchor="end" fill="#333" textLength="4.60" lengthAdjust="spacingAndGlyphs" stroke="#333" stroke-width="0.1">0</text>
<text x="7.80" y="507.20" font-size="9.4" text-anchor="middle" fill="#333" textLength="43.00" lengthAdjust="spacingAndGlyphs" stroke="#333" stroke-width="0.1" transform="rotate(-90 7.80 507.20)">Cell number</text>
<rect x="38.80" y="507.50" width="6.60" height="23.50" fill="#c8102e"/>
<rect x="38.80" y="531.00" width="6.60" height="4.00" fill="#17508a"/>
<circle cx="42.10" cy="543.80" r="3.00" fill="#d9a27a"/>
<text x="43.90" y="553.60" font-size="8.0" text-anchor="end" fill="#333" textLength="22.22" lengthAdjust="spacingAndGlyphs" stroke="#333" stroke-width="0.1" transform="rotate(-45 43.90 553.60)">GCB1</text>
<rect x="49.60" y="510.75" width="6.60" height="22.55" fill="#c8102e"/>
<rect x="49.60" y="533.30" width="6.60" height="1.70" fill="#17508a"/>
<circle cx="52.90" cy="543.80" r="3.00" fill="#7ed3cf"/>
<text x="54.70" y="553.60" font-size="8.0" text-anchor="end" fill="#333" textLength="22.22" lengthAdjust="spacingAndGlyphs" stroke="#333" stroke-width="0.1" transform="rotate(-45 54.70 553.60)">GCB2</text>
<rect x="60.45" y="499.00" width="6.60" height="34.00" fill="#c8102e"/>
<rect x="60.45" y="533.00" width="6.60" height="2.00" fill="#17508a"/>
<circle cx="63.75" cy="543.80" r="3.00" fill="#cbcad8"/>
<text x="65.55" y="553.60" font-size="8.0" text-anchor="end" fill="#333" textLength="22.22" lengthAdjust="spacingAndGlyphs" stroke="#333" stroke-width="0.1" transform="rotate(-45 65.55 553.60)">GCB3</text>
<rect x="71.60" y="529.25" width="6.60" height="2.50" fill="#c8102e"/>
<rect x="71.60" y="531.75" width="6.60" height="3.25" fill="#17508a"/>
<circle cx="74.90" cy="543.80" r="3.00" fill="#ccd0bc"/>
<text x="76.70" y="553.60" font-size="8.0" text-anchor="end" fill="#333" textLength="22.22" lengthAdjust="spacingAndGlyphs" stroke="#333" stroke-width="0.1" transform="rotate(-45 76.70 553.60)">GCB4</text>
<rect x="82.60" y="501.25" width="6.60" height="17.00" fill="#c8102e"/>
<rect x="82.60" y="518.25" width="6.60" height="16.75" fill="#17508a"/>
<circle cx="85.90" cy="543.80" r="3.00" fill="#94cf86"/>
<text x="87.70" y="553.60" font-size="8.0" text-anchor="end" fill="#333" textLength="22.22" lengthAdjust="spacingAndGlyphs" stroke="#333" stroke-width="0.1" transform="rotate(-45 87.70 553.60)">GCB5</text>
<rect x="93.60" y="510.50" width="6.60" height="7.75" fill="#c8102e"/>
<rect x="93.60" y="518.25" width="6.60" height="16.75" fill="#17508a"/>
<circle cx="96.90" cy="543.80" r="3.00" fill="#8f8de0"/>
<text x="98.70" y="553.60" font-size="8.0" text-anchor="end" fill="#333" textLength="22.22" lengthAdjust="spacingAndGlyphs" stroke="#333" stroke-width="0.1" transform="rotate(-45 98.70 553.60)">GCB6</text>
<rect x="104.30" y="529.25" width="6.60" height="2.00" fill="#c8102e"/>
<rect x="104.30" y="531.25" width="6.60" height="3.75" fill="#17508a"/>
<circle cx="107.60" cy="543.80" r="3.00" fill="#9a4fd0"/>
<text x="109.40" y="553.60" font-size="8.0" text-anchor="end" fill="#333" textLength="19.96" lengthAdjust="spacingAndGlyphs" stroke="#333" stroke-width="0.1" transform="rotate(-45 109.40 553.60)">PBL1</text>
<rect x="40.00" y="480.00" width="3.80" height="3.80" fill="#c8102e"/>
<text x="47.70" y="484.52" font-size="7.6" fill="#333" textLength="19.30" lengthAdjust="spacingAndGlyphs" stroke="#333" stroke-width="0.1">MxTR</text>
<rect x="73.30" y="480.00" width="3.80" height="3.80" fill="#17508a"/>
<text x="80.40" y="484.52" font-size="7.6" fill="#333" textLength="22.60" lengthAdjust="spacingAndGlyphs" stroke="#333" stroke-width="0.1">MxWT</text>
<text x="133.60" y="479.80" font-size="11.2" fill="#000" font-weight="bold">J</text>
<line x1="163.80" y1="483.00" x2="163.80" y2="535.30" stroke="#231f20" stroke-width="1.1"/>
<line x1="163.30" y1="534.80" x2="243.00" y2="534.80" stroke="#231f20" stroke-width="1.1"/>
<line x1="161.00" y1="489.30" x2="163.80" y2="489.30" stroke="#231f20" stroke-width="1"/>
<text x="159.60" y="492.02" font-size="7.6" text-anchor="end" fill="#333" textLength="11.60" lengthAdjust="spacingAndGlyphs" stroke="#333" stroke-width="0.1">1.0</text>
<line x1="161.00" y1="512.05" x2="163.80" y2="512.05" stroke="#231f20" stroke-width="1"/>
<text x="159.60" y="514.77" font-size="7.6" text-anchor="end" fill="#333" textLength="11.60" lengthAdjust="spacingAndGlyphs" stroke="#333" stroke-width="0.1">0.5</text>
<line x1="161.00" y1="534.80" x2="163.80" y2="534.80" stroke="#231f20" stroke-width="1"/>
<text x="159.60" y="537.52" font-size="7.6" text-anchor="end" fill="#333" textLength="11.60" lengthAdjust="spacingAndGlyphs" stroke="#333" stroke-width="0.1">0.0</text>
<text x="141.20" y="509.40" font-size="9.4" text-anchor="middle" fill="#333" textLength="40.00" lengthAdjust="spacingAndGlyphs" stroke="#333" stroke-width="0.1" transform="rotate(-90 141.20 509.40)">Cluster ratio</text>
<rect x="167.70" y="489.30" width="6.70" height="41.40" fill="#c8102e"/>
<rect x="167.70" y="530.70" width="6.70" height="4.09" fill="#17508a"/>
<line x1="171.05" y1="534.80" x2="171.05" y2="537.00" stroke="#231f20" stroke-width="0.9"/>
<circle cx="170.75" cy="544.00" r="3.10" fill="#d9a27a"/>
<text x="175.45" y="552.00" font-size="8.4" text-anchor="end" fill="#333" textLength="24.02" lengthAdjust="spacingAndGlyphs" stroke="#333" stroke-width="0.1" transform="rotate(-45 175.45 552.00)">GCB1</text>
<rect x="178.65" y="489.30" width="6.70" height="44.13" fill="#c8102e"/>
<rect x="178.65" y="533.43" width="6.70" height="1.36" fill="#17508a"/>
<line x1="182.00" y1="534.80" x2="182.00" y2="537.00" stroke="#231f20" stroke-width="0.9"/>
<circle cx="181.70" cy="544.00" r="3.10" fill="#7ed3cf"/>
<text x="186.40" y="552.00" font-size="8.4" text-anchor="end" fill="#333" textLength="24.02" lengthAdjust="spacingAndGlyphs" stroke="#333" stroke-width="0.1" transform="rotate(-45 186.40 552.00)">GCB2</text>
<rect x="189.65" y="489.30" width="6.70" height="43.22" fill="#c8102e"/>
<rect x="189.65" y="532.52" width="6.70" height="2.27" fill="#17508a"/>
<line x1="193.00" y1="534.80" x2="193.00" y2="537.00" stroke="#231f20" stroke-width="0.9"/>
<circle cx="192.70" cy="544.00" r="3.10" fill="#cbcad8"/>
<text x="197.40" y="552.00" font-size="8.4" text-anchor="end" fill="#333" textLength="24.02" lengthAdjust="spacingAndGlyphs" stroke="#333" stroke-width="0.1" transform="rotate(-45 197.40 552.00)">GCB3</text>
<rect x="200.90" y="489.30" width="6.70" height="17.29" fill="#c8102e"/>
<rect x="200.90" y="506.59" width="6.70" height="28.21" fill="#17508a"/>
<line x1="204.25" y1="534.80" x2="204.25" y2="537.00" stroke="#231f20" stroke-width="0.9"/>
<circle cx="203.95" cy="544.00" r="3.10" fill="#ccd0bc"/>
<text x="208.65" y="552.00" font-size="8.4" text-anchor="end" fill="#333" textLength="24.02" lengthAdjust="spacingAndGlyphs" stroke="#333" stroke-width="0.1" transform="rotate(-45 208.65 552.00)">GCB4</text>
<rect x="211.90" y="489.30" width="6.70" height="22.75" fill="#c8102e"/>
<rect x="211.90" y="512.05" width="6.70" height="22.75" fill="#17508a"/>
<line x1="215.25" y1="534.80" x2="215.25" y2="537.00" stroke="#231f20" stroke-width="0.9"/>
<circle cx="214.95" cy="544.00" r="3.10" fill="#94cf86"/>
<text x="219.65" y="552.00" font-size="8.4" text-anchor="end" fill="#333" textLength="24.02" lengthAdjust="spacingAndGlyphs" stroke="#333" stroke-width="0.1" transform="rotate(-45 219.65 552.00)">GCB5</text>
<rect x="222.65" y="489.30" width="6.70" height="15.92" fill="#c8102e"/>
<rect x="222.65" y="505.22" width="6.70" height="29.57" fill="#17508a"/>
<line x1="226.00" y1="534.80" x2="226.00" y2="537.00" stroke="#231f20" stroke-width="0.9"/>
<circle cx="225.70" cy="544.00" r="3.10" fill="#8f8de0"/>
<text x="230.40" y="552.00" font-size="8.4" text-anchor="end" fill="#333" textLength="24.02" lengthAdjust="spacingAndGlyphs" stroke="#333" stroke-width="0.1" transform="rotate(-45 230.40 552.00)">GCB6</text>
<rect x="233.65" y="489.30" width="6.70" height="14.56" fill="#c8102e"/>
<rect x="233.65" y="503.86" width="6.70" height="30.94" fill="#17508a"/>
<line x1="237.00" y1="534.80" x2="237.00" y2="537.00" stroke="#231f20" stroke-width="0.9"/>
<circle cx="236.70" cy="544.00" r="3.10" fill="#9a4fd0"/>
<text x="241.40" y="552.00" font-size="8.4" text-anchor="end" fill="#333" textLength="21.58" lengthAdjust="spacingAndGlyphs" stroke="#333" stroke-width="0.1" transform="rotate(-45 241.40 552.00)">PBL1</text>
<rect x="169.10" y="479.40" width="3.80" height="3.70" fill="#c8102e"/>
<text x="176.50" y="483.92" font-size="7.6" fill="#333" textLength="20.10" lengthAdjust="spacingAndGlyphs" stroke="#333" stroke-width="0.1">MxTR</text>
<rect x="203.00" y="479.40" width="3.70" height="3.70" fill="#17508a"/>
<text x="210.40" y="483.92" font-size="7.6" fill="#333" textLength="22.20" lengthAdjust="spacingAndGlyphs" stroke="#333" stroke-width="0.1">MxWT</text>
<text x="258.60" y="370.40" font-size="11.2" fill="#000" font-weight="bold">K</text>
<rect x="306.20" y="378.60" width="8.90" height="12.35" fill="#ec7a60"/>
<rect x="314.80" y="378.60" width="8.90" height="12.35" fill="#ec7060"/>
<rect x="323.40" y="378.60" width="8.90" height="12.35" fill="#e8604e"/>
<rect x="332.00" y="378.60" width="8.90" height="12.35" fill="#f09878"/>
<rect x="340.60" y="378.60" width="8.90" height="12.35" fill="#a0c0d8"/>
<rect x="349.20" y="378.60" width="8.90" height="12.35" fill="#5a90d0"/>
<rect x="357.80" y="378.60" width="8.90" height="12.35" fill="#6a98d0"/>
<rect x="306.20" y="390.65" width="8.90" height="12.35" fill="#f8e0b0"/>
<rect x="314.80" y="390.65" width="8.90" height="12.35" fill="#f8f0c0"/>
<rect x="323.40" y="390.65" width="8.90" height="12.35" fill="#e8604e"/>
<rect x="332.00" y="390.65" width="8.90" height="12.35" fill="#f8e8b8"/>
<rect x="340.60" y="390.65" width="8.90" height="12.35" fill="#6898d0"/>
<rect x="349.20" y="390.65" width="8.90" height="12.35" fill="#f8c898"/>
<rect x="357.80" y="390.65" width="8.90" height="12.35" fill="#d8e8d0"/>
<rect x="306.20" y="402.69" width="8.90" height="12.35" fill="#f09080"/>
<rect x="314.80" y="402.69" width="8.90" height="12.35" fill="#e04838"/>
<rect x="323.40" y="402.69" width="8.90" height="12.35" fill="#f4b090"/>
<rect x="332.00" y="402.69" width="8.90" height="12.35" fill="#f8d8a8"/>
<rect x="340.60" y="402.69" width="8.90" height="12.35" fill="#88b0d8"/>
<rect x="349.20" y="402.69" width="8.90" height="12.35" fill="#5088c8"/>
<rect x="357.80" y="402.69" width="8.90" height="12.35" fill="#90b8d8"/>
<rect x="306.20" y="414.74" width="8.90" height="12.35" fill="#f4a888"/>
<rect x="314.80" y="414.74" width="8.90" height="12.35" fill="#f8f0c0"/>
<rect x="323.40" y="414.74" width="8.90" height="12.35" fill="#f09878"/>
<rect x="332.00" y="414.74" width="8.90" height="12.35" fill="#f09878"/>
<rect x="340.60" y="414.74" width="8.90" height="12.35" fill="#98b8d8"/>
<rect x="349.20" y="414.74" width="8.90" height="12.35" fill="#f8f0c0"/>
<rect x="357.80" y="414.74" width="8.90" height="12.35" fill="#b0c8d8"/>
<rect x="306.20" y="426.78" width="8.90" height="12.35" fill="#e86858"/>
<rect x="314.80" y="426.78" width="8.90" height="12.35" fill="#e86858"/>
<rect x="323.40" y="426.78" width="8.90" height="12.35" fill="#e05040"/>
<rect x="332.00" y="426.78" width="8.90" height="12.35" fill="#f09070"/>
<rect x="340.60" y="426.78" width="8.90" height="12.35" fill="#c8d8d0"/>
<rect x="349.20" y="426.78" width="8.90" height="12.35" fill="#4880c8"/>
<rect x="357.80" y="426.78" width="8.90" height="12.35" fill="#4880c8"/>
<rect x="306.20" y="438.83" width="8.90" height="12.35" fill="#f8f0c8"/>
<rect x="314.80" y="438.83" width="8.90" height="12.35" fill="#f8f0c8"/>
<rect x="323.40" y="438.83" width="8.90" height="12.35" fill="#f8d8b0"/>
<rect x="332.00" y="438.83" width="8.90" height="12.35" fill="#f4c0a0"/>
<rect x="340.60" y="438.83" width="8.90" height="12.35" fill="#f8f4c8"/>
<rect x="349.20" y="438.83" width="8.90" height="12.35" fill="#f8f0c0"/>
<rect x="357.80" y="438.83" width="8.90" height="12.35" fill="#e0e8d0"/>
<rect x="306.20" y="450.88" width="8.90" height="12.35" fill="#f0f0d0"/>
<rect x="314.80" y="450.88" width="8.90" height="12.35" fill="#f0f0d0"/>
<rect x="323.40" y="450.88" width="8.90" height="12.35" fill="#f8f0c8"/>
<rect x="332.00" y="450.88" width="8.90" height="12.35" fill="#e84838"/>
<rect x="340.60" y="450.88" width="8.90" height="12.35" fill="#88b0d8"/>
<rect x="349.20" y="450.88" width="8.90" height="12.35" fill="#f4b898"/>
<rect x="357.80" y="450.88" width="8.90" height="12.35" fill="#c8d8d8"/>
<rect x="306.20" y="462.92" width="8.90" height="12.35" fill="#e86040"/>
<rect x="314.80" y="462.92" width="8.90" height="12.35" fill="#f8e0b8"/>
<rect x="323.40" y="462.92" width="8.90" height="12.35" fill="#f07860"/>
<rect x="332.00" y="462.92" width="8.90" height="12.35" fill="#b8d0d8"/>
<rect x="340.60" y="462.92" width="8.90" height="12.35" fill="#78a8d8"/>
<rect x="349.20" y="462.92" width="8.90" height="12.35" fill="#f8f4c8"/>
<rect x="357.80" y="462.92" width="8.90" height="12.35" fill="#d8e4d0"/>
<rect x="306.20" y="474.97" width="8.90" height="12.35" fill="#b0d0d8"/>
<rect x="314.80" y="474.97" width="8.90" height="12.35" fill="#f8c8a0"/>
<rect x="323.40" y="474.97" width="8.90" height="12.35" fill="#d8e4d8"/>
<rect x="332.00" y="474.97" width="8.90" height="12.35" fill="#f8f0c8"/>
<rect x="340.60" y="474.97" width="8.90" height="12.35" fill="#f8f0c8"/>
<rect x="349.20" y="474.97" width="8.90" height="12.35" fill="#e85848"/>
<rect x="357.80" y="474.97" width="8.90" height="12.35" fill="#e8ecd0"/>
<rect x="306.20" y="487.02" width="8.90" height="12.35" fill="#e0ecd8"/>
<rect x="314.80" y="487.02" width="8.90" height="12.35" fill="#e87860"/>
<rect x="323.40" y="487.02" width="8.90" height="12.35" fill="#98bcd8"/>
<rect x="332.00" y="487.02" width="8.90" height="12.35" fill="#ec7860"/>
<rect x="340.60" y="487.02" width="8.90" height="12.35" fill="#e83828"/>
<rect x="349.20" y="487.02" width="8.90" height="12.35" fill="#e8f0d0"/>
<rect x="357.80" y="487.02" width="8.90" height="12.35" fill="#5888c8"/>
<rect x="306.20" y="499.06" width="8.90" height="12.35" fill="#e0ecd8"/>
<rect x="314.80" y="499.06" width="8.90" height="12.35" fill="#f4b898"/>
<rect x="323.40" y="499.06" width="8.90" height="12.35" fill="#f8f0c8"/>
<rect x="332.00" y="499.06" width="8.90" height="12.35" fill="#f4c0a0"/>
<rect x="340.60" y="499.06" width="8.90" height="12.35" fill="#6898c8"/>
<rect x="349.20" y="499.06" width="8.90" height="12.35" fill="#f8d0a8"/>
<rect x="357.80" y="499.06" width="8.90" height="12.35" fill="#f8d0a8"/>
<rect x="306.20" y="511.11" width="8.90" height="12.35" fill="#e0e8d8"/>
<rect x="314.80" y="511.11" width="8.90" height="12.35" fill="#f4c0a0"/>
<rect x="323.40" y="511.11" width="8.90" height="12.35" fill="#f8ecc0"/>
<rect x="332.00" y="511.11" width="8.90" height="12.35" fill="#f8f8c8"/>
<rect x="340.60" y="511.11" width="8.90" height="12.35" fill="#f8f8c8"/>
<rect x="349.20" y="511.11" width="8.90" height="12.35" fill="#c0d0d0"/>
<rect x="357.80" y="511.11" width="8.90" height="12.35" fill="#f4c0a0"/>
<rect x="306.20" y="523.15" width="8.90" height="12.35" fill="#b8d0d8"/>
<rect x="314.80" y="523.15" width="8.90" height="12.35" fill="#f8f0c8"/>
<rect x="323.40" y="523.15" width="8.90" height="12.35" fill="#f8f0c8"/>
<rect x="332.00" y="523.15" width="8.90" height="12.35" fill="#f0f0d0"/>
<rect x="340.60" y="523.15" width="8.90" height="12.35" fill="#f8f4c8"/>
<rect x="349.20" y="523.15" width="8.90" height="12.35" fill="#f8e8c0"/>
<rect x="357.80" y="523.15" width="8.90" height="12.35" fill="#e87058"/>
<rect x="306.20" y="378.60" width="60.20" height="156.60" fill="none" stroke="#444" stroke-width="0.9"/>
<line x1="302.60" y1="384.62" x2="306.20" y2="384.62" stroke="#444" stroke-width="0.9"/>
<text x="300.20" y="387.49" font-size="8.0" text-anchor="end" fill="#222" textLength="33.90" lengthAdjust="spacingAndGlyphs" stroke="#222" stroke-width="0.1">DZ_a_UP</text>
<line x1="302.60" y1="396.67" x2="306.20" y2="396.67" stroke="#444" stroke-width="0.9"/>
<text x="300.20" y="399.53" font-size="8.0" text-anchor="end" fill="#222" textLength="33.90" lengthAdjust="spacingAndGlyphs" stroke="#222" stroke-width="0.1">DZ_b_UP</text>
<line x1="302.60" y1="408.72" x2="306.20" y2="408.72" stroke="#444" stroke-width="0.9"/>
<text x="300.20" y="411.58" font-size="8.0" text-anchor="end" fill="#222" textLength="33.90" lengthAdjust="spacingAndGlyphs" stroke="#222" stroke-width="0.1">DZ_c_UP</text>
<line x1="302.60" y1="420.76" x2="306.20" y2="420.76" stroke="#444" stroke-width="0.9"/>
<text x="300.20" y="423.63" font-size="8.0" text-anchor="end" fill="#222" textLength="37.30" lengthAdjust="spacingAndGlyphs" stroke="#222" stroke-width="0.1">INT_a_UP</text>
<line x1="302.60" y1="432.81" x2="306.20" y2="432.81" stroke="#444" stroke-width="0.9"/>
<text x="300.20" y="435.67" font-size="8.0" text-anchor="end" fill="#222" textLength="37.30" lengthAdjust="spacingAndGlyphs" stroke="#222" stroke-width="0.1">INT_b_UP</text>
<line x1="302.60" y1="444.85" x2="306.20" y2="444.85" stroke="#444" stroke-width="0.9"/>
<text x="300.20" y="447.72" font-size="8.0" text-anchor="end" fill="#222" textLength="37.30" lengthAdjust="spacingAndGlyphs" stroke="#222" stroke-width="0.1">INT_c_UP</text>
<line x1="302.60" y1="456.90" x2="306.20" y2="456.90" stroke="#444" stroke-width="0.9"/>
<text x="300.20" y="459.76" font-size="8.0" text-anchor="end" fill="#222" textLength="37.30" lengthAdjust="spacingAndGlyphs" stroke="#222" stroke-width="0.1">INT_d_UP</text>
<line x1="302.60" y1="468.95" x2="306.20" y2="468.95" stroke="#444" stroke-width="0.9"/>
<text x="300.20" y="471.81" font-size="8.0" text-anchor="end" fill="#222" textLength="37.30" lengthAdjust="spacingAndGlyphs" stroke="#222" stroke-width="0.1">INT_e_UP</text>
<line x1="302.60" y1="480.99" x2="306.20" y2="480.99" stroke="#444" stroke-width="0.9"/>
<text x="300.20" y="483.86" font-size="8.0" text-anchor="end" fill="#222" textLength="32.00" lengthAdjust="spacingAndGlyphs" stroke="#222" stroke-width="0.1">LZ_a_UP</text>
<line x1="302.60" y1="493.04" x2="306.20" y2="493.04" stroke="#444" stroke-width="0.9"/>
<text x="300.20" y="495.90" font-size="8.0" text-anchor="end" fill="#222" textLength="32.00" lengthAdjust="spacingAndGlyphs" stroke="#222" stroke-width="0.1">LZ_b_UP</text>
<line x1="302.60" y1="505.08" x2="306.20" y2="505.08" stroke="#444" stroke-width="0.9"/>
<text x="300.20" y="507.95" font-size="8.0" text-anchor="end" fill="#222" textLength="34.60" lengthAdjust="spacingAndGlyphs" stroke="#222" stroke-width="0.1">PreM_UP</text>
<line x1="302.60" y1="517.13" x2="306.20" y2="517.13" stroke="#444" stroke-width="0.9"/>
<text x="300.20" y="519.99" font-size="8.0" text-anchor="end" fill="#222" textLength="37.60" lengthAdjust="spacingAndGlyphs" stroke="#222" stroke-width="0.1">PBL_a_UP</text>
<line x1="302.60" y1="529.18" x2="306.20" y2="529.18" stroke="#444" stroke-width="0.9"/>
<text x="300.20" y="532.04" font-size="8.0" text-anchor="end" fill="#222" textLength="37.60" lengthAdjust="spacingAndGlyphs" stroke="#222" stroke-width="0.1">PBL_b_UP</text>
<line x1="310.50" y1="535.20" x2="310.50" y2="537.80" stroke="#444" stroke-width="0.9"/>
<circle cx="310.50" cy="543.60" r="2.60" fill="#d9a27a"/>
<text x="312.20" y="552.60" font-size="7.4" text-anchor="end" fill="#2a2a2a" textLength="19.75" lengthAdjust="spacingAndGlyphs" stroke="#2a2a2a" stroke-width="0.1" transform="rotate(-45 312.20 552.60)">GCB1</text>
<line x1="319.10" y1="535.20" x2="319.10" y2="537.80" stroke="#444" stroke-width="0.9"/>
<circle cx="319.10" cy="543.60" r="2.60" fill="#7ed3cf"/>
<text x="320.80" y="552.60" font-size="7.4" text-anchor="end" fill="#2a2a2a" textLength="19.75" lengthAdjust="spacingAndGlyphs" stroke="#2a2a2a" stroke-width="0.1" transform="rotate(-45 320.80 552.60)">GCB2</text>
<line x1="327.70" y1="535.20" x2="327.70" y2="537.80" stroke="#444" stroke-width="0.9"/>
<circle cx="327.70" cy="543.60" r="2.60" fill="#cbcad8"/>
<text x="329.40" y="552.60" font-size="7.4" text-anchor="end" fill="#2a2a2a" textLength="19.75" lengthAdjust="spacingAndGlyphs" stroke="#2a2a2a" stroke-width="0.1" transform="rotate(-45 329.40 552.60)">GCB3</text>
<line x1="336.30" y1="535.20" x2="336.30" y2="537.80" stroke="#444" stroke-width="0.9"/>
<circle cx="336.30" cy="543.60" r="2.60" fill="#ccd0bc"/>
<text x="338.00" y="552.60" font-size="7.4" text-anchor="end" fill="#2a2a2a" textLength="19.75" lengthAdjust="spacingAndGlyphs" stroke="#2a2a2a" stroke-width="0.1" transform="rotate(-45 338.00 552.60)">GCB4</text>
<line x1="344.90" y1="535.20" x2="344.90" y2="537.80" stroke="#444" stroke-width="0.9"/>
<circle cx="344.90" cy="543.60" r="2.60" fill="#94cf86"/>
<text x="346.60" y="552.60" font-size="7.4" text-anchor="end" fill="#2a2a2a" textLength="19.75" lengthAdjust="spacingAndGlyphs" stroke="#2a2a2a" stroke-width="0.1" transform="rotate(-45 346.60 552.60)">GCB5</text>
<line x1="353.50" y1="535.20" x2="353.50" y2="537.80" stroke="#444" stroke-width="0.9"/>
<circle cx="353.50" cy="543.60" r="2.60" fill="#8f8de0"/>
<text x="355.20" y="552.60" font-size="7.4" text-anchor="end" fill="#2a2a2a" textLength="19.75" lengthAdjust="spacingAndGlyphs" stroke="#2a2a2a" stroke-width="0.1" transform="rotate(-45 355.20 552.60)">GCB6</text>
<line x1="362.10" y1="535.20" x2="362.10" y2="537.80" stroke="#444" stroke-width="0.9"/>
<circle cx="362.10" cy="543.60" r="2.60" fill="#9a4fd0"/>
<text x="363.80" y="552.60" font-size="7.4" text-anchor="end" fill="#2a2a2a" textLength="17.74" lengthAdjust="spacingAndGlyphs" stroke="#2a2a2a" stroke-width="0.1" transform="rotate(-45 363.80 552.60)">PBL1</text>
<defs><linearGradient id="kg" x1="0" y1="0" x2="0" y2="1"><stop offset="0" stop-color="#b2182b"/><stop offset="0.25" stop-color="#ef8a62"/><stop offset="0.5" stop-color="#fdf5c8"/><stop offset="0.75" stop-color="#67a9cf"/><stop offset="1" stop-color="#2166ac"/></linearGradient><linearGradient id="mg" x1="0" y1="0" x2="0" y2="1"><stop offset="0" stop-color="#d7191c"/><stop offset="1" stop-color="#9a9aa8"/></linearGradient></defs>
<rect x="386.00" y="524.00" width="4.60" height="19.70" fill="url(#kg)"/>
<text x="382.50" y="521.98" font-size="7.2" fill="#333" textLength="13.50" lengthAdjust="spacingAndGlyphs" stroke="#333" stroke-width="0.1">High</text>
<text x="383.30" y="551.58" font-size="7.2" fill="#333" textLength="11.30" lengthAdjust="spacingAndGlyphs" stroke="#333" stroke-width="0.1">Low</text>
<text x="379.60" y="534.20" font-size="7.2" text-anchor="middle" fill="#333" textLength="36.00" lengthAdjust="spacingAndGlyphs" stroke="#333" stroke-width="0.1" transform="rotate(-90 379.60 534.20)">Expression</text>
<text x="411.00" y="370.50" font-size="11.2" fill="#000" font-weight="bold">L</text>
<line x1="444.60" y1="379.60" x2="444.60" y2="390.40" stroke="#333" stroke-width="0.8"/>
<line x1="442.60" y1="390.40" x2="444.60" y2="390.40" stroke="#333" stroke-width="0.5"/>
<line x1="442.60" y1="387.80" x2="444.60" y2="387.80" stroke="#333" stroke-width="0.5"/>
<line x1="442.60" y1="385.20" x2="444.60" y2="385.20" stroke="#333" stroke-width="0.5"/>
<line x1="442.60" y1="382.60" x2="444.60" y2="382.60" stroke="#333" stroke-width="0.5"/>
<line x1="442.60" y1="380.00" x2="444.60" y2="380.00" stroke="#333" stroke-width="0.5"/>
<text x="439.30" y="387.91" font-size="8.4" text-anchor="end" fill="#1a1a1a" font-style="italic" textLength="23.94" lengthAdjust="spacingAndGlyphs" stroke="#1a1a1a" stroke-width="0.1">*Cxcr4</text>
<polygon points="452.30,390.40 451.25,390.40 450.44,389.86 449.67,389.33 449.13,388.79 448.72,388.26 449.02,387.72 448.93,387.19 450.22,386.65 450.02,386.11 449.97,385.58 450.66,385.04 451.00,384.51 451.75,383.97 452.03,383.44 452.30,382.90 452.30,382.90" fill="#c8102e"/>
<polygon points="452.30,390.40 456.80,390.40 454.79,389.97 455.56,389.54 455.57,389.11 454.71,388.69 454.84,388.26 454.71,387.83 455.12,387.40 454.60,386.97 453.74,386.54 453.78,386.11 453.08,385.69 452.89,385.26 452.49,384.83 452.30,384.40 452.30,384.40" fill="#17508a"/>
<polygon points="463.80,390.40 463.31,390.40 463.22,389.90 462.67,389.40 462.78,388.90 462.65,388.40 462.12,387.90 462.18,387.40 462.59,386.90 462.33,386.40 462.73,385.90 462.89,385.40 463.26,384.90 463.35,384.40 463.63,383.90 463.80,383.40 463.80,383.40" fill="#c8102e"/>
<polygon points="475.80,390.40 475.17,390.40 474.65,389.90 474.33,389.40 474.43,388.90 474.22,388.40 474.28,387.90 474.29,387.40 474.41,386.90 474.37,386.40 474.38,385.90 474.95,385.40 474.95,384.90 475.35,384.40 475.61,383.90 475.80,383.40 475.80,383.40" fill="#c8102e"/>
<line x1="487.80" y1="390.40" x2="487.80" y2="379.40" stroke="#7c7c7c" stroke-width="0.8"/>
<line x1="500.00" y1="390.40" x2="500.00" y2="387.90" stroke="#7c7c7c" stroke-width="0.8"/>
<polygon points="500.00,390.40 499.72,390.40 499.46,390.22 499.37,390.04 499.31,389.86 499.21,389.69 499.14,389.51 499.39,389.33 499.16,389.15 499.51,388.97 499.42,388.79 499.53,388.61 499.77,388.44 499.80,388.26 499.93,388.08 500.00,387.90 500.00,387.90" fill="#c8102e"/>
<line x1="512.00" y1="390.40" x2="512.00" y2="382.40" stroke="#7c7c7c" stroke-width="0.8"/>
<line x1="444.20" y1="390.40" x2="516.70" y2="390.40" stroke="#1a1a1a" stroke-width="1.1"/>
<line x1="444.60" y1="392.78" x2="444.60" y2="403.58" stroke="#333" stroke-width="0.8"/>
<line x1="442.60" y1="403.58" x2="444.60" y2="403.58" stroke="#333" stroke-width="0.5"/>
<line x1="442.60" y1="400.98" x2="444.60" y2="400.98" stroke="#333" stroke-width="0.5"/>
<line x1="442.60" y1="398.38" x2="444.60" y2="398.38" stroke="#333" stroke-width="0.5"/>
<line x1="442.60" y1="395.78" x2="444.60" y2="395.78" stroke="#333" stroke-width="0.5"/>
<line x1="442.60" y1="393.18" x2="444.60" y2="393.18" stroke="#333" stroke-width="0.5"/>
<text x="439.30" y="401.09" font-size="8.4" text-anchor="end" fill="#1a1a1a" font-style="italic" textLength="19.96" lengthAdjust="spacingAndGlyphs" stroke="#1a1a1a" stroke-width="0.1">Aicda</text>
<polygon points="452.30,403.58 451.74,403.58 451.33,402.87 451.31,402.15 451.10,401.44 450.93,400.72 450.40,400.01 450.99,399.29 450.75,398.58 450.83,397.87 451.06,397.15 451.54,396.44 451.75,395.72 451.94,395.01 452.13,394.29 452.30,393.58 452.30,393.58" fill="#c8102e"/>
<polygon points="452.30,403.58 456.80,403.58 454.79,402.87 456.66,402.15 457.05,401.44 457.08,400.72 455.44,400.01 456.69,399.29 455.01,398.58 454.97,397.87 454.79,397.15 454.49,396.44 453.52,395.72 453.24,395.01 452.63,394.29 452.30,393.58 452.30,393.58" fill="#17508a"/>
<polygon points="463.80,403.58 463.35,403.58 463.10,402.87 462.85,402.15 462.76,401.44 462.74,400.72 462.71,400.01 462.47,399.29 462.42,398.58 462.94,397.87 463.12,397.15 462.99,396.44 463.32,395.72 463.52,395.01 463.69,394.29 463.80,393.58 463.80,393.58" fill="#c8102e"/>
<polygon points="475.80,403.58 475.28,403.58 474.88,402.94 474.44,402.29 474.42,401.65 474.35,401.01 474.61,400.37 474.12,399.72 474.76,399.08 474.64,398.44 474.68,397.79 475.16,397.15 475.19,396.51 475.40,395.87 475.65,395.22 475.80,394.58 475.80,394.58" fill="#c8102e"/>
<polygon points="475.80,403.58 480.80,403.58 478.57,402.94 478.51,402.29 479.20,401.65 478.71,401.01 479.59,400.37 478.58,399.72 478.50,399.08 478.71,398.44 478.09,397.79 477.66,397.15 476.87,396.51 476.46,395.87 476.10,395.22 475.80,394.58 475.80,394.58" fill="#17508a"/>
<line x1="487.80" y1="403.58" x2="487.80" y2="393.58" stroke="#7c7c7c" stroke-width="0.8"/>
<line x1="500.00" y1="403.58" x2="500.00" y2="393.58" stroke="#7c7c7c" stroke-width="0.8"/>
<line x1="512.00" y1="403.58" x2="512.00" y2="394.58" stroke="#7c7c7c" stroke-width="0.8"/>
<line x1="444.20" y1="403.58" x2="516.70" y2="403.58" stroke="#1a1a1a" stroke-width="1.1"/>
<line x1="444.60" y1="405.96" x2="444.60" y2="416.76" stroke="#333" stroke-width="0.8"/>
<line x1="442.60" y1="416.76" x2="444.60" y2="416.76" stroke="#333" stroke-width="0.5"/>
<line x1="442.60" y1="414.16" x2="444.60" y2="414.16" stroke="#333" stroke-width="0.5"/>
<line x1="442.60" y1="411.56" x2="444.60" y2="411.56" stroke="#333" stroke-width="0.5"/>
<line x1="442.60" y1="408.96" x2="444.60" y2="408.96" stroke="#333" stroke-width="0.5"/>
<line x1="442.60" y1="406.36" x2="444.60" y2="406.36" stroke="#333" stroke-width="0.5"/>
<text x="439.30" y="414.27" font-size="8.4" text-anchor="end" fill="#1a1a1a" font-style="italic" textLength="22.18" lengthAdjust="spacingAndGlyphs" stroke="#1a1a1a" stroke-width="0.1">Foxp1</text>
<polygon points="452.30,416.76 450.55,416.76 449.77,416.12 449.30,415.47 448.51,414.83 448.52,414.19 447.73,413.55 446.24,412.90 446.37,412.26 447.43,411.62 448.24,410.97 449.22,410.33 450.31,409.69 450.95,409.05 451.59,408.40 452.30,407.76 452.30,407.76" fill="#c8102e"/>
<polygon points="452.30,416.76 454.12,416.76 455.38,416.12 455.53,415.47 456.94,414.83 457.52,414.19 457.75,413.55 457.87,412.90 458.02,412.26 456.81,411.62 456.90,410.97 455.41,410.33 454.81,409.69 454.05,409.05 453.01,408.40 452.30,407.76 452.30,407.76" fill="#17508a"/>
<polygon points="463.80,416.76 462.12,416.76 461.57,416.12 460.01,415.47 459.75,414.83 459.35,414.19 460.16,413.55 458.91,412.90 459.58,412.26 459.03,411.62 459.97,410.97 460.18,410.33 461.31,409.69 462.17,409.05 463.24,408.40 463.80,407.76 463.80,407.76" fill="#c8102e"/>
<polygon points="463.80,416.76 465.38,416.76 466.24,416.12 467.09,415.47 467.88,414.83 467.57,414.19 468.80,413.55 469.02,412.90 468.61,412.26 468.83,411.62 468.19,410.97 466.80,410.33 466.02,409.69 464.95,409.05 464.45,408.40 463.80,407.76 463.80,407.76" fill="#17508a"/>
<polygon points="475.80,416.76 474.05,416.76 472.93,416.05 472.79,415.33 471.88,414.62 471.28,413.90 470.82,413.19 471.69,412.47 470.22,411.76 470.64,411.05 470.80,410.33 471.95,409.62 472.61,408.90 473.65,408.19 474.94,407.47 475.80,406.76 475.80,406.76" fill="#c8102e"/>
<polygon points="475.80,416.76 477.90,416.76 478.87,416.05 478.56,415.33 479.30,414.62 480.36,413.90 481.31,413.19 480.66,412.47 482.10,411.76 482.11,411.05 480.56,410.33 481.15,409.62 479.59,408.90 478.05,408.19 476.81,407.47 475.80,406.76 475.80,406.76" fill="#17508a"/>
<polygon points="487.80,416.76 486.33,416.76 483.97,416.05 484.22,415.33 484.29,414.62 484.72,413.90 484.24,413.19 484.69,412.47 484.75,411.76 485.21,411.05 486.00,410.33 485.95,409.62 486.94,408.90 487.17,408.19 487.55,407.47 487.80,406.76 487.80,406.76" fill="#c8102e"/>
<polygon points="487.80,416.76 488.32,416.76 488.65,416.05 488.79,415.33 489.41,414.62 489.21,413.90 488.98,413.19 489.29,412.47 488.88,411.76 488.98,411.05 488.71,410.33 488.60,409.62 488.46,408.90 488.18,408.19 487.93,407.47 487.80,406.76 487.80,406.76" fill="#17508a"/>
<polygon points="500.00,416.76 498.25,416.76 497.19,416.08 496.64,415.40 496.44,414.72 496.38,414.05 495.12,413.37 494.94,412.69 493.99,412.01 494.17,411.33 495.43,410.65 496.61,409.97 496.83,409.30 498.68,408.62 499.41,407.94 500.00,407.26 500.00,407.26" fill="#c8102e"/>
<polygon points="500.00,416.76 501.61,416.76 502.18,416.08 502.74,415.40 502.58,414.72 503.69,414.05 504.52,413.37 503.93,412.69 504.25,412.01 503.99,411.33 504.18,410.65 505.33,409.97 503.45,409.30 502.93,408.62 501.26,407.94 500.00,407.26 500.00,407.26" fill="#17508a"/>
<polygon points="512.00,416.76 510.18,416.76 509.32,416.01 509.06,415.26 507.24,414.51 507.54,413.76 507.32,413.01 507.29,412.26 505.69,411.51 506.99,410.76 507.89,410.01 508.26,409.26 509.65,408.51 510.15,407.76 511.28,407.01 512.00,406.26 512.00,406.26" fill="#c8102e"/>
<polygon points="512.00,416.76 513.82,416.76 514.21,416.01 515.39,415.26 516.08,414.51 515.19,413.76 516.54,413.01 516.33,412.26 518.01,411.51 517.82,410.76 516.59,410.01 516.22,409.26 515.16,408.51 514.95,407.76 512.95,407.01 512.00,406.26 512.00,406.26" fill="#17508a"/>
<line x1="444.20" y1="416.76" x2="516.70" y2="416.76" stroke="#1a1a1a" stroke-width="1.1"/>
<line x1="444.60" y1="419.14" x2="444.60" y2="429.94" stroke="#333" stroke-width="0.8"/>
<line x1="442.60" y1="429.94" x2="444.60" y2="429.94" stroke="#333" stroke-width="0.5"/>
<line x1="442.60" y1="427.34" x2="444.60" y2="427.34" stroke="#333" stroke-width="0.5"/>
<line x1="442.60" y1="424.74" x2="444.60" y2="424.74" stroke="#333" stroke-width="0.5"/>
<line x1="442.60" y1="422.14" x2="444.60" y2="422.14" stroke="#333" stroke-width="0.5"/>
<line x1="442.60" y1="419.54" x2="444.60" y2="419.54" stroke="#333" stroke-width="0.5"/>
<text x="439.30" y="427.45" font-size="8.4" text-anchor="end" fill="#1a1a1a" font-style="italic" textLength="22.18" lengthAdjust="spacingAndGlyphs" stroke="#1a1a1a" stroke-width="0.1">*Cd83</text>
<polygon points="452.30,429.94 450.55,429.94 449.52,429.37 448.86,428.80 447.86,428.23 447.41,427.65 446.82,427.08 448.16,426.51 446.97,425.94 448.32,425.37 448.48,424.80 449.49,424.23 450.30,423.65 450.93,423.08 451.75,422.51 452.30,421.94 452.30,421.94" fill="#c8102e"/>
<polygon points="452.30,429.94 452.82,429.94 453.28,429.51 453.85,429.08 453.86,428.65 453.47,428.23 453.56,427.80 453.58,427.37 453.70,426.94 453.50,426.51 453.17,426.08 452.82,425.65 452.83,425.23 452.57,424.80 452.42,424.37 452.30,423.94 452.30,423.94" fill="#17508a"/>
<polygon points="463.80,429.94 462.23,429.94 461.20,429.37 460.49,428.80 460.07,428.23 458.83,427.65 459.57,427.08 459.53,426.51 458.83,425.94 460.40,425.37 460.71,424.80 460.68,424.23 462.20,423.65 462.40,423.08 463.25,422.51 463.80,421.94 463.80,421.94" fill="#c8102e"/>
<polygon points="463.80,429.94 468.30,429.94 466.52,429.51 466.51,429.08 467.08,428.65 467.10,428.23 466.01,427.80 466.17,427.37 465.97,426.94 465.62,426.51 465.18,426.08 464.77,425.65 464.64,425.23 464.35,424.80 463.96,424.37 463.80,423.94 463.80,423.94" fill="#17508a"/>
<polygon points="475.80,429.94 474.30,429.94 473.79,429.37 472.39,428.80 471.75,428.23 471.49,427.65 472.43,427.08 471.10,426.51 470.82,425.94 471.22,425.37 472.27,424.80 473.71,424.23 473.62,423.65 474.78,423.08 475.29,422.51 475.80,421.94 475.80,421.94" fill="#c8102e"/>
<polygon points="475.80,429.94 476.32,429.94 477.05,429.51 477.33,429.08 477.06,428.65 477.14,428.23 477.47,427.80 476.91,427.37 477.04,426.94 476.79,426.51 476.52,426.08 476.50,425.65 476.17,425.23 476.03,424.80 475.91,424.37 475.80,423.94 475.80,423.94" fill="#17508a"/>
<polygon points="487.80,429.94 486.40,429.94 484.97,429.23 484.58,428.51 483.74,427.80 483.62,427.08 483.66,426.37 485.07,425.65 485.00,424.94 485.52,424.23 485.67,423.51 486.23,422.80 486.47,422.08 487.17,421.37 487.58,420.65 487.80,419.94 487.80,419.94" fill="#c8102e"/>
<polygon points="500.00,429.94 498.07,429.94 496.95,429.30 496.92,428.65 495.39,428.01 495.06,427.37 493.73,426.73 494.38,426.08 494.28,425.44 495.45,424.80 495.43,424.15 496.75,423.51 497.03,422.87 498.33,422.23 499.42,421.58 500.00,420.94 500.00,420.94" fill="#c8102e"/>
<polygon points="500.00,429.94 500.42,429.94 500.74,429.58 501.06,429.23 501.32,428.87 501.01,428.51 501.23,428.15 501.12,427.80 500.77,427.44 500.88,427.08 500.56,426.73 500.44,426.37 500.39,426.01 500.20,425.65 500.11,425.30 500.00,424.94 500.00,424.94" fill="#17508a"/>
<polygon points="512.00,429.94 510.25,429.94 509.67,429.19 509.29,428.44 508.07,427.69 508.86,426.94 507.20,426.19 508.24,425.44 507.86,424.69 506.02,423.94 506.70,423.19 508.17,422.44 509.16,421.69 509.34,420.94 510.99,420.19 512.00,419.44 512.00,419.44" fill="#c8102e"/>
<polygon points="512.00,429.94 513.92,429.94 514.95,429.19 514.72,428.44 516.04,427.69 516.08,426.94 516.24,426.19 516.77,425.44 517.65,424.69 517.12,423.94 517.13,423.19 516.03,422.44 516.30,421.69 514.58,420.94 513.17,420.19 512.00,419.44 512.00,419.44" fill="#17508a"/>
<line x1="444.20" y1="429.94" x2="516.70" y2="429.94" stroke="#1a1a1a" stroke-width="1.1"/>
<line x1="444.60" y1="432.32" x2="444.60" y2="443.12" stroke="#333" stroke-width="0.8"/>
<line x1="442.60" y1="443.12" x2="444.60" y2="443.12" stroke="#333" stroke-width="0.5"/>
<line x1="442.60" y1="440.52" x2="444.60" y2="440.52" stroke="#333" stroke-width="0.5"/>
<line x1="442.60" y1="437.92" x2="444.60" y2="437.92" stroke="#333" stroke-width="0.5"/>
<line x1="442.60" y1="435.32" x2="444.60" y2="435.32" stroke="#333" stroke-width="0.5"/>
<line x1="442.60" y1="432.72" x2="444.60" y2="432.72" stroke="#333" stroke-width="0.5"/>
<text x="439.30" y="440.63" font-size="8.4" text-anchor="end" fill="#1a1a1a" font-style="italic" textLength="22.18" lengthAdjust="spacingAndGlyphs" stroke="#1a1a1a" stroke-width="0.1">*Cd40</text>
<polygon points="452.30,443.12 451.25,443.12 450.68,442.62 449.74,442.12 449.63,441.62 449.26,441.12 449.20,440.62 449.06,440.12 449.68,439.62 450.27,439.12 450.63,438.62 450.85,438.12 451.34,437.62 451.44,437.12 452.00,436.62 452.30,436.12 452.30,436.12" fill="#c8102e"/>
<polygon points="463.80,443.12 462.93,443.12 462.25,442.62 462.36,442.12 461.62,441.62 460.95,441.12 461.17,440.62 461.43,440.12 461.54,439.62 462.11,439.12 462.32,438.62 462.62,438.12 462.85,437.62 463.22,437.12 463.50,436.62 463.80,436.12 463.80,436.12" fill="#c8102e"/>
<polygon points="475.80,443.12 475.45,443.12 475.30,442.76 475.09,442.41 474.96,442.05 474.95,441.69 474.90,441.33 474.96,440.98 474.93,440.62 475.19,440.26 475.03,439.91 475.32,439.55 475.36,439.19 475.56,438.83 475.70,438.48 475.80,438.12 475.80,438.12" fill="#c8102e"/>
<line x1="487.80" y1="443.12" x2="487.80" y2="433.12" stroke="#7c7c7c" stroke-width="0.8"/>
<polygon points="500.00,443.12 498.74,443.12 498.12,442.55 497.00,441.98 497.50,441.41 496.38,440.83 496.76,440.26 496.14,439.69 496.21,439.12 497.32,438.55 497.64,437.98 498.27,437.41 498.60,436.83 499.21,436.26 499.61,435.69 500.00,435.12 500.00,435.12" fill="#c8102e"/>
<polygon points="512.00,443.12 510.60,443.12 509.44,442.48 509.38,441.83 508.94,441.19 508.31,440.55 508.41,439.91 507.61,439.26 507.81,438.62 509.02,437.98 509.33,437.33 509.39,436.69 509.90,436.05 510.85,435.41 511.56,434.76 512.00,434.12 512.00,434.12" fill="#c8102e"/>
<polygon points="512.00,443.12 512.35,443.12 512.84,442.76 512.73,442.41 512.81,442.05 513.10,441.69 512.90,441.33 512.70,440.98 512.80,440.62 512.83,440.26 512.57,439.91 512.41,439.55 512.26,439.19 512.15,438.83 512.09,438.48 512.00,438.12 512.00,438.12" fill="#17508a"/>
<line x1="444.20" y1="443.12" x2="516.70" y2="443.12" stroke="#1a1a1a" stroke-width="1.1"/>
<line x1="444.60" y1="445.50" x2="444.60" y2="456.30" stroke="#333" stroke-width="0.8"/>
<line x1="442.60" y1="456.30" x2="444.60" y2="456.30" stroke="#333" stroke-width="0.5"/>
<line x1="442.60" y1="453.70" x2="444.60" y2="453.70" stroke="#333" stroke-width="0.5"/>
<line x1="442.60" y1="451.10" x2="444.60" y2="451.10" stroke="#333" stroke-width="0.5"/>
<line x1="442.60" y1="448.50" x2="444.60" y2="448.50" stroke="#333" stroke-width="0.5"/>
<line x1="442.60" y1="445.90" x2="444.60" y2="445.90" stroke="#333" stroke-width="0.5"/>
<text x="439.30" y="453.81" font-size="8.4" text-anchor="end" fill="#1a1a1a" font-style="italic" textLength="19.96" lengthAdjust="spacingAndGlyphs" stroke="#1a1a1a" stroke-width="0.1">Lmo2</text>
<polygon points="452.30,456.30 456.80,456.30 454.79,455.69 453.36,455.09 453.15,454.48 453.34,453.87 453.26,453.26 453.42,452.66 453.19,452.05 453.18,451.44 453.11,450.84 452.91,450.23 452.69,449.62 452.53,449.01 452.45,448.41 452.30,447.80 452.30,447.80" fill="#17508a"/>
<line x1="463.80" y1="456.30" x2="463.80" y2="449.30" stroke="#7c7c7c" stroke-width="0.8"/>
<polygon points="475.80,456.30 479.30,456.30 477.74,455.66 476.69,455.01 476.81,454.37 476.98,453.73 476.78,453.09 476.88,452.44 476.71,451.80 476.80,451.16 476.80,450.51 476.50,449.87 476.36,449.23 476.06,448.59 475.90,447.94 475.80,447.30 475.80,447.30" fill="#17508a"/>
<line x1="487.80" y1="456.30" x2="487.80" y2="446.30" stroke="#7c7c7c" stroke-width="0.8"/>
<polygon points="500.00,456.30 503.20,456.30 501.77,455.66 500.90,455.01 501.12,454.37 501.15,453.73 501.36,453.09 501.42,452.44 501.47,451.80 501.04,451.16 500.96,450.51 500.90,449.87 500.50,449.23 500.29,448.59 500.13,447.94 500.00,447.30 500.00,447.30" fill="#17508a"/>
<polygon points="512.00,456.30 515.20,456.30 513.77,455.59 513.57,454.87 513.90,454.16 513.74,453.44 513.74,452.73 513.80,452.01 514.03,451.30 513.87,450.59 514.08,449.87 513.90,449.16 513.24,448.44 512.71,447.73 512.41,447.01 512.00,446.30 512.00,446.30" fill="#17508a"/>
<line x1="444.20" y1="456.30" x2="516.70" y2="456.30" stroke="#1a1a1a" stroke-width="1.1"/>
<line x1="444.60" y1="458.68" x2="444.60" y2="469.48" stroke="#333" stroke-width="0.8"/>
<line x1="442.60" y1="469.48" x2="444.60" y2="469.48" stroke="#333" stroke-width="0.5"/>
<line x1="442.60" y1="466.88" x2="444.60" y2="466.88" stroke="#333" stroke-width="0.5"/>
<line x1="442.60" y1="464.28" x2="444.60" y2="464.28" stroke="#333" stroke-width="0.5"/>
<line x1="442.60" y1="461.68" x2="444.60" y2="461.68" stroke="#333" stroke-width="0.5"/>
<line x1="442.60" y1="459.08" x2="444.60" y2="459.08" stroke="#333" stroke-width="0.5"/>
<text x="439.30" y="466.99" font-size="8.4" text-anchor="end" fill="#1a1a1a" font-style="italic" textLength="11.53" lengthAdjust="spacingAndGlyphs" stroke="#1a1a1a" stroke-width="0.1">Irf4</text>
<line x1="452.30" y1="469.48" x2="452.30" y2="463.48" stroke="#7c7c7c" stroke-width="0.8"/>
<line x1="463.80" y1="469.48" x2="463.80" y2="462.98" stroke="#7c7c7c" stroke-width="0.8"/>
<line x1="475.80" y1="469.48" x2="475.80" y2="461.48" stroke="#7c7c7c" stroke-width="0.8"/>
<line x1="487.80" y1="469.48" x2="487.80" y2="459.48" stroke="#7c7c7c" stroke-width="0.8"/>
<polygon points="500.00,469.48 503.50,469.48 501.94,468.77 500.79,468.05 500.98,467.34 501.15,466.62 501.06,465.91 501.25,465.19 501.14,464.48 501.26,463.77 501.00,463.05 500.92,462.34 500.61,461.62 500.39,460.91 500.15,460.19 500.00,459.48 500.00,459.48" fill="#17508a"/>
<polygon points="512.00,469.48 515.80,469.48 514.10,468.77 513.80,468.05 514.01,467.34 514.57,466.62 514.59,465.91 514.72,465.19 514.32,464.48 514.95,463.77 514.30,463.05 513.74,462.34 513.27,461.62 512.85,460.91 512.38,460.19 512.00,459.48 512.00,459.48" fill="#17508a"/>
<line x1="444.20" y1="469.48" x2="516.70" y2="469.48" stroke="#1a1a1a" stroke-width="1.1"/>
<line x1="444.60" y1="471.86" x2="444.60" y2="482.66" stroke="#333" stroke-width="0.8"/>
<line x1="442.60" y1="482.66" x2="444.60" y2="482.66" stroke="#333" stroke-width="0.5"/>
<line x1="442.60" y1="480.06" x2="444.60" y2="480.06" stroke="#333" stroke-width="0.5"/>
<line x1="442.60" y1="477.46" x2="444.60" y2="477.46" stroke="#333" stroke-width="0.5"/>
<line x1="442.60" y1="474.86" x2="444.60" y2="474.86" stroke="#333" stroke-width="0.5"/>
<line x1="442.60" y1="472.26" x2="444.60" y2="472.26" stroke="#333" stroke-width="0.5"/>
<text x="439.30" y="480.17" font-size="8.4" text-anchor="end" fill="#1a1a1a" font-style="italic" textLength="21.74" lengthAdjust="spacingAndGlyphs" stroke="#1a1a1a" stroke-width="0.1">*Xbp1</text>
<polygon points="452.30,482.66 451.39,482.66 450.75,482.34 450.56,482.02 450.44,481.70 449.48,481.37 449.64,481.05 450.29,480.73 450.39,480.41 450.51,480.09 450.60,479.77 450.62,479.45 451.05,479.12 451.63,478.80 452.07,478.48 452.30,478.16 452.30,478.16" fill="#c8102e"/>
<polygon points="452.30,482.66 455.30,482.66 455.12,482.41 455.90,482.16 456.55,481.91 456.34,481.66 457.95,481.41 458.57,481.16 458.08,480.91 456.25,480.66 456.50,480.41 455.15,480.16 454.94,479.91 453.75,479.66 453.04,479.41 452.30,479.16 452.30,479.16" fill="#17508a"/>
<polygon points="463.80,482.66 462.89,482.66 462.30,482.23 462.37,481.80 461.91,481.37 461.04,480.95 461.33,480.52 461.28,480.09 461.30,479.66 461.12,479.23 461.28,478.80 462.05,478.37 462.27,477.95 462.99,477.52 463.53,477.09 463.80,476.66 463.80,476.66" fill="#c8102e"/>
<polygon points="475.80,482.66 474.82,482.66 474.22,481.98 474.09,481.30 474.10,480.62 472.89,479.95 473.72,479.27 472.95,478.59 473.02,477.91 472.64,477.23 473.47,476.55 474.02,475.87 474.43,475.20 474.98,474.52 475.39,473.84 475.80,473.16 475.80,473.16" fill="#c8102e"/>
<polygon points="475.80,482.66 479.80,482.66 478.01,482.02 478.10,481.37 477.99,480.73 478.35,480.09 478.29,479.45 479.12,478.80 478.75,478.16 478.46,477.52 477.86,476.87 477.29,476.23 476.75,475.59 476.58,474.95 476.08,474.30 475.80,473.66 475.80,473.66" fill="#17508a"/>
<polygon points="487.80,482.66 486.40,482.66 485.28,482.41 484.39,482.16 484.54,481.91 483.59,481.66 483.53,481.41 484.90,481.16 484.43,480.91 485.43,480.66 485.51,480.41 485.90,480.16 486.58,479.91 487.01,479.66 487.53,479.41 487.80,479.16 487.80,479.16" fill="#c8102e"/>
<polygon points="487.80,482.66 488.15,482.66 488.22,482.16 488.50,481.66 488.67,481.16 488.61,480.66 488.74,480.16 488.72,479.66 488.56,479.16 488.60,478.66 488.51,478.16 488.40,477.66 488.28,477.16 488.06,476.66 487.94,476.16 487.80,475.66 487.80,475.66" fill="#17508a"/>
<polygon points="500.00,482.66 498.88,482.66 498.14,482.23 497.49,481.80 497.25,481.37 496.92,480.95 496.86,480.52 496.39,480.09 497.03,479.66 496.92,479.23 497.20,478.80 497.86,478.37 498.59,477.95 499.22,477.52 499.67,477.09 500.00,476.66 500.00,476.66" fill="#c8102e"/>
<polygon points="500.00,482.66 503.00,482.66 501.66,482.45 501.45,482.23 501.67,482.02 501.61,481.80 501.29,481.59 501.56,481.37 501.06,481.16 501.12,480.95 500.69,480.73 500.73,480.52 500.50,480.30 500.34,480.09 500.14,479.87 500.00,479.66 500.00,479.66" fill="#17508a"/>
<polygon points="512.00,482.66 511.09,482.66 510.56,482.20 510.03,481.73 509.72,481.27 509.56,480.80 509.81,480.34 509.39,479.87 508.99,479.41 509.87,478.95 509.45,478.48 510.24,478.02 510.79,477.55 511.39,477.09 511.69,476.62 512.00,476.16 512.00,476.16" fill="#c8102e"/>
<line x1="444.20" y1="482.66" x2="516.70" y2="482.66" stroke="#1a1a1a" stroke-width="1.1"/>
<line x1="444.60" y1="485.04" x2="444.60" y2="495.84" stroke="#333" stroke-width="0.8"/>
<line x1="442.60" y1="495.84" x2="444.60" y2="495.84" stroke="#333" stroke-width="0.5"/>
<line x1="442.60" y1="493.24" x2="444.60" y2="493.24" stroke="#333" stroke-width="0.5"/>
<line x1="442.60" y1="490.64" x2="444.60" y2="490.64" stroke="#333" stroke-width="0.5"/>
<line x1="442.60" y1="488.04" x2="444.60" y2="488.04" stroke="#333" stroke-width="0.5"/>
<line x1="442.60" y1="485.44" x2="444.60" y2="485.44" stroke="#333" stroke-width="0.5"/>
<text x="439.30" y="493.35" font-size="8.4" text-anchor="end" fill="#1a1a1a" font-style="italic" textLength="18.19" lengthAdjust="spacingAndGlyphs" stroke="#1a1a1a" stroke-width="0.1">Pcna</text>
<polygon points="452.30,495.84 451.46,495.84 451.21,495.38 450.52,494.91 449.94,494.45 449.65,493.98 449.80,493.52 450.03,493.05 450.40,492.59 450.03,492.13 450.45,491.66 450.71,491.20 451.30,490.73 451.54,490.27 452.06,489.80 452.30,489.34 452.30,489.34" fill="#c8102e"/>
<polygon points="452.30,495.84 455.80,495.84 454.24,495.55 453.15,495.27 453.48,494.98 453.71,494.70 453.31,494.41 453.50,494.13 453.47,493.84 453.12,493.55 452.93,493.27 452.93,492.98 452.80,492.70 452.61,492.41 452.42,492.13 452.30,491.84 452.30,491.84" fill="#17508a"/>
<polygon points="463.80,495.84 462.75,495.84 462.32,495.38 461.88,494.91 461.39,494.45 460.63,493.98 461.15,493.52 461.09,493.05 460.70,492.59 460.46,492.13 461.70,491.66 462.22,491.20 462.59,490.73 462.87,490.27 463.41,489.80 463.80,489.34 463.80,489.34" fill="#c8102e"/>
<polygon points="463.80,495.84 468.30,495.84 466.29,495.55 465.42,495.27 465.88,494.98 465.89,494.70 465.84,494.41 465.72,494.13 465.07,493.84 465.16,493.55 465.10,493.27 464.86,492.98 464.37,492.70 464.23,492.41 463.96,492.13 463.80,491.84 463.80,491.84" fill="#17508a"/>
<line x1="475.80" y1="495.84" x2="475.80" y2="486.84" stroke="#7c7c7c" stroke-width="0.8"/>
<line x1="487.80" y1="495.84" x2="487.80" y2="486.84" stroke="#7c7c7c" stroke-width="0.8"/>
<line x1="500.00" y1="495.84" x2="500.00" y2="486.84" stroke="#7c7c7c" stroke-width="0.8"/>
<line x1="512.00" y1="495.84" x2="512.00" y2="486.84" stroke="#7c7c7c" stroke-width="0.8"/>
<line x1="444.20" y1="495.84" x2="516.70" y2="495.84" stroke="#1a1a1a" stroke-width="1.1"/>
<line x1="444.60" y1="498.22" x2="444.60" y2="509.02" stroke="#333" stroke-width="0.8"/>
<line x1="442.60" y1="509.02" x2="444.60" y2="509.02" stroke="#333" stroke-width="0.5"/>
<line x1="442.60" y1="506.42" x2="444.60" y2="506.42" stroke="#333" stroke-width="0.5"/>
<line x1="442.60" y1="503.82" x2="444.60" y2="503.82" stroke="#333" stroke-width="0.5"/>
<line x1="442.60" y1="501.22" x2="444.60" y2="501.22" stroke="#333" stroke-width="0.5"/>
<line x1="442.60" y1="498.62" x2="444.60" y2="498.62" stroke="#333" stroke-width="0.5"/>
<text x="439.30" y="506.53" font-size="8.4" text-anchor="end" fill="#1a1a1a" font-style="italic" textLength="24.39" lengthAdjust="spacingAndGlyphs" stroke="#1a1a1a" stroke-width="0.1">*Mki67</text>
<polygon points="452.30,509.02 450.55,509.02 449.65,508.41 449.91,507.81 448.87,507.20 448.18,506.59 448.38,505.98 448.76,505.38 448.35,504.77 448.25,504.16 448.26,503.56 448.07,502.95 447.22,502.34 449.30,501.73 450.42,501.13 452.30,500.52 452.30,500.52" fill="#c8102e"/>
<polygon points="452.30,509.02 454.40,509.02 455.26,508.41 456.00,507.81 456.60,507.20 457.00,506.59 457.94,505.98 458.48,505.38 458.08,504.77 459.20,504.16 457.17,503.56 457.24,502.95 456.99,502.34 456.09,501.73 454.21,501.13 452.30,500.52 452.30,500.52" fill="#17508a"/>
<polygon points="463.80,509.02 462.33,509.02 461.86,508.41 461.14,507.81 460.57,507.20 461.08,506.59 460.29,505.98 459.80,505.38 459.92,504.77 460.31,504.16 459.50,503.56 460.34,502.95 460.70,502.34 461.95,501.73 462.85,501.13 463.80,500.52 463.80,500.52" fill="#c8102e"/>
<polygon points="463.80,509.02 465.73,509.02 467.16,508.41 466.75,507.81 468.65,507.20 469.21,506.59 468.64,505.98 468.36,505.38 469.18,504.77 468.55,504.16 468.73,503.56 468.11,502.95 466.34,502.34 465.30,501.73 464.49,501.13 463.80,500.52 463.80,500.52" fill="#17508a"/>
<polygon points="475.80,509.02 474.54,509.02 473.87,508.41 473.24,507.81 472.99,507.20 472.99,506.59 472.67,505.98 471.72,505.38 472.17,504.77 473.01,504.16 472.77,503.56 473.49,502.95 473.71,502.34 474.81,501.73 475.34,501.13 475.80,500.52 475.80,500.52" fill="#c8102e"/>
<polygon points="475.80,509.02 480.30,509.02 478.29,508.59 478.15,508.16 479.21,507.73 478.85,507.31 478.62,506.88 479.18,506.45 477.95,506.02 477.97,505.59 478.02,505.16 477.00,504.73 477.03,504.31 476.43,503.88 476.02,503.45 475.80,503.02 475.80,503.02" fill="#17508a"/>
<polygon points="487.80,509.02 486.89,509.02 485.78,508.48 485.25,507.95 485.38,507.41 485.33,506.88 485.95,506.34 485.95,505.81 485.53,505.27 486.23,504.73 486.49,504.20 486.96,503.66 487.15,503.13 487.28,502.59 487.61,502.06 487.80,501.52 487.80,501.52" fill="#c8102e"/>
<polygon points="500.00,509.02 499.69,509.02 499.47,508.59 499.43,508.16 499.20,507.73 498.99,507.31 499.14,506.88 499.11,506.45 499.07,506.02 499.26,505.59 499.38,505.16 499.63,504.73 499.74,504.31 499.78,503.88 499.92,503.45 500.00,503.02 500.00,503.02" fill="#c8102e"/>
<line x1="512.00" y1="509.02" x2="512.00" y2="501.02" stroke="#7c7c7c" stroke-width="0.8"/>
<line x1="444.20" y1="509.02" x2="516.70" y2="509.02" stroke="#1a1a1a" stroke-width="1.1"/>
<line x1="444.60" y1="511.40" x2="444.60" y2="522.20" stroke="#333" stroke-width="0.8"/>
<line x1="442.60" y1="522.20" x2="444.60" y2="522.20" stroke="#333" stroke-width="0.5"/>
<line x1="442.60" y1="519.60" x2="444.60" y2="519.60" stroke="#333" stroke-width="0.5"/>
<line x1="442.60" y1="517.00" x2="444.60" y2="517.00" stroke="#333" stroke-width="0.5"/>
<line x1="442.60" y1="514.40" x2="444.60" y2="514.40" stroke="#333" stroke-width="0.5"/>
<line x1="442.60" y1="511.80" x2="444.60" y2="511.80" stroke="#333" stroke-width="0.5"/>
<text x="439.30" y="519.71" font-size="8.4" text-anchor="end" fill="#1a1a1a" font-style="italic" textLength="21.73" lengthAdjust="spacingAndGlyphs" stroke="#1a1a1a" stroke-width="0.1">*Cdk1</text>
<polygon points="452.30,522.20 450.69,522.20 449.85,521.56 449.35,520.91 448.72,520.27 449.04,519.63 447.66,518.99 447.73,518.34 447.21,517.70 448.49,517.06 447.14,516.41 447.94,515.77 447.68,515.13 449.13,514.49 451.30,513.84 452.30,513.20 452.30,513.20" fill="#c8102e"/>
<polygon points="452.30,522.20 454.26,522.20 454.97,521.56 455.48,520.91 456.47,520.27 456.65,519.63 457.92,518.99 456.90,518.34 457.08,517.70 457.62,517.06 456.27,516.41 456.15,515.77 455.86,515.13 454.51,514.49 452.99,513.84 452.30,513.20 452.30,513.20" fill="#17508a"/>
<polygon points="463.80,522.20 462.54,522.20 462.46,521.66 461.38,521.13 460.79,520.59 460.82,520.06 461.16,519.52 460.82,518.99 459.63,518.45 459.51,517.91 461.00,517.38 461.09,516.84 461.42,516.31 462.38,515.77 463.05,515.24 463.80,514.70 463.80,514.70" fill="#c8102e"/>
<polygon points="463.80,522.20 467.80,522.20 466.35,521.66 467.88,521.13 467.44,520.59 468.43,520.06 469.30,519.52 468.54,518.99 467.09,518.45 466.75,517.91 466.98,517.38 466.03,516.84 465.39,516.31 464.82,515.77 464.24,515.24 463.80,514.70 463.80,514.70" fill="#17508a"/>
<line x1="475.80" y1="522.20" x2="475.80" y2="513.20" stroke="#7c7c7c" stroke-width="0.8"/>
<line x1="487.80" y1="522.20" x2="487.80" y2="513.20" stroke="#7c7c7c" stroke-width="0.8"/>
<line x1="500.00" y1="522.20" x2="500.00" y2="513.20" stroke="#7c7c7c" stroke-width="0.8"/>
<line x1="512.00" y1="522.20" x2="512.00" y2="514.20" stroke="#7c7c7c" stroke-width="0.8"/>
<line x1="444.20" y1="522.20" x2="516.70" y2="522.20" stroke="#1a1a1a" stroke-width="1.1"/>
<line x1="444.60" y1="524.58" x2="444.60" y2="535.38" stroke="#333" stroke-width="0.8"/>
<line x1="442.60" y1="535.38" x2="444.60" y2="535.38" stroke="#333" stroke-width="0.5"/>
<line x1="442.60" y1="532.78" x2="444.60" y2="532.78" stroke="#333" stroke-width="0.5"/>
<line x1="442.60" y1="530.18" x2="444.60" y2="530.18" stroke="#333" stroke-width="0.5"/>
<line x1="442.60" y1="527.58" x2="444.60" y2="527.58" stroke="#333" stroke-width="0.5"/>
<line x1="442.60" y1="524.98" x2="444.60" y2="524.98" stroke="#333" stroke-width="0.5"/>
<text x="439.30" y="532.89" font-size="8.4" text-anchor="end" fill="#1a1a1a" font-style="italic" textLength="26.17" lengthAdjust="spacingAndGlyphs" stroke="#1a1a1a" stroke-width="0.1">*Cdc20</text>
<polygon points="452.30,535.38 451.11,535.38 450.03,534.63 450.07,533.88 449.21,533.13 449.34,532.38 448.83,531.63 448.64,530.88 449.69,530.13 449.53,529.38 449.71,528.63 450.82,527.88 450.77,527.13 451.50,526.38 451.96,525.63 452.30,524.88 452.30,524.88" fill="#c8102e"/>
<polygon points="452.30,535.38 456.30,535.38 454.51,534.67 454.97,533.95 454.57,533.24 455.41,532.52 454.85,531.81 455.27,531.09 455.03,530.38 454.38,529.67 454.34,528.95 454.04,528.24 453.67,527.52 453.23,526.81 452.61,526.09 452.30,525.38 452.30,525.38" fill="#17508a"/>
<polygon points="463.80,535.38 463.45,535.38 463.20,535.06 462.93,534.74 462.68,534.42 462.60,534.09 462.60,533.77 462.94,533.45 463.05,533.13 462.88,532.81 463.27,532.49 463.30,532.17 463.39,531.84 463.57,531.52 463.71,531.20 463.80,530.88 463.80,530.88" fill="#c8102e"/>
<polygon points="475.80,535.38 475.38,535.38 474.96,534.70 474.93,534.02 474.65,533.34 474.43,532.67 474.80,531.99 474.74,531.31 474.75,530.63 474.85,529.95 475.12,529.27 475.20,528.59 475.44,527.92 475.58,527.24 475.70,526.56 475.80,525.88 475.80,525.88" fill="#c8102e"/>
<line x1="487.80" y1="535.38" x2="487.80" y2="526.38" stroke="#7c7c7c" stroke-width="0.8"/>
<line x1="500.00" y1="535.38" x2="500.00" y2="526.38" stroke="#7c7c7c" stroke-width="0.8"/>
<line x1="512.00" y1="535.38" x2="512.00" y2="527.38" stroke="#7c7c7c" stroke-width="0.8"/>
<line x1="444.20" y1="535.38" x2="516.70" y2="535.38" stroke="#1a1a1a" stroke-width="1.1"/>
<line x1="452.20" y1="535.38" x2="452.20" y2="537.68" stroke="#222" stroke-width="0.8"/>
<line x1="463.70" y1="535.38" x2="463.70" y2="537.68" stroke="#222" stroke-width="0.8"/>
<line x1="475.30" y1="535.38" x2="475.30" y2="537.68" stroke="#222" stroke-width="0.8"/>
<line x1="487.10" y1="535.38" x2="487.10" y2="537.68" stroke="#222" stroke-width="0.8"/>
<line x1="500.10" y1="535.38" x2="500.10" y2="537.68" stroke="#222" stroke-width="0.8"/>
<line x1="511.70" y1="535.38" x2="511.70" y2="537.68" stroke="#222" stroke-width="0.8"/>
<circle cx="452.20" cy="543.50" r="2.30" fill="#d9a27a"/>
<circle cx="462.00" cy="543.50" r="2.30" fill="#7ed3cf"/>
<circle cx="471.90" cy="543.50" r="2.30" fill="#cbcad8"/>
<circle cx="481.90" cy="543.50" r="2.30" fill="#ccd0bc"/>
<circle cx="491.80" cy="543.50" r="2.30" fill="#94cf86"/>
<circle cx="501.50" cy="543.50" r="2.30" fill="#8f8de0"/>
<circle cx="511.70" cy="543.50" r="2.30" fill="#9a4fd0"/>
<text x="455.60" y="552.00" font-size="7.6" text-anchor="end" fill="#333" textLength="20.28" lengthAdjust="spacingAndGlyphs" stroke="#333" stroke-width="0.1" transform="rotate(-45 455.60 552.00)">GCB1</text>
<text x="468.06" y="552.00" font-size="7.6" text-anchor="end" fill="#333" textLength="20.28" lengthAdjust="spacingAndGlyphs" stroke="#333" stroke-width="0.1" transform="rotate(-45 468.06 552.00)">GCB2</text>
<text x="480.52" y="552.00" font-size="7.6" text-anchor="end" fill="#333" textLength="20.28" lengthAdjust="spacingAndGlyphs" stroke="#333" stroke-width="0.1" transform="rotate(-45 480.52 552.00)">GCB3</text>
<text x="492.98" y="552.00" font-size="7.6" text-anchor="end" fill="#333" textLength="20.28" lengthAdjust="spacingAndGlyphs" stroke="#333" stroke-width="0.1" transform="rotate(-45 492.98 552.00)">GCB4</text>
<text x="505.44" y="552.00" font-size="7.6" text-anchor="end" fill="#333" textLength="20.28" lengthAdjust="spacingAndGlyphs" stroke="#333" stroke-width="0.1" transform="rotate(-45 505.44 552.00)">GCB5</text>
<text x="517.90" y="552.00" font-size="7.6" text-anchor="end" fill="#333" textLength="20.28" lengthAdjust="spacingAndGlyphs" stroke="#333" stroke-width="0.1" transform="rotate(-45 517.90 552.00)">GCB6</text>
<text x="0.60" y="598.80" font-size="11.2" fill="#000" font-weight="bold">M</text>
<text x="25.00" y="602.35" font-size="8.8" fill="#1a1a1a" font-style="italic" textLength="30.80" lengthAdjust="spacingAndGlyphs">*Cxcr4</text>
<text x="72.00" y="602.35" font-size="8.8" fill="#1a1a1a" font-style="italic" textLength="24.20" lengthAdjust="spacingAndGlyphs">Aicda</text>
<text x="109.50" y="602.35" font-size="8.8" fill="#1a1a1a" font-style="italic" textLength="27.00" lengthAdjust="spacingAndGlyphs">Foxp1</text>
<text x="147.50" y="602.35" font-size="8.8" fill="#1a1a1a" font-style="italic" textLength="27.50" lengthAdjust="spacingAndGlyphs">*Cd83</text>
<text x="187.00" y="602.35" font-size="8.8" fill="#1a1a1a" font-style="italic" textLength="28.00" lengthAdjust="spacingAndGlyphs">*Cd40</text>
<text x="227.00" y="602.35" font-size="8.8" fill="#1a1a1a" font-style="italic" textLength="24.25" lengthAdjust="spacingAndGlyphs">Lmo2</text>
<text x="272.00" y="602.35" font-size="8.8" fill="#1a1a1a" font-style="italic" textLength="14.25" lengthAdjust="spacingAndGlyphs">Irf4</text>
<text x="306.25" y="602.35" font-size="8.8" fill="#1a1a1a" font-style="italic" textLength="26.25" lengthAdjust="spacingAndGlyphs">*Xbp1</text>
<text x="348.75" y="602.35" font-size="8.8" fill="#1a1a1a" font-style="italic" textLength="23.75" lengthAdjust="spacingAndGlyphs">*Pcna</text>
<text x="382.70" y="602.35" font-size="8.8" fill="#1a1a1a" font-style="italic" textLength="31.00" lengthAdjust="spacingAndGlyphs">*Mki67</text>
<text x="424.40" y="602.35" font-size="8.8" fill="#1a1a1a" font-style="italic" textLength="26.10" lengthAdjust="spacingAndGlyphs">*Cdk1</text>
<text x="460.80" y="602.35" font-size="8.8" fill="#1a1a1a" font-style="italic" textLength="31.70" lengthAdjust="spacingAndGlyphs">*Cdc20</text>
<defs><g id="ctr" fill="none" stroke-width="0.3"><circle cx="-14.8" cy="-4.9" r="0.65"/><circle cx="-14.4" cy="-5.0" r="0.65"/><circle cx="2.7" cy="1.6" r="0.65"/><circle cx="3.0" cy="-15.7" r="0.65"/><circle cx="10.0" cy="-3.2" r="0.65"/><circle cx="13.4" cy="-4.8" r="0.65"/><circle cx="-8.5" cy="-15.2" r="0.65"/><circle cx="11.1" cy="-6.2" r="0.65"/><circle cx="3.6" cy="2.1" r="0.65"/><circle cx="-14.8" cy="-4.2" r="0.65"/><circle cx="-14.1" cy="-9.0" r="0.65"/><circle cx="-8.2" cy="-14.9" r="0.65"/><circle cx="13.2" cy="-7.2" r="0.65"/><circle cx="-4.5" cy="-15.6" r="0.65"/><circle cx="-2.6" cy="2.9" r="0.65"/><circle cx="-10.6" cy="-2.2" r="0.65"/><circle cx="11.1" cy="-9.5" r="0.65"/><circle cx="3.0" cy="1.7" r="0.65"/><circle cx="11.1" cy="-8.0" r="0.65"/><circle cx="-9.5" cy="-14.6" r="0.65"/><circle cx="8.5" cy="-0.0" r="0.65"/><circle cx="0.1" cy="-16.0" r="0.65"/><circle cx="10.6" cy="-0.8" r="0.65"/><circle cx="3.6" cy="1.2" r="0.65"/><circle cx="3.5" cy="1.4" r="0.65"/><circle cx="-8.0" cy="-13.8" r="0.65"/><circle cx="1.6" cy="4.6" r="0.65"/><circle cx="2.5" cy="-14.2" r="0.65"/><circle cx="0.7" cy="3.3" r="0.65"/><circle cx="-6.7" cy="-12.8" r="0.65"/><circle cx="1.8" cy="3.8" r="0.65"/><circle cx="-7.1" cy="1.7" r="0.65"/><circle cx="9.0" cy="-2.2" r="0.65"/><circle cx="-11.7" cy="-11.9" r="0.65"/><circle cx="9.9" cy="-9.3" r="0.65"/><circle cx="7.6" cy="-13.6" r="0.65"/><circle cx="9.8" cy="-12.8" r="0.65"/><circle cx="3.5" cy="-0.3" r="0.65"/><circle cx="4.9" cy="1.4" r="0.65"/><circle cx="-11.3" cy="-12.6" r="0.65"/><circle cx="11.8" cy="-4.9" r="0.65"/><circle cx="-4.6" cy="-14.4" r="0.65"/><circle cx="-11.4" cy="-11.9" r="0.65"/><circle cx="-2.7" cy="-16.1" r="0.65"/><circle cx="-11.9" cy="-11.5" r="0.65"/><circle cx="-2.8" cy="2.0" r="0.65"/><circle cx="11.3" cy="-5.0" r="0.65"/><circle cx="11.0" cy="-2.7" r="0.65"/><circle cx="-11.7" cy="-10.5" r="0.65"/><circle cx="10.0" cy="-13.2" r="0.65"/><circle cx="-5.9" cy="-16.1" r="0.65"/><circle cx="13.2" cy="-4.7" r="0.65"/><circle cx="-4.6" cy="-16.1" r="0.65"/><circle cx="-10.6" cy="-14.0" r="0.65"/><circle cx="-5.9" cy="1.6" r="0.65"/><circle cx="-13.1" cy="-11.6" r="0.65"/><circle cx="-2.5" cy="-18.0" r="0.65"/><circle cx="8.9" cy="-10.7" r="0.65"/><circle cx="9.8" cy="-13.2" r="0.65"/><circle cx="2.9" cy="-17.1" r="0.65"/><circle cx="-10.7" cy="-12.9" r="0.65"/><circle cx="-9.6" cy="-12.4" r="0.65"/><circle cx="12.5" cy="-8.4" r="0.65"/><circle cx="-10.7" cy="-2.1" r="0.65"/><circle cx="-12.4" cy="-3.9" r="0.65"/><circle cx="0.2" cy="-16.3" r="0.65"/><circle cx="-13.2" cy="-4.5" r="0.65"/><circle cx="-15.0" cy="-8.2" r="0.65"/><circle cx="-0.7" cy="2.5" r="0.65"/><circle cx="-6.3" cy="-15.0" r="0.65"/><circle cx="0.8" cy="-12.1" r="0.65"/><circle cx="0.5" cy="-11.0" r="0.65"/><circle cx="-2.4" cy="-4.3" r="0.65"/><circle cx="1.7" cy="-11.7" r="0.65"/><circle cx="-7.5" cy="-10.9" r="0.65"/><circle cx="-7.4" cy="-9.9" r="0.65"/><circle cx="-3.7" cy="-13.5" r="0.65"/><circle cx="-1.0" cy="-4.9" r="0.65"/><circle cx="-2.6" cy="-4.2" r="0.65"/><circle cx="-8.5" cy="-7.8" r="0.65"/><circle cx="1.7" cy="-9.4" r="0.65"/><circle cx="2.0" cy="-8.2" r="0.65"/><circle cx="-4.8" cy="-13.6" r="0.65"/><circle cx="-1.4" cy="-13.3" r="0.65"/><circle cx="-6.7" cy="-7.6" r="0.65"/><circle cx="-2.5" cy="-4.4" r="0.65"/><circle cx="-7.2" cy="-12.0" r="0.65"/><circle cx="-5.3" cy="-14.1" r="0.65"/><circle cx="-4.8" cy="-12.5" r="0.65"/><circle cx="-0.2" cy="-4.9" r="0.65"/><circle cx="-3.9" cy="-13.0" r="0.65"/><circle cx="-6.1" cy="-6.0" r="0.65"/><circle cx="-6.7" cy="-12.6" r="0.65"/><circle cx="-1.5" cy="-13.5" r="0.65"/><circle cx="1.5" cy="-11.2" r="0.65"/><circle cx="-8.7" cy="-8.6" r="0.65"/><circle cx="-7.7" cy="-6.4" r="0.65"/><circle cx="-0.9" cy="-13.5" r="0.65"/><circle cx="3.9" cy="-6.3" r="0.65"/><circle cx="7.1" cy="-8.4" r="0.65"/><circle cx="8.3" cy="-1.1" r="0.65"/><circle cx="8.9" cy="-4.8" r="0.65"/><circle cx="5.3" cy="-1.0" r="0.65"/><circle cx="4.2" cy="-0.4" r="0.65"/><circle cx="2.3" cy="-5.9" r="0.65"/><circle cx="10.0" cy="-3.5" r="0.65"/><circle cx="7.5" cy="-7.3" r="0.65"/><circle cx="7.2" cy="-7.6" r="0.65"/><circle cx="1.8" cy="-5.5" r="0.65"/><circle cx="5.2" cy="-7.9" r="0.65"/><circle cx="10.2" cy="-5.0" r="0.65"/><circle cx="1.8" cy="-3.7" r="0.65"/><circle cx="2.3" cy="-7.2" r="0.65"/><circle cx="2.1" cy="-4.9" r="0.65"/><circle cx="8.6" cy="-7.5" r="0.65"/><circle cx="9.1" cy="-7.4" r="0.65"/><circle cx="2.6" cy="-5.1" r="0.65"/><circle cx="1.9" cy="-4.2" r="0.65"/><circle cx="9.9" cy="3.7" r="0.65"/><circle cx="8.4" cy="2.4" r="0.65"/><circle cx="9.1" cy="2.5" r="0.65"/><circle cx="7.5" cy="-0.0" r="0.65"/><circle cx="4.0" cy="-0.3" r="0.65"/><circle cx="6.6" cy="-1.0" r="0.65"/><circle cx="6.1" cy="1.3" r="0.65"/><circle cx="7.9" cy="1.5" r="0.65"/><circle cx="9.5" cy="2.8" r="0.65"/><circle cx="3.8" cy="-1.3" r="0.65"/><circle cx="4.9" cy="-0.1" r="0.65"/><circle cx="9.3" cy="3.1" r="0.65"/><circle cx="4.6" cy="0.4" r="0.65"/><circle cx="5.3" cy="1.2" r="0.65"/><circle cx="7.1" cy="1.6" r="0.65"/><circle cx="7.0" cy="1.0" r="0.65"/><circle cx="8.5" cy="2.1" r="0.65"/><circle cx="4.0" cy="-2.1" r="0.65"/><circle cx="-3.1" cy="13.8" r="0.65"/><circle cx="-2.0" cy="16.5" r="0.65"/><circle cx="-2.5" cy="13.5" r="0.65"/><circle cx="-4.2" cy="11.9" r="0.65"/><circle cx="-4.7" cy="13.2" r="0.65"/><circle cx="-10.1" cy="6.9" r="0.65"/><circle cx="-9.4" cy="6.5" r="0.65"/><circle cx="-2.3" cy="13.1" r="0.65"/><circle cx="-5.9" cy="8.5" r="0.65"/><circle cx="-4.4" cy="11.5" r="0.65"/><circle cx="-8.0" cy="6.2" r="0.65"/><circle cx="-6.3" cy="9.4" r="0.65"/><circle cx="-8.0" cy="8.3" r="0.65"/><circle cx="-1.7" cy="13.7" r="0.65"/><circle cx="-8.5" cy="5.3" r="0.65"/><circle cx="-4.4" cy="12.8" r="0.65"/><circle cx="-7.0" cy="10.2" r="0.65"/><circle cx="-10.4" cy="3.5" r="0.65"/><circle cx="-10.0" cy="7.1" r="0.65"/><circle cx="-6.6" cy="9.2" r="0.65"/><circle cx="0.8" cy="12.3" r="0.65"/><circle cx="0.4" cy="12.9" r="0.65"/><circle cx="-1.1" cy="13.6" r="0.65"/><circle cx="0.5" cy="11.9" r="0.65"/><circle cx="-1.3" cy="9.4" r="0.65"/><circle cx="1.0" cy="13.5" r="0.65"/><circle cx="2.3" cy="14.3" r="0.65"/><circle cx="0.7" cy="13.3" r="0.65"/><circle cx="1.0" cy="14.1" r="0.65"/><circle cx="-0.4" cy="11.8" r="0.65"/><circle cx="-0.6" cy="12.7" r="0.65"/><circle cx="1.3" cy="14.9" r="0.65"/><circle cx="-0.9" cy="12.9" r="0.65"/><circle cx="-0.5" cy="11.1" r="0.65"/><circle cx="0.4" cy="11.4" r="0.65"/><circle cx="-4.8" cy="7.3" r="0.65"/><circle cx="4.3" cy="8.7" r="0.65"/><circle cx="3.9" cy="8.2" r="0.65"/><circle cx="5.3" cy="7.9" r="0.65"/><circle cx="7.1" cy="10.9" r="0.65"/><circle cx="8.0" cy="14.8" r="0.65"/><circle cx="2.4" cy="6.0" r="0.65"/><circle cx="3.7" cy="6.3" r="0.65"/><circle cx="6.3" cy="11.5" r="0.65"/><circle cx="8.5" cy="12.8" r="0.65"/><circle cx="4.5" cy="10.0" r="0.65"/><circle cx="4.9" cy="10.8" r="0.65"/><circle cx="6.1" cy="12.8" r="0.65"/><circle cx="5.4" cy="9.0" r="0.65"/><circle cx="4.0" cy="7.5" r="0.65"/><circle cx="6.4" cy="9.1" r="0.65"/><circle cx="5.2" cy="6.4" r="0.65"/><circle cx="4.1" cy="6.3" r="0.65"/><circle cx="6.5" cy="10.7" r="0.65"/><circle cx="0.1" cy="14.0" r="0.65"/><circle cx="5.1" cy="-1.0" r="0.65"/><circle cx="2.1" cy="-12.3" r="0.65"/><circle cx="2.6" cy="-1.4" r="0.65"/><circle cx="0.2" cy="-12.0" r="0.65"/><circle cx="-1.9" cy="5.4" r="0.65"/><circle cx="-1.6" cy="-7.6" r="0.65"/><circle cx="1.6" cy="-2.6" r="0.65"/><circle cx="6.4" cy="1.0" r="0.65"/><circle cx="5.4" cy="-8.4" r="0.65"/><circle cx="6.6" cy="4.0" r="0.65"/><circle cx="-4.0" cy="-7.3" r="0.65"/><circle cx="4.1" cy="2.1" r="0.65"/><circle cx="1.8" cy="4.3" r="0.65"/><circle cx="5.8" cy="-9.9" r="0.65"/><circle cx="-6.8" cy="15.4" r="0.65"/><circle cx="9.9" cy="12.1" r="0.65"/><circle cx="-6.2" cy="-2.4" r="0.65"/><circle cx="2.6" cy="-12.7" r="0.65"/><circle cx="0.5" cy="-13.7" r="0.65"/><circle cx="0.8" cy="4.2" r="0.65"/><circle cx="-3.7" cy="-0.7" r="0.65"/><circle cx="-7.7" cy="-5.0" r="0.65"/><circle cx="5.6" cy="10.8" r="0.65"/><circle cx="7.2" cy="4.0" r="0.65"/></g><g id="cwt" fill="none" stroke-width="0.3"><circle cx="6.8" cy="28.6" r="0.65"/><circle cx="-2.5" cy="29.1" r="0.65"/><circle cx="7.9" cy="30.4" r="0.65"/><circle cx="3.6" cy="37.9" r="0.65"/><circle cx="-5.2" cy="32.6" r="0.65"/><circle cx="6.1" cy="37.0" r="0.65"/><circle cx="-2.5" cy="30.4" r="0.65"/><circle cx="-11.4" cy="36.5" r="0.65"/><circle cx="-11.9" cy="27.0" r="0.65"/><circle cx="1.2" cy="31.8" r="0.65"/><circle cx="4.5" cy="29.6" r="0.65"/><circle cx="6.9" cy="26.9" r="0.65"/><circle cx="-8.2" cy="33.9" r="0.65"/><circle cx="-11.8" cy="29.6" r="0.65"/><circle cx="5.6" cy="34.3" r="0.65"/><circle cx="-6.4" cy="27.7" r="0.65"/><circle cx="-4.3" cy="34.7" r="0.65"/><circle cx="-4.1" cy="27.4" r="0.65"/><circle cx="5.2" cy="32.8" r="0.65"/><circle cx="10.8" cy="37.3" r="0.65"/><circle cx="10.7" cy="31.3" r="0.65"/><circle cx="7.7" cy="29.7" r="0.65"/><circle cx="-5.4" cy="30.8" r="0.65"/><circle cx="11.2" cy="36.7" r="0.65"/><circle cx="-7.3" cy="30.3" r="0.65"/><circle cx="-4.1" cy="30.4" r="0.65"/><circle cx="-3.3" cy="30.7" r="0.65"/><circle cx="-8.7" cy="32.8" r="0.65"/><circle cx="8.3" cy="53.3" r="0.65"/><circle cx="9.1" cy="53.7" r="0.65"/><circle cx="-2.8" cy="56.5" r="0.65"/><circle cx="9.9" cy="49.6" r="0.65"/><circle cx="-5.6" cy="53.0" r="0.65"/><circle cx="3.8" cy="53.7" r="0.65"/><circle cx="8.5" cy="46.4" r="0.65"/><circle cx="3.8" cy="56.9" r="0.65"/><circle cx="7.3" cy="58.5" r="0.65"/><circle cx="-4.5" cy="54.7" r="0.65"/><circle cx="-3.4" cy="56.3" r="0.65"/><circle cx="5.7" cy="49.1" r="0.65"/><circle cx="-2.0" cy="56.6" r="0.65"/><circle cx="3.4" cy="56.6" r="0.65"/><circle cx="1.1" cy="50.4" r="0.65"/><circle cx="2.9" cy="53.3" r="0.65"/><circle cx="7.0" cy="55.8" r="0.65"/><circle cx="10.5" cy="51.5" r="0.65"/><circle cx="8.9" cy="55.2" r="0.65"/><circle cx="3.4" cy="55.8" r="0.65"/><circle cx="8.4" cy="51.6" r="0.65"/><circle cx="1.6" cy="47.6" r="0.65"/><circle cx="0.8" cy="47.9" r="0.65"/><circle cx="-2.3" cy="51.7" r="0.65"/><circle cx="-0.7" cy="59.6" r="0.65"/><circle cx="-4.9" cy="50.0" r="0.65"/><circle cx="-3.9" cy="54.9" r="0.65"/><circle cx="8.0" cy="48.1" r="0.65"/><circle cx="-4.9" cy="52.2" r="0.65"/><circle cx="4.5" cy="58.7" r="0.65"/><circle cx="-5.3" cy="47.1" r="0.65"/><circle cx="-2.7" cy="48.7" r="0.65"/><circle cx="-1.8" cy="55.9" r="0.65"/><circle cx="4.7" cy="48.7" r="0.65"/><circle cx="-2.7" cy="49.6" r="0.65"/><circle cx="-2.9" cy="56.5" r="0.65"/><circle cx="-0.4" cy="53.4" r="0.65"/><circle cx="8.7" cy="52.5" r="0.65"/><circle cx="-1.3" cy="58.4" r="0.65"/><circle cx="10.5" cy="50.5" r="0.65"/><circle cx="3.9" cy="59.4" r="0.65"/><circle cx="2.7" cy="48.7" r="0.65"/><circle cx="8.4" cy="51.1" r="0.65"/><circle cx="3.5" cy="53.0" r="0.65"/><circle cx="-1.1" cy="59.9" r="0.65"/><circle cx="5.8" cy="48.9" r="0.65"/><circle cx="-5.8" cy="52.4" r="0.65"/><circle cx="0.7" cy="57.1" r="0.65"/><circle cx="6.8" cy="54.3" r="0.65"/><circle cx="-3.2" cy="47.8" r="0.65"/><circle cx="-0.2" cy="49.3" r="0.65"/><circle cx="9.6" cy="53.0" r="0.65"/><circle cx="5.5" cy="59.9" r="0.65"/><circle cx="-1.2" cy="53.3" r="0.65"/><circle cx="-3.3" cy="56.7" r="0.65"/><circle cx="-4.5" cy="49.4" r="0.65"/><circle cx="6.9" cy="46.9" r="0.65"/><circle cx="2.6" cy="52.3" r="0.65"/><circle cx="9.4" cy="49.9" r="0.65"/><circle cx="8.2" cy="51.5" r="0.65"/><circle cx="10.5" cy="46.8" r="0.65"/><circle cx="8.9" cy="48.5" r="0.65"/><circle cx="3.8" cy="53.1" r="0.65"/><circle cx="-3.2" cy="57.6" r="0.65"/><circle cx="-0.4" cy="50.0" r="0.65"/><circle cx="-4.6" cy="49.9" r="0.65"/><circle cx="2.4" cy="55.9" r="0.65"/><circle cx="0.5" cy="55.5" r="0.65"/><circle cx="-4.1" cy="51.2" r="0.65"/><circle cx="2.3" cy="59.5" r="0.65"/><circle cx="8.9" cy="55.0" r="0.65"/><circle cx="-5.8" cy="51.0" r="0.65"/></g></defs>
<use href="#ctr" transform="translate(44.70 625)" stroke="#c4bcc0"/>
<use href="#cwt" transform="translate(44.70 625)" stroke="#cfcfd2"/>
<g fill="none" stroke="#e4a0a0" stroke-width="0.35"><circle cx="29.9" cy="620.1" r="0.65"/><circle cx="48.3" cy="627.1" r="0.65"/><circle cx="30.6" cy="616.0" r="0.65"/><circle cx="47.7" cy="626.7" r="0.65"/><circle cx="55.8" cy="617.0" r="0.65"/><circle cx="47.2" cy="610.8" r="0.65"/><circle cx="38.0" cy="612.2" r="0.65"/><circle cx="54.6" cy="615.7" r="0.65"/><circle cx="40.1" cy="610.6" r="0.65"/><circle cx="29.7" cy="616.8" r="0.65"/><circle cx="45.5" cy="612.9" r="0.65"/><circle cx="46.4" cy="613.3" r="0.65"/><circle cx="37.2" cy="614.1" r="0.65"/><circle cx="43.3" cy="611.7" r="0.65"/><circle cx="38.0" cy="617.4" r="0.65"/><circle cx="42.2" cy="620.6" r="0.65"/><circle cx="48.6" cy="618.7" r="0.65"/><circle cx="53.6" cy="620.2" r="0.65"/><circle cx="50.0" cy="624.0" r="0.65"/><circle cx="47.0" cy="619.1" r="0.65"/><circle cx="54.7" cy="621.5" r="0.65"/><circle cx="51.9" cy="617.4" r="0.65"/><circle cx="46.5" cy="619.5" r="0.65"/><circle cx="53.8" cy="617.6" r="0.65"/><circle cx="48.5" cy="623.7" r="0.65"/><circle cx="47.3" cy="623.6" r="0.65"/><circle cx="43.1" cy="617.4" r="0.65"/><circle cx="40.7" cy="617.7" r="0.65"/><circle cx="50.5" cy="615.1" r="0.65"/><circle cx="37.0" cy="620.0" r="0.65"/></g>
<g fill="none" stroke="#e8a8a8" stroke-width="0.35"><circle cx="51.6" cy="651.9" r="0.65"/><circle cx="55.4" cy="656.3" r="0.65"/><circle cx="47.6" cy="678.3" r="0.65"/><circle cx="42.4" cy="676.7" r="0.65"/><circle cx="41.8" cy="681.5" r="0.65"/><circle cx="51.5" cy="679.3" r="0.65"/></g>
<line x1="32.70" y1="636.00" x2="35.20" y2="635.00" stroke="#999" stroke-width="0.9"/>
<line x1="32.20" y1="670.00" x2="35.20" y2="669.50" stroke="#999" stroke-width="0.9"/>
<use href="#ctr" transform="translate(84.17 625)" stroke="#c4bcc0"/>
<use href="#cwt" transform="translate(84.17 625)" stroke="#cfcfd2"/>
<g fill="none" stroke="#e4a0a0" stroke-width="0.35"><circle cx="69.8" cy="620.0" r="0.65"/><circle cx="97.4" cy="617.8" r="0.65"/><circle cx="79.6" cy="609.4" r="0.65"/><circle cx="81.5" cy="627.9" r="0.65"/><circle cx="87.7" cy="626.4" r="0.65"/><circle cx="94.1" cy="615.7" r="0.65"/><circle cx="89.1" cy="626.4" r="0.65"/><circle cx="95.9" cy="620.1" r="0.65"/><circle cx="72.7" cy="613.1" r="0.65"/><circle cx="81.4" cy="608.9" r="0.65"/><circle cx="72.3" cy="613.5" r="0.65"/><circle cx="81.3" cy="627.0" r="0.65"/><circle cx="95.5" cy="620.0" r="0.65"/><circle cx="94.0" cy="611.8" r="0.65"/><circle cx="87.1" cy="607.9" r="0.65"/><circle cx="73.4" cy="612.1" r="0.65"/><circle cx="84.4" cy="608.7" r="0.65"/><circle cx="85.0" cy="612.9" r="0.65"/><circle cx="84.6" cy="614.0" r="0.65"/><circle cx="83.1" cy="620.1" r="0.65"/><circle cx="86.2" cy="616.8" r="0.65"/><circle cx="81.7" cy="620.6" r="0.65"/><circle cx="79.4" cy="612.5" r="0.65"/><circle cx="77.4" cy="612.4" r="0.65"/><circle cx="76.5" cy="618.6" r="0.65"/><circle cx="91.2" cy="616.6" r="0.65"/><circle cx="86.8" cy="619.9" r="0.65"/><circle cx="92.5" cy="627.4" r="0.65"/><circle cx="93.3" cy="627.5" r="0.65"/><circle cx="88.7" cy="625.4" r="0.65"/><circle cx="89.5" cy="616.6" r="0.65"/><circle cx="80.1" cy="617.7" r="0.65"/><circle cx="86.8" cy="612.3" r="0.65"/><circle cx="84.7" cy="611.3" r="0.65"/></g>
<g fill="none" stroke="#e8a8a8" stroke-width="0.35"><circle cx="92.6" cy="676.6" r="0.65"/><circle cx="83.1" cy="684.9" r="0.65"/></g>
<line x1="72.17" y1="636.00" x2="74.67" y2="635.00" stroke="#999" stroke-width="0.9"/>
<line x1="71.67" y1="670.00" x2="74.67" y2="669.50" stroke="#999" stroke-width="0.9"/>
<use href="#ctr" transform="translate(123.64 625)" stroke="#c4bcc0"/>
<use href="#cwt" transform="translate(123.64 625)" stroke="#cfcfd2"/>
<g fill="none" stroke="#e4a0a0" stroke-width="0.35"><circle cx="108.8" cy="620.1" r="0.65"/><circle cx="126.4" cy="626.6" r="0.65"/><circle cx="137.0" cy="620.2" r="0.65"/><circle cx="127.2" cy="627.1" r="0.65"/><circle cx="121.0" cy="627.9" r="0.65"/><circle cx="113.0" cy="622.8" r="0.65"/><circle cx="134.7" cy="615.5" r="0.65"/><circle cx="132.2" cy="625.0" r="0.65"/><circle cx="134.2" cy="624.2" r="0.65"/><circle cx="127.1" cy="626.4" r="0.65"/><circle cx="117.0" cy="612.2" r="0.65"/><circle cx="133.6" cy="615.7" r="0.65"/><circle cx="131.2" cy="611.4" r="0.65"/><circle cx="127.1" cy="624.7" r="0.65"/><circle cx="128.5" cy="626.4" r="0.65"/><circle cx="119.0" cy="610.6" r="0.65"/><circle cx="120.9" cy="608.9" r="0.65"/><circle cx="112.0" cy="614.5" r="0.65"/><circle cx="117.7" cy="608.9" r="0.65"/><circle cx="117.8" cy="626.6" r="0.65"/><circle cx="136.2" cy="616.6" r="0.65"/><circle cx="123.9" cy="608.7" r="0.65"/><circle cx="110.4" cy="620.5" r="0.65"/><circle cx="117.3" cy="610.0" r="0.65"/><circle cx="124.4" cy="612.9" r="0.65"/><circle cx="125.4" cy="613.3" r="0.65"/><circle cx="116.2" cy="614.1" r="0.65"/><circle cx="119.9" cy="611.5" r="0.65"/><circle cx="122.6" cy="620.1" r="0.65"/><circle cx="121.0" cy="620.8" r="0.65"/><circle cx="115.2" cy="617.2" r="0.65"/><circle cx="125.4" cy="615.6" r="0.65"/><circle cx="125.7" cy="616.8" r="0.65"/><circle cx="118.9" cy="611.4" r="0.65"/><circle cx="122.3" cy="611.7" r="0.65"/><circle cx="117.0" cy="617.4" r="0.65"/><circle cx="121.2" cy="620.6" r="0.65"/><circle cx="116.4" cy="613.0" r="0.65"/><circle cx="118.4" cy="610.9" r="0.65"/><circle cx="123.5" cy="620.1" r="0.65"/><circle cx="119.7" cy="612.0" r="0.65"/><circle cx="117.6" cy="619.0" r="0.65"/><circle cx="116.9" cy="612.4" r="0.65"/><circle cx="125.1" cy="613.8" r="0.65"/><circle cx="114.9" cy="616.4" r="0.65"/><circle cx="127.6" cy="618.7" r="0.65"/><circle cx="132.6" cy="620.2" r="0.65"/><circle cx="128.9" cy="624.0" r="0.65"/><circle cx="127.9" cy="624.6" r="0.65"/><circle cx="133.7" cy="621.5" r="0.65"/><circle cx="128.8" cy="617.1" r="0.65"/><circle cx="133.8" cy="620.0" r="0.65"/><circle cx="125.5" cy="621.3" r="0.65"/><circle cx="125.9" cy="617.8" r="0.65"/><circle cx="132.0" cy="627.4" r="0.65"/><circle cx="131.1" cy="625.0" r="0.65"/><circle cx="131.6" cy="626.5" r="0.65"/><circle cx="133.2" cy="627.8" r="0.65"/><circle cx="128.6" cy="624.9" r="0.65"/><circle cx="129.0" cy="626.2" r="0.65"/><circle cx="132.1" cy="627.1" r="0.65"/><circle cx="127.6" cy="622.9" r="0.65"/><circle cx="128.7" cy="624.0" r="0.65"/><circle cx="125.7" cy="612.7" r="0.65"/><circle cx="130.1" cy="626.0" r="0.65"/><circle cx="129.0" cy="616.6" r="0.65"/><circle cx="119.6" cy="617.7" r="0.65"/><circle cx="127.8" cy="627.1" r="0.65"/><circle cx="129.5" cy="615.1" r="0.65"/><circle cx="117.4" cy="622.6" r="0.65"/><circle cx="126.2" cy="612.3" r="0.65"/></g>
<g fill="none" stroke="#e8a8a8" stroke-width="0.35"><circle cx="121.1" cy="654.1" r="0.65"/><circle cx="131.5" cy="655.4" r="0.65"/><circle cx="121.2" cy="655.4" r="0.65"/><circle cx="124.9" cy="656.8" r="0.65"/><circle cx="128.1" cy="654.6" r="0.65"/><circle cx="130.6" cy="651.9" r="0.65"/><circle cx="115.4" cy="658.9" r="0.65"/><circle cx="118.2" cy="655.8" r="0.65"/><circle cx="116.3" cy="655.3" r="0.65"/><circle cx="114.9" cy="657.8" r="0.65"/><circle cx="120.8" cy="681.5" r="0.65"/><circle cx="133.5" cy="674.6" r="0.65"/><circle cx="127.4" cy="678.7" r="0.65"/><circle cx="132.1" cy="671.4" r="0.65"/><circle cx="119.2" cy="679.7" r="0.65"/><circle cx="129.3" cy="674.1" r="0.65"/><circle cx="134.1" cy="676.5" r="0.65"/><circle cx="132.5" cy="680.2" r="0.65"/><circle cx="121.3" cy="676.7" r="0.65"/><circle cx="119.7" cy="679.9" r="0.65"/><circle cx="118.8" cy="677.2" r="0.65"/><circle cx="128.2" cy="683.7" r="0.65"/><circle cx="121.0" cy="673.7" r="0.65"/><circle cx="121.0" cy="674.6" r="0.65"/><circle cx="126.3" cy="673.7" r="0.65"/><circle cx="129.5" cy="673.9" r="0.65"/><circle cx="130.5" cy="679.3" r="0.65"/><circle cx="123.4" cy="674.3" r="0.65"/><circle cx="122.4" cy="678.3" r="0.65"/><circle cx="119.1" cy="674.4" r="0.65"/><circle cx="126.3" cy="677.3" r="0.65"/><circle cx="134.1" cy="671.8" r="0.65"/><circle cx="123.2" cy="675.0" r="0.65"/><circle cx="119.0" cy="674.9" r="0.65"/><circle cx="124.1" cy="680.5" r="0.65"/><circle cx="132.6" cy="680.0" r="0.65"/></g>
<line x1="111.64" y1="636.00" x2="114.14" y2="635.00" stroke="#999" stroke-width="0.9"/>
<line x1="111.14" y1="670.00" x2="114.14" y2="669.50" stroke="#999" stroke-width="0.9"/>
<use href="#ctr" transform="translate(163.11 625)" stroke="#c4bcc0"/>
<use href="#cwt" transform="translate(163.11 625)" stroke="#cfcfd2"/>
<g fill="none" stroke="#e4a0a0" stroke-width="0.35"><circle cx="173.1" cy="621.8" r="0.65"/><circle cx="176.5" cy="620.2" r="0.65"/><circle cx="174.2" cy="618.8" r="0.65"/><circle cx="166.7" cy="627.1" r="0.65"/><circle cx="154.9" cy="610.1" r="0.65"/><circle cx="176.3" cy="617.8" r="0.65"/><circle cx="158.6" cy="609.4" r="0.65"/><circle cx="152.5" cy="622.8" r="0.65"/><circle cx="174.2" cy="615.5" r="0.65"/><circle cx="166.1" cy="626.7" r="0.65"/><circle cx="174.2" cy="617.0" r="0.65"/><circle cx="171.6" cy="625.0" r="0.65"/><circle cx="163.2" cy="609.0" r="0.65"/><circle cx="166.6" cy="626.4" r="0.65"/><circle cx="156.4" cy="612.2" r="0.65"/><circle cx="173.0" cy="615.7" r="0.65"/><circle cx="170.7" cy="611.4" r="0.65"/><circle cx="172.9" cy="612.2" r="0.65"/><circle cx="151.7" cy="613.1" r="0.65"/><circle cx="151.2" cy="613.5" r="0.65"/><circle cx="160.3" cy="627.0" r="0.65"/><circle cx="174.4" cy="620.0" r="0.65"/><circle cx="174.1" cy="622.3" r="0.65"/><circle cx="173.1" cy="611.8" r="0.65"/><circle cx="158.5" cy="608.9" r="0.65"/><circle cx="166.0" cy="607.9" r="0.65"/><circle cx="175.7" cy="616.6" r="0.65"/><circle cx="150.7" cy="621.1" r="0.65"/><circle cx="149.9" cy="620.5" r="0.65"/><circle cx="148.1" cy="616.8" r="0.65"/><circle cx="162.4" cy="627.5" r="0.65"/><circle cx="155.6" cy="614.1" r="0.65"/><circle cx="155.7" cy="615.1" r="0.65"/><circle cx="160.5" cy="620.8" r="0.65"/><circle cx="164.9" cy="615.6" r="0.65"/><circle cx="161.7" cy="611.7" r="0.65"/><circle cx="158.3" cy="612.5" r="0.65"/><circle cx="159.2" cy="612.0" r="0.65"/><circle cx="157.0" cy="619.0" r="0.65"/><circle cx="161.6" cy="611.5" r="0.65"/><circle cx="167.1" cy="618.7" r="0.65"/><circle cx="170.2" cy="616.6" r="0.65"/><circle cx="172.0" cy="620.2" r="0.65"/><circle cx="168.4" cy="624.0" r="0.65"/><circle cx="173.1" cy="621.5" r="0.65"/><circle cx="170.6" cy="617.7" r="0.65"/><circle cx="170.3" cy="617.4" r="0.65"/><circle cx="168.3" cy="617.1" r="0.65"/><circle cx="165.4" cy="617.8" r="0.65"/><circle cx="165.2" cy="620.1" r="0.65"/><circle cx="172.2" cy="617.6" r="0.65"/><circle cx="165.0" cy="620.8" r="0.65"/><circle cx="171.5" cy="627.4" r="0.65"/><circle cx="172.2" cy="627.5" r="0.65"/><circle cx="166.9" cy="623.7" r="0.65"/><circle cx="167.7" cy="625.4" r="0.65"/><circle cx="168.5" cy="626.2" r="0.65"/><circle cx="167.1" cy="622.9" r="0.65"/><circle cx="165.2" cy="612.7" r="0.65"/><circle cx="165.7" cy="623.6" r="0.65"/><circle cx="163.3" cy="613.0" r="0.65"/><circle cx="161.5" cy="617.4" r="0.65"/><circle cx="168.9" cy="615.1" r="0.65"/><circle cx="156.9" cy="622.6" r="0.65"/></g>
<g fill="none" stroke="#e8a8a8" stroke-width="0.35"><circle cx="160.7" cy="655.4" r="0.65"/><circle cx="151.7" cy="661.5" r="0.65"/><circle cx="170.0" cy="651.9" r="0.65"/><circle cx="162.4" cy="684.6" r="0.65"/><circle cx="160.2" cy="681.5" r="0.65"/><circle cx="163.8" cy="682.1" r="0.65"/><circle cx="168.6" cy="684.9" r="0.65"/><circle cx="173.6" cy="671.8" r="0.65"/></g>
<line x1="151.11" y1="636.00" x2="153.61" y2="635.00" stroke="#999" stroke-width="0.9"/>
<line x1="150.61" y1="670.00" x2="153.61" y2="669.50" stroke="#999" stroke-width="0.9"/>
<use href="#ctr" transform="translate(202.58 625)" stroke="#c4bcc0"/>
<use href="#cwt" transform="translate(202.58 625)" stroke="#cfcfd2"/>
<g fill="none" stroke="#e4a0a0" stroke-width="0.35"><circle cx="205.5" cy="609.3" r="0.65"/><circle cx="213.7" cy="618.8" r="0.65"/><circle cx="206.2" cy="627.1" r="0.65"/><circle cx="188.5" cy="616.0" r="0.65"/><circle cx="206.1" cy="626.4" r="0.65"/><circle cx="210.1" cy="611.4" r="0.65"/><circle cx="206.1" cy="624.7" r="0.65"/><circle cx="190.7" cy="613.5" r="0.65"/><circle cx="213.9" cy="620.0" r="0.65"/><circle cx="190.9" cy="614.5" r="0.65"/><circle cx="212.6" cy="611.8" r="0.65"/><circle cx="215.7" cy="620.3" r="0.65"/><circle cx="198.0" cy="608.9" r="0.65"/><circle cx="191.9" cy="611.0" r="0.65"/><circle cx="189.4" cy="613.4" r="0.65"/><circle cx="200.1" cy="607.0" r="0.65"/><circle cx="204.3" cy="613.3" r="0.65"/><circle cx="195.2" cy="615.1" r="0.65"/><circle cx="200.0" cy="620.8" r="0.65"/><circle cx="197.8" cy="612.5" r="0.65"/><circle cx="198.7" cy="612.0" r="0.65"/><circle cx="196.5" cy="619.0" r="0.65"/><circle cx="201.1" cy="611.5" r="0.65"/><circle cx="204.1" cy="613.8" r="0.65"/><circle cx="193.9" cy="616.4" r="0.65"/><circle cx="194.9" cy="618.6" r="0.65"/><circle cx="201.7" cy="611.5" r="0.65"/><circle cx="209.6" cy="616.6" r="0.65"/><circle cx="210.9" cy="623.9" r="0.65"/><circle cx="211.5" cy="620.2" r="0.65"/><circle cx="206.8" cy="624.6" r="0.65"/><circle cx="212.6" cy="621.5" r="0.65"/><circle cx="210.1" cy="617.7" r="0.65"/><circle cx="204.4" cy="619.5" r="0.65"/><circle cx="205.2" cy="619.9" r="0.65"/><circle cx="206.6" cy="624.7" r="0.65"/><circle cx="206.4" cy="623.7" r="0.65"/><circle cx="207.2" cy="625.4" r="0.65"/><circle cx="209.6" cy="626.0" r="0.65"/><circle cx="211.0" cy="627.1" r="0.65"/><circle cx="206.6" cy="622.9" r="0.65"/><circle cx="205.2" cy="623.6" r="0.65"/><circle cx="198.6" cy="617.7" r="0.65"/><circle cx="203.1" cy="611.3" r="0.65"/></g>
<g fill="none" stroke="#e8a8a8" stroke-width="0.35"><circle cx="194.3" cy="658.9" r="0.65"/><circle cx="211.6" cy="678.7" r="0.65"/><circle cx="211.1" cy="671.4" r="0.65"/><circle cx="203.3" cy="672.9" r="0.65"/></g>
<line x1="190.58" y1="636.00" x2="193.08" y2="635.00" stroke="#999" stroke-width="0.9"/>
<line x1="190.08" y1="670.00" x2="193.08" y2="669.50" stroke="#999" stroke-width="0.9"/>
<use href="#ctr" transform="translate(242.05 625)" stroke="#c4bcc0"/>
<use href="#cwt" transform="translate(242.05 625)" stroke="#cfcfd2"/>
<g fill="none" stroke="#e4a0a0" stroke-width="0.35"><circle cx="253.2" cy="618.8" r="0.65"/><circle cx="228.0" cy="616.0" r="0.65"/><circle cx="237.5" cy="609.4" r="0.65"/><circle cx="235.4" cy="612.2" r="0.65"/><circle cx="230.4" cy="614.5" r="0.65"/><circle cx="237.4" cy="608.9" r="0.65"/><circle cx="231.4" cy="611.0" r="0.65"/><circle cx="245.0" cy="607.9" r="0.65"/><circle cx="231.3" cy="612.1" r="0.65"/><circle cx="232.5" cy="612.6" r="0.65"/><circle cx="235.8" cy="610.0" r="0.65"/><circle cx="241.0" cy="620.1" r="0.65"/><circle cx="244.1" cy="616.8" r="0.65"/><circle cx="239.6" cy="620.6" r="0.65"/><circle cx="237.3" cy="612.5" r="0.65"/><circle cx="251.0" cy="620.2" r="0.65"/><circle cx="247.3" cy="624.0" r="0.65"/><circle cx="249.5" cy="617.7" r="0.65"/><circle cx="250.6" cy="617.5" r="0.65"/><circle cx="251.2" cy="627.5" r="0.65"/><circle cx="250.0" cy="626.5" r="0.65"/><circle cx="243.6" cy="622.4" r="0.65"/><circle cx="248.5" cy="626.0" r="0.65"/><circle cx="234.3" cy="620.0" r="0.65"/></g>
<g fill="none" stroke="#e8a8a8" stroke-width="0.35"><circle cx="242.5" cy="680.5" r="0.65"/></g>
<line x1="230.05" y1="636.00" x2="232.55" y2="635.00" stroke="#999" stroke-width="0.9"/>
<line x1="229.55" y1="670.00" x2="232.55" y2="669.50" stroke="#999" stroke-width="0.9"/>
<use href="#ctr" transform="translate(281.52 625)" stroke="#c4bcc0"/>
<use href="#cwt" transform="translate(281.52 625)" stroke="#cfcfd2"/>
<g fill="none" stroke="#e4a0a0" stroke-width="0.35"><circle cx="284.2" cy="626.6" r="0.65"/><circle cx="294.9" cy="620.2" r="0.65"/><circle cx="284.5" cy="626.7" r="0.65"/><circle cx="290.0" cy="625.0" r="0.65"/><circle cx="273.5" cy="611.2" r="0.65"/><circle cx="284.0" cy="610.8" r="0.65"/><circle cx="291.3" cy="612.2" r="0.65"/><circle cx="270.1" cy="613.1" r="0.65"/><circle cx="269.6" cy="613.5" r="0.65"/><circle cx="284.4" cy="607.9" r="0.65"/><circle cx="270.9" cy="622.9" r="0.65"/><circle cx="269.1" cy="621.1" r="0.65"/><circle cx="274.1" cy="614.1" r="0.65"/><circle cx="273.1" cy="617.2" r="0.65"/><circle cx="274.8" cy="617.4" r="0.65"/><circle cx="281.4" cy="620.1" r="0.65"/><circle cx="275.5" cy="619.0" r="0.65"/><circle cx="280.6" cy="611.5" r="0.65"/><circle cx="286.7" cy="617.1" r="0.65"/><circle cx="290.6" cy="617.6" r="0.65"/><circle cx="291.1" cy="627.8" r="0.65"/><circle cx="288.6" cy="626.0" r="0.65"/><circle cx="281.7" cy="613.0" r="0.65"/><circle cx="277.5" cy="617.7" r="0.65"/><circle cx="275.3" cy="622.6" r="0.65"/></g>
<g fill="none" stroke="#e8a8a8" stroke-width="0.35"><circle cx="278.1" cy="681.3" r="0.65"/></g>
<line x1="269.52" y1="636.00" x2="272.02" y2="635.00" stroke="#999" stroke-width="0.9"/>
<line x1="269.02" y1="670.00" x2="272.02" y2="669.50" stroke="#999" stroke-width="0.9"/>
<use href="#ctr" transform="translate(320.99 625)" stroke="#c4bcc0"/>
<use href="#cwt" transform="translate(320.99 625)" stroke="#cfcfd2"/>
<g fill="none" stroke="#e4a0a0" stroke-width="0.35"><circle cx="306.1" cy="620.1" r="0.65"/><circle cx="312.5" cy="609.8" r="0.65"/><circle cx="306.2" cy="620.8" r="0.65"/><circle cx="316.5" cy="609.4" r="0.65"/><circle cx="310.4" cy="622.8" r="0.65"/><circle cx="311.5" cy="610.4" r="0.65"/><circle cx="321.1" cy="609.0" r="0.65"/><circle cx="331.5" cy="624.2" r="0.65"/><circle cx="324.5" cy="626.4" r="0.65"/><circle cx="312.9" cy="611.2" r="0.65"/><circle cx="314.3" cy="612.2" r="0.65"/><circle cx="330.0" cy="622.8" r="0.65"/><circle cx="309.3" cy="613.1" r="0.65"/><circle cx="309.7" cy="612.4" r="0.65"/><circle cx="332.8" cy="620.1" r="0.65"/><circle cx="308.6" cy="621.1" r="0.65"/><circle cx="314.7" cy="610.0" r="0.65"/><circle cx="315.7" cy="610.9" r="0.65"/><circle cx="316.2" cy="612.5" r="0.65"/><circle cx="320.8" cy="620.1" r="0.65"/><circle cx="317.1" cy="612.0" r="0.65"/><circle cx="314.9" cy="619.0" r="0.65"/><circle cx="312.3" cy="616.4" r="0.65"/><circle cx="313.3" cy="618.6" r="0.65"/><circle cx="325.2" cy="624.6" r="0.65"/><circle cx="323.3" cy="619.1" r="0.65"/><circle cx="322.8" cy="619.5" r="0.65"/><circle cx="331.2" cy="620.0" r="0.65"/><circle cx="323.3" cy="617.8" r="0.65"/><circle cx="329.6" cy="617.5" r="0.65"/><circle cx="330.1" cy="627.5" r="0.65"/><circle cx="327.6" cy="624.0" r="0.65"/><circle cx="330.5" cy="627.8" r="0.65"/><circle cx="325.9" cy="624.9" r="0.65"/><circle cx="326.3" cy="626.2" r="0.65"/><circle cx="328.0" cy="626.0" r="0.65"/><circle cx="326.1" cy="624.0" r="0.65"/><circle cx="323.6" cy="623.6" r="0.65"/><circle cx="319.4" cy="617.4" r="0.65"/><circle cx="327.4" cy="626.0" r="0.65"/><circle cx="323.6" cy="612.3" r="0.65"/></g>
<g fill="none" stroke="#e8a8a8" stroke-width="0.35"><circle cx="324.6" cy="662.9" r="0.65"/><circle cx="315.8" cy="657.6" r="0.65"/><circle cx="309.6" cy="661.5" r="0.65"/><circle cx="322.1" cy="675.4" r="0.65"/><circle cx="324.4" cy="680.8" r="0.65"/><circle cx="325.5" cy="683.7" r="0.65"/><circle cx="317.8" cy="672.8" r="0.65"/><circle cx="330.4" cy="674.9" r="0.65"/></g>
<line x1="308.99" y1="636.00" x2="311.49" y2="635.00" stroke="#999" stroke-width="0.9"/>
<line x1="308.49" y1="670.00" x2="311.49" y2="669.50" stroke="#999" stroke-width="0.9"/>
<use href="#ctr" transform="translate(360.46 625)" stroke="#c4bcc0"/>
<use href="#cwt" transform="translate(360.46 625)" stroke="#cfcfd2"/>
<g fill="none" stroke="#e4a0a0" stroke-width="0.35"><circle cx="345.6" cy="620.1" r="0.65"/><circle cx="363.4" cy="609.3" r="0.65"/><circle cx="370.5" cy="621.8" r="0.65"/><circle cx="373.8" cy="620.2" r="0.65"/><circle cx="352.0" cy="609.8" r="0.65"/><circle cx="371.6" cy="618.8" r="0.65"/><circle cx="364.1" cy="627.1" r="0.65"/><circle cx="346.4" cy="616.0" r="0.65"/><circle cx="352.2" cy="610.1" r="0.65"/><circle cx="357.8" cy="627.9" r="0.65"/><circle cx="349.8" cy="622.8" r="0.65"/><circle cx="363.4" cy="626.7" r="0.65"/><circle cx="360.6" cy="609.0" r="0.65"/><circle cx="352.4" cy="611.2" r="0.65"/><circle cx="353.8" cy="612.2" r="0.65"/><circle cx="363.9" cy="624.7" r="0.65"/><circle cx="372.2" cy="620.1" r="0.65"/><circle cx="357.7" cy="608.9" r="0.65"/><circle cx="357.6" cy="627.0" r="0.65"/><circle cx="348.8" cy="614.5" r="0.65"/><circle cx="355.9" cy="608.9" r="0.65"/><circle cx="354.6" cy="626.6" r="0.65"/><circle cx="370.3" cy="611.8" r="0.65"/><circle cx="363.4" cy="607.9" r="0.65"/><circle cx="349.7" cy="612.1" r="0.65"/><circle cx="349.8" cy="622.9" r="0.65"/><circle cx="361.3" cy="612.9" r="0.65"/><circle cx="360.9" cy="614.0" r="0.65"/><circle cx="358.1" cy="620.7" r="0.65"/><circle cx="362.2" cy="613.3" r="0.65"/><circle cx="353.0" cy="614.1" r="0.65"/><circle cx="352.0" cy="617.2" r="0.65"/><circle cx="362.5" cy="616.8" r="0.65"/><circle cx="355.7" cy="611.4" r="0.65"/><circle cx="358.0" cy="620.6" r="0.65"/><circle cx="353.2" cy="613.0" r="0.65"/><circle cx="355.2" cy="610.9" r="0.65"/><circle cx="356.6" cy="612.0" r="0.65"/><circle cx="359.0" cy="611.5" r="0.65"/><circle cx="362.0" cy="613.8" r="0.65"/><circle cx="351.7" cy="616.4" r="0.65"/><circle cx="367.5" cy="616.6" r="0.65"/><circle cx="368.7" cy="623.9" r="0.65"/><circle cx="369.4" cy="620.2" r="0.65"/><circle cx="364.7" cy="624.6" r="0.65"/><circle cx="367.9" cy="617.7" r="0.65"/><circle cx="362.3" cy="621.3" r="0.65"/><circle cx="369.0" cy="617.5" r="0.65"/><circle cx="362.3" cy="620.8" r="0.65"/><circle cx="364.5" cy="624.7" r="0.65"/><circle cx="368.4" cy="626.5" r="0.65"/><circle cx="365.0" cy="625.4" r="0.65"/><circle cx="364.5" cy="622.9" r="0.65"/><circle cx="363.1" cy="623.6" r="0.65"/><circle cx="362.0" cy="622.4" r="0.65"/><circle cx="361.0" cy="611.3" r="0.65"/><circle cx="352.7" cy="620.0" r="0.65"/></g>
<g fill="none" stroke="#e8a8a8" stroke-width="0.35"><circle cx="358.0" cy="655.4" r="0.65"/><circle cx="356.3" cy="655.4" r="0.65"/><circle cx="368.9" cy="671.4" r="0.65"/><circle cx="371.0" cy="671.8" r="0.65"/><circle cx="369.3" cy="673.5" r="0.65"/></g>
<line x1="348.46" y1="636.00" x2="350.96" y2="635.00" stroke="#999" stroke-width="0.9"/>
<line x1="347.96" y1="670.00" x2="350.96" y2="669.50" stroke="#999" stroke-width="0.9"/>
<use href="#ctr" transform="translate(399.93 625)" stroke="#c4bcc0"/>
<use href="#cwt" transform="translate(399.93 625)" stroke="#cfcfd2"/>
<g fill="none" stroke="#e4a0a0" stroke-width="0.35"><circle cx="385.1" cy="620.1" r="0.65"/><circle cx="385.5" cy="620.0" r="0.65"/><circle cx="402.7" cy="626.6" r="0.65"/><circle cx="402.9" cy="609.3" r="0.65"/><circle cx="410.0" cy="621.8" r="0.65"/><circle cx="411.1" cy="618.8" r="0.65"/><circle cx="385.1" cy="620.8" r="0.65"/><circle cx="385.8" cy="616.0" r="0.65"/><circle cx="413.2" cy="617.8" r="0.65"/><circle cx="389.3" cy="622.8" r="0.65"/><circle cx="411.0" cy="615.5" r="0.65"/><circle cx="402.9" cy="626.7" r="0.65"/><circle cx="411.1" cy="617.0" r="0.65"/><circle cx="410.5" cy="624.2" r="0.65"/><circle cx="402.4" cy="610.8" r="0.65"/><circle cx="393.3" cy="612.2" r="0.65"/><circle cx="408.9" cy="622.8" r="0.65"/><circle cx="388.2" cy="613.1" r="0.65"/><circle cx="409.8" cy="615.7" r="0.65"/><circle cx="388.6" cy="612.4" r="0.65"/><circle cx="397.2" cy="608.9" r="0.65"/><circle cx="388.0" cy="613.5" r="0.65"/><circle cx="409.9" cy="611.8" r="0.65"/><circle cx="394.0" cy="608.9" r="0.65"/><circle cx="389.3" cy="611.0" r="0.65"/><circle cx="394.0" cy="626.6" r="0.65"/><circle cx="397.5" cy="607.0" r="0.65"/><circle cx="402.8" cy="607.9" r="0.65"/><circle cx="390.4" cy="612.6" r="0.65"/><circle cx="400.1" cy="608.7" r="0.65"/><circle cx="386.7" cy="620.5" r="0.65"/><circle cx="384.9" cy="616.8" r="0.65"/><circle cx="399.2" cy="627.5" r="0.65"/><circle cx="401.7" cy="613.3" r="0.65"/><circle cx="392.5" cy="614.1" r="0.65"/><circle cx="396.2" cy="611.5" r="0.65"/><circle cx="397.3" cy="620.8" r="0.65"/><circle cx="391.5" cy="617.2" r="0.65"/><circle cx="392.7" cy="613.0" r="0.65"/><circle cx="394.7" cy="610.9" r="0.65"/><circle cx="395.1" cy="612.5" r="0.65"/><circle cx="396.0" cy="612.0" r="0.65"/><circle cx="393.2" cy="612.4" r="0.65"/><circle cx="398.4" cy="611.5" r="0.65"/><circle cx="392.2" cy="618.6" r="0.65"/><circle cx="399.0" cy="611.5" r="0.65"/><circle cx="408.2" cy="623.9" r="0.65"/><circle cx="405.2" cy="624.0" r="0.65"/><circle cx="404.2" cy="624.6" r="0.65"/><circle cx="407.1" cy="617.4" r="0.65"/><circle cx="401.8" cy="619.5" r="0.65"/><circle cx="405.1" cy="617.1" r="0.65"/><circle cx="410.1" cy="620.0" r="0.65"/><circle cx="402.2" cy="617.8" r="0.65"/><circle cx="402.0" cy="620.1" r="0.65"/><circle cx="402.6" cy="619.9" r="0.65"/><circle cx="408.3" cy="627.4" r="0.65"/><circle cx="409.1" cy="627.5" r="0.65"/><circle cx="403.9" cy="624.7" r="0.65"/><circle cx="406.0" cy="626.3" r="0.65"/><circle cx="407.9" cy="626.5" r="0.65"/><circle cx="403.7" cy="623.7" r="0.65"/><circle cx="407.0" cy="626.0" r="0.65"/><circle cx="408.4" cy="627.1" r="0.65"/><circle cx="403.9" cy="622.9" r="0.65"/><circle cx="402.5" cy="623.6" r="0.65"/><circle cx="400.1" cy="613.0" r="0.65"/><circle cx="398.3" cy="617.4" r="0.65"/><circle cx="404.1" cy="627.1" r="0.65"/><circle cx="393.7" cy="622.6" r="0.65"/><circle cx="392.2" cy="620.0" r="0.65"/></g>
<g fill="none" stroke="#e8a8a8" stroke-width="0.35"><circle cx="388.1" cy="654.6" r="0.65"/><circle cx="403.3" cy="681.6" r="0.65"/><circle cx="398.6" cy="683.4" r="0.65"/><circle cx="400.4" cy="680.5" r="0.65"/><circle cx="402.2" cy="684.5" r="0.65"/><circle cx="408.9" cy="680.0" r="0.65"/></g>
<line x1="387.93" y1="636.00" x2="390.43" y2="635.00" stroke="#999" stroke-width="0.9"/>
<line x1="387.43" y1="670.00" x2="390.43" y2="669.50" stroke="#999" stroke-width="0.9"/>
<use href="#ctr" transform="translate(439.40 625)" stroke="#c4bcc0"/>
<use href="#cwt" transform="translate(439.40 625)" stroke="#cfcfd2"/>
<g fill="none" stroke="#e4a0a0" stroke-width="0.35"><circle cx="425.0" cy="620.0" r="0.65"/><circle cx="442.4" cy="609.3" r="0.65"/><circle cx="449.4" cy="621.8" r="0.65"/><circle cx="452.8" cy="620.2" r="0.65"/><circle cx="450.5" cy="618.8" r="0.65"/><circle cx="443.0" cy="627.1" r="0.65"/><circle cx="424.6" cy="620.8" r="0.65"/><circle cx="425.3" cy="616.0" r="0.65"/><circle cx="434.9" cy="609.4" r="0.65"/><circle cx="450.5" cy="615.5" r="0.65"/><circle cx="429.9" cy="610.4" r="0.65"/><circle cx="447.9" cy="625.0" r="0.65"/><circle cx="431.4" cy="611.2" r="0.65"/><circle cx="432.7" cy="612.2" r="0.65"/><circle cx="432.3" cy="626.7" r="0.65"/><circle cx="448.4" cy="622.8" r="0.65"/><circle cx="449.3" cy="615.7" r="0.65"/><circle cx="447.0" cy="611.4" r="0.65"/><circle cx="449.2" cy="612.2" r="0.65"/><circle cx="442.9" cy="624.7" r="0.65"/><circle cx="434.8" cy="610.6" r="0.65"/><circle cx="428.0" cy="613.1" r="0.65"/><circle cx="436.7" cy="608.9" r="0.65"/><circle cx="427.5" cy="613.5" r="0.65"/><circle cx="436.6" cy="627.0" r="0.65"/><circle cx="450.7" cy="620.0" r="0.65"/><circle cx="450.4" cy="622.3" r="0.65"/><circle cx="452.6" cy="620.3" r="0.65"/><circle cx="428.8" cy="611.0" r="0.65"/><circle cx="426.3" cy="613.4" r="0.65"/><circle cx="436.9" cy="607.0" r="0.65"/><circle cx="449.2" cy="611.8" r="0.65"/><circle cx="442.3" cy="607.9" r="0.65"/><circle cx="451.9" cy="616.6" r="0.65"/><circle cx="427.0" cy="621.1" r="0.65"/><circle cx="439.6" cy="608.7" r="0.65"/><circle cx="426.2" cy="620.5" r="0.65"/><circle cx="439.9" cy="614.0" r="0.65"/><circle cx="437.0" cy="620.7" r="0.65"/><circle cx="441.1" cy="613.3" r="0.65"/><circle cx="431.9" cy="614.1" r="0.65"/><circle cx="435.7" cy="611.5" r="0.65"/><circle cx="438.4" cy="620.1" r="0.65"/><circle cx="436.8" cy="620.8" r="0.65"/><circle cx="430.9" cy="617.2" r="0.65"/><circle cx="441.1" cy="615.6" r="0.65"/><circle cx="441.4" cy="616.8" r="0.65"/><circle cx="434.6" cy="611.4" r="0.65"/><circle cx="438.0" cy="611.7" r="0.65"/><circle cx="432.2" cy="613.0" r="0.65"/><circle cx="434.1" cy="610.9" r="0.65"/><circle cx="434.6" cy="612.5" r="0.65"/><circle cx="439.2" cy="620.1" r="0.65"/><circle cx="435.5" cy="612.0" r="0.65"/><circle cx="440.9" cy="613.8" r="0.65"/><circle cx="430.7" cy="616.4" r="0.65"/><circle cx="443.6" cy="624.6" r="0.65"/><circle cx="441.7" cy="619.1" r="0.65"/><circle cx="449.4" cy="621.5" r="0.65"/><circle cx="446.9" cy="617.7" r="0.65"/><circle cx="446.6" cy="617.4" r="0.65"/><circle cx="441.2" cy="619.5" r="0.65"/><circle cx="444.6" cy="617.1" r="0.65"/><circle cx="449.6" cy="620.0" r="0.65"/><circle cx="441.2" cy="621.3" r="0.65"/><circle cx="441.5" cy="620.1" r="0.65"/><circle cx="442.0" cy="619.9" r="0.65"/><circle cx="441.3" cy="620.8" r="0.65"/><circle cx="446.9" cy="625.0" r="0.65"/><circle cx="443.4" cy="624.7" r="0.65"/><circle cx="446.0" cy="624.0" r="0.65"/><circle cx="445.5" cy="626.3" r="0.65"/><circle cx="443.2" cy="623.7" r="0.65"/><circle cx="444.0" cy="625.4" r="0.65"/><circle cx="446.5" cy="626.6" r="0.65"/><circle cx="446.4" cy="626.0" r="0.65"/><circle cx="443.4" cy="622.9" r="0.65"/><circle cx="442.0" cy="623.6" r="0.65"/><circle cx="437.8" cy="617.4" r="0.65"/><circle cx="441.0" cy="622.4" r="0.65"/><circle cx="445.8" cy="626.0" r="0.65"/><circle cx="444.8" cy="616.6" r="0.65"/><circle cx="443.5" cy="627.1" r="0.65"/><circle cx="445.2" cy="615.1" r="0.65"/><circle cx="433.2" cy="622.6" r="0.65"/><circle cx="439.9" cy="611.3" r="0.65"/><circle cx="431.7" cy="620.0" r="0.65"/></g>
<g fill="none" stroke="#e8a8a8" stroke-width="0.35"><circle cx="445.0" cy="659.3" r="0.65"/><circle cx="435.1" cy="659.7" r="0.65"/><circle cx="432.1" cy="655.3" r="0.65"/><circle cx="448.3" cy="680.2" r="0.65"/><circle cx="443.9" cy="683.7" r="0.65"/><circle cx="442.9" cy="678.0" r="0.65"/><circle cx="448.8" cy="674.9" r="0.65"/><circle cx="448.3" cy="680.0" r="0.65"/></g>
<line x1="427.40" y1="636.00" x2="429.90" y2="635.00" stroke="#999" stroke-width="0.9"/>
<line x1="426.90" y1="670.00" x2="429.90" y2="669.50" stroke="#999" stroke-width="0.9"/>
<use href="#ctr" transform="translate(478.87 625)" stroke="#c4bcc0"/>
<use href="#cwt" transform="translate(478.87 625)" stroke="#cfcfd2"/>
<g fill="none" stroke="#e4a0a0" stroke-width="0.35"><circle cx="464.5" cy="620.0" r="0.65"/><circle cx="488.9" cy="621.8" r="0.65"/><circle cx="470.4" cy="609.8" r="0.65"/><circle cx="490.0" cy="618.8" r="0.65"/><circle cx="482.5" cy="627.1" r="0.65"/><circle cx="464.1" cy="620.8" r="0.65"/><circle cx="470.6" cy="610.1" r="0.65"/><circle cx="492.1" cy="617.8" r="0.65"/><circle cx="474.3" cy="609.4" r="0.65"/><circle cx="476.2" cy="627.9" r="0.65"/><circle cx="481.9" cy="626.7" r="0.65"/><circle cx="469.4" cy="610.4" r="0.65"/><circle cx="479.0" cy="609.0" r="0.65"/><circle cx="482.4" cy="626.2" r="0.65"/><circle cx="481.4" cy="610.8" r="0.65"/><circle cx="472.2" cy="612.2" r="0.65"/><circle cx="467.1" cy="613.1" r="0.65"/><circle cx="488.8" cy="615.7" r="0.65"/><circle cx="476.1" cy="608.9" r="0.65"/><circle cx="490.2" cy="620.0" r="0.65"/><circle cx="467.2" cy="614.5" r="0.65"/><circle cx="473.0" cy="626.6" r="0.65"/><circle cx="465.7" cy="613.4" r="0.65"/><circle cx="488.7" cy="611.8" r="0.65"/><circle cx="468.1" cy="612.1" r="0.65"/><circle cx="463.8" cy="616.8" r="0.65"/><circle cx="479.7" cy="612.9" r="0.65"/><circle cx="476.5" cy="620.7" r="0.65"/><circle cx="480.6" cy="613.3" r="0.65"/><circle cx="471.4" cy="614.1" r="0.65"/><circle cx="471.5" cy="615.1" r="0.65"/><circle cx="477.8" cy="620.1" r="0.65"/><circle cx="480.6" cy="615.6" r="0.65"/><circle cx="471.6" cy="613.0" r="0.65"/><circle cx="473.6" cy="610.9" r="0.65"/><circle cx="474.1" cy="612.5" r="0.65"/><circle cx="478.7" cy="620.1" r="0.65"/><circle cx="475.0" cy="612.0" r="0.65"/><circle cx="472.1" cy="612.4" r="0.65"/><circle cx="471.2" cy="618.6" r="0.65"/><circle cx="477.9" cy="611.5" r="0.65"/><circle cx="485.9" cy="616.6" r="0.65"/><circle cx="487.8" cy="620.2" r="0.65"/><circle cx="484.2" cy="624.0" r="0.65"/><circle cx="483.1" cy="624.6" r="0.65"/><circle cx="481.1" cy="619.1" r="0.65"/><circle cx="488.9" cy="621.5" r="0.65"/><circle cx="484.0" cy="617.1" r="0.65"/><circle cx="489.0" cy="620.0" r="0.65"/><circle cx="480.7" cy="621.3" r="0.65"/><circle cx="480.9" cy="620.1" r="0.65"/><circle cx="481.5" cy="619.9" r="0.65"/><circle cx="485.5" cy="624.0" r="0.65"/><circle cx="486.8" cy="626.5" r="0.65"/><circle cx="488.4" cy="627.8" r="0.65"/><circle cx="484.2" cy="626.2" r="0.65"/><circle cx="487.3" cy="627.1" r="0.65"/><circle cx="482.9" cy="622.9" r="0.65"/><circle cx="483.9" cy="624.0" r="0.65"/><circle cx="479.1" cy="613.0" r="0.65"/><circle cx="477.3" cy="617.4" r="0.65"/><circle cx="474.8" cy="617.7" r="0.65"/><circle cx="483.0" cy="627.1" r="0.65"/><circle cx="484.7" cy="615.1" r="0.65"/><circle cx="479.4" cy="611.3" r="0.65"/><circle cx="475.2" cy="624.3" r="0.65"/><circle cx="471.1" cy="620.0" r="0.65"/></g>
<g fill="none" stroke="#e8a8a8" stroke-width="0.35"><circle cx="486.7" cy="655.4" r="0.65"/><circle cx="484.0" cy="657.8" r="0.65"/><circle cx="489.7" cy="662.3" r="0.65"/><circle cx="473.3" cy="678.0" r="0.65"/><circle cx="474.9" cy="679.9" r="0.65"/><circle cx="476.0" cy="681.5" r="0.65"/><circle cx="481.5" cy="677.3" r="0.65"/></g>
<line x1="466.87" y1="636.00" x2="469.37" y2="635.00" stroke="#999" stroke-width="0.9"/>
<line x1="466.37" y1="670.00" x2="469.37" y2="669.50" stroke="#999" stroke-width="0.9"/>
<text x="23.60" y="626.00" font-size="8.4" text-anchor="middle" fill="#d0445c" textLength="20.00" lengthAdjust="spacingAndGlyphs" stroke="#d0445c" stroke-width="0.1" transform="rotate(-90 23.60 626.00)">MxTR</text>
<text x="23.60" y="670.00" font-size="8.4" text-anchor="middle" fill="#4a7fae" textLength="23.00" lengthAdjust="spacingAndGlyphs" stroke="#4a7fae" stroke-width="0.1" transform="rotate(-90 23.60 670.00)">MxWT</text>
<line x1="12.60" y1="668.00" x2="12.60" y2="693.80" stroke="#111" stroke-width="1.1"/>
<line x1="12.10" y1="693.80" x2="39.50" y2="693.80" stroke="#111" stroke-width="1.1"/>
<polygon points="10.40,668.50 14.80,668.50 12.60,665.00" fill="#111"/>
<polygon points="39.00,691.60 39.00,696.00 42.60,693.80" fill="#111"/>
<text x="7.90" y="681.80" font-size="7.6" text-anchor="middle" fill="#222" textLength="26.70" lengthAdjust="spacingAndGlyphs" stroke="#222" stroke-width="0.1" transform="rotate(-90 7.90 681.80)">UMAP1</text>
<text x="12.50" y="703.95" font-size="7.4" fill="#222" textLength="27.50" lengthAdjust="spacingAndGlyphs" stroke="#222" stroke-width="0.1">UMAP2</text>
<rect x="509.60" y="656.50" width="3.40" height="18.50" fill="url(#mg)"/>
<text x="505.00" y="652.88" font-size="7.2" fill="#333" textLength="13.20" lengthAdjust="spacingAndGlyphs" stroke="#333" stroke-width="0.1">High</text>
<text x="505.70" y="682.18" font-size="7.2" fill="#333" textLength="10.80" lengthAdjust="spacingAndGlyphs" stroke="#333" stroke-width="0.1">Low</text>
<text x="501.40" y="667.00" font-size="7.2" text-anchor="middle" fill="#333" textLength="36.00" lengthAdjust="spacingAndGlyphs" stroke="#333" stroke-width="0.1" transform="rotate(-90 501.40 667.00)">Expression</text>
</svg>
</body></html>
